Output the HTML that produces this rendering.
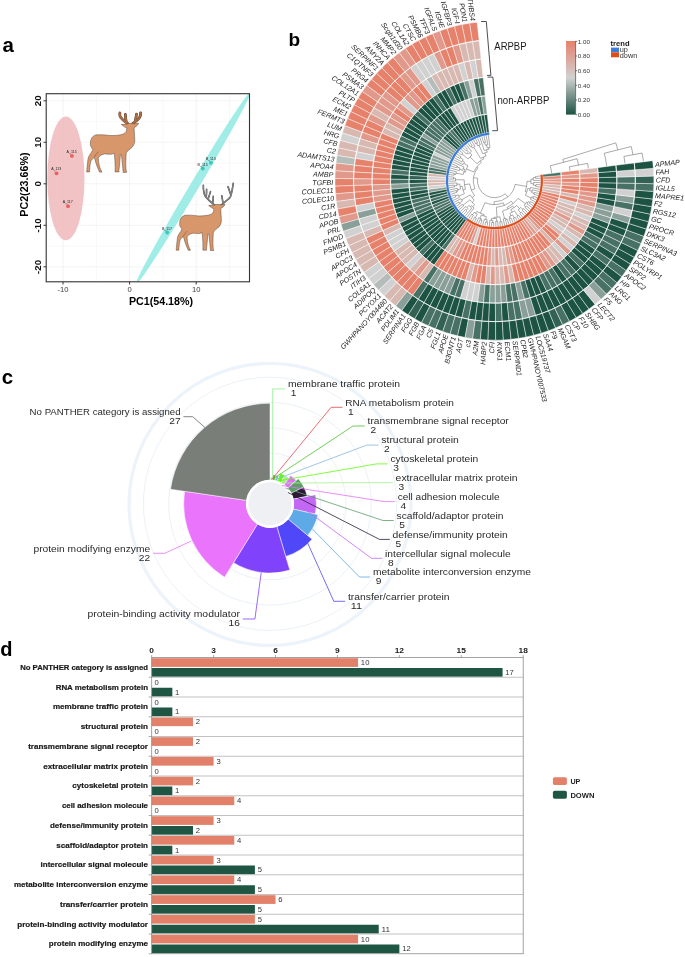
<!DOCTYPE html><html><head><meta charset="utf-8"><style>html,body{margin:0;padding:0;background:#fff;}svg{display:block;font-family:"Liberation Sans", sans-serif;will-change:transform;}</style></head><body><svg width="685" height="957" viewBox="0 0 685 957"><rect width="685" height="957" fill="#fff"/><text x="2.50" y="51.80" font-size="20.5" text-anchor="start" fill="#000" font-weight="bold">a</text><text x="288.60" y="46.00" font-size="19" text-anchor="start" fill="#000" font-weight="bold">b</text><text x="1.80" y="383.60" font-size="20.5" text-anchor="start" fill="#000" font-weight="bold">c</text><text x="0.30" y="655.70" font-size="20" text-anchor="start" fill="#000" font-weight="bold">d</text><defs><clipPath id="pa"><rect x="46.2" y="93.7" width="203.3" height="188.10000000000002"/></clipPath></defs><g clip-path="url(#pa)"><line x1="63.00" y1="93.7" x2="63.00" y2="281.8" stroke="#ebebeb" stroke-width="0.6"/><line x1="96.30" y1="93.7" x2="96.30" y2="281.8" stroke="#ebebeb" stroke-width="0.35"/><line x1="129.60" y1="93.7" x2="129.60" y2="281.8" stroke="#ebebeb" stroke-width="0.6"/><line x1="162.90" y1="93.7" x2="162.90" y2="281.8" stroke="#ebebeb" stroke-width="0.35"/><line x1="196.20" y1="93.7" x2="196.20" y2="281.8" stroke="#ebebeb" stroke-width="0.6"/><line x1="229.50" y1="93.7" x2="229.50" y2="281.8" stroke="#ebebeb" stroke-width="0.35"/><line x1="46.2" y1="266.80" x2="249.5" y2="266.80" stroke="#ebebeb" stroke-width="0.6"/><line x1="46.2" y1="246.05" x2="249.5" y2="246.05" stroke="#ebebeb" stroke-width="0.35"/><line x1="46.2" y1="225.30" x2="249.5" y2="225.30" stroke="#ebebeb" stroke-width="0.6"/><line x1="46.2" y1="204.55" x2="249.5" y2="204.55" stroke="#ebebeb" stroke-width="0.35"/><line x1="46.2" y1="183.80" x2="249.5" y2="183.80" stroke="#ebebeb" stroke-width="0.6"/><line x1="46.2" y1="163.05" x2="249.5" y2="163.05" stroke="#ebebeb" stroke-width="0.35"/><line x1="46.2" y1="142.30" x2="249.5" y2="142.30" stroke="#ebebeb" stroke-width="0.6"/><line x1="46.2" y1="121.55" x2="249.5" y2="121.55" stroke="#ebebeb" stroke-width="0.35"/><line x1="46.2" y1="100.80" x2="249.5" y2="100.80" stroke="#ebebeb" stroke-width="0.6"/><ellipse cx="65.9" cy="178.4" rx="18.6" ry="61.9" fill="#eeb8bb" fill-opacity="0.85"/><ellipse cx="193.2" cy="188.2" rx="112" ry="4.4" fill="#8fe9e2" fill-opacity="0.85" transform="rotate(-59.22 193.2 188.2)"/></g><rect x="46.2" y="93.7" width="203.3" height="188.10000000000002" fill="none" stroke="#333" stroke-width="1.1"/><line x1="63.00" y1="281.8" x2="63.00" y2="284.5" stroke="#333" stroke-width="1"/><text x="63.00" y="292.20" font-size="7.6" text-anchor="middle" fill="#3a3a3a">-10</text><line x1="129.60" y1="281.8" x2="129.60" y2="284.5" stroke="#333" stroke-width="1"/><text x="129.60" y="292.20" font-size="7.6" text-anchor="middle" fill="#3a3a3a">0</text><line x1="196.20" y1="281.8" x2="196.20" y2="284.5" stroke="#333" stroke-width="1"/><text x="196.20" y="292.20" font-size="7.6" text-anchor="middle" fill="#3a3a3a">10</text><line x1="43.5" y1="266.80" x2="46.2" y2="266.80" stroke="#333" stroke-width="1"/><text x="40.90" y="266.80" font-size="9.8" text-anchor="middle" fill="#111" font-weight="bold" transform="rotate(-90.000 40.90 266.80)">-20</text><line x1="43.5" y1="225.30" x2="46.2" y2="225.30" stroke="#333" stroke-width="1"/><text x="40.90" y="225.30" font-size="9.8" text-anchor="middle" fill="#111" font-weight="bold" transform="rotate(-90.000 40.90 225.30)">-10</text><line x1="43.5" y1="183.80" x2="46.2" y2="183.80" stroke="#333" stroke-width="1"/><text x="40.90" y="183.80" font-size="9.8" text-anchor="middle" fill="#111" font-weight="bold" transform="rotate(-90.000 40.90 183.80)">0</text><line x1="43.5" y1="142.30" x2="46.2" y2="142.30" stroke="#333" stroke-width="1"/><text x="40.90" y="142.30" font-size="9.8" text-anchor="middle" fill="#111" font-weight="bold" transform="rotate(-90.000 40.90 142.30)">10</text><line x1="43.5" y1="100.80" x2="46.2" y2="100.80" stroke="#333" stroke-width="1"/><text x="40.90" y="100.80" font-size="9.8" text-anchor="middle" fill="#111" font-weight="bold" transform="rotate(-90.000 40.90 100.80)">20</text><text x="161.00" y="304.70" font-size="11.3" text-anchor="middle" fill="#000" font-weight="bold" textLength="64.20" lengthAdjust="spacingAndGlyphs">PC1(54.18%)</text><text x="27.60" y="184.60" font-size="11.3" text-anchor="middle" fill="#000" font-weight="bold" textLength="64.20" lengthAdjust="spacingAndGlyphs" transform="rotate(-90.000 27.60 184.60)">PC2(23.66%)</text><circle cx="56.5" cy="173.3" r="1.9" fill="#ee5e5a"/><line x1="55.3" y1="172.10000000000002" x2="54.3" y2="170.9" stroke="#333" stroke-width="0.25"/><text x="51.20" y="170.30" font-size="3.6" text-anchor="start" fill="#222">A_113</text><circle cx="71.9" cy="155.9" r="1.9" fill="#ee5e5a"/><line x1="70.7" y1="154.70000000000002" x2="69.7" y2="153.5" stroke="#333" stroke-width="0.25"/><text x="66.60" y="152.90" font-size="3.6" text-anchor="start" fill="#222">A_115</text><circle cx="68" cy="206.2" r="1.9" fill="#ee5e5a"/><line x1="66.8" y1="205.0" x2="65.8" y2="203.79999999999998" stroke="#333" stroke-width="0.25"/><text x="62.70" y="203.20" font-size="3.6" text-anchor="start" fill="#222">A_117</text><circle cx="211" cy="162.8" r="1.9" fill="#3cc6be"/><line x1="209.8" y1="161.60000000000002" x2="208.8" y2="160.4" stroke="#333" stroke-width="0.25"/><text x="205.70" y="159.80" font-size="3.6" text-anchor="start" fill="#222">B_113</text><circle cx="202.8" cy="168.5" r="1.9" fill="#3cc6be"/><line x1="201.60000000000002" y1="167.3" x2="200.60000000000002" y2="166.1" stroke="#333" stroke-width="0.25"/><text x="197.50" y="165.50" font-size="3.6" text-anchor="start" fill="#222">B_115</text><circle cx="167.2" cy="232.5" r="1.9" fill="#3cc6be"/><line x1="166.0" y1="231.3" x2="165.0" y2="230.1" stroke="#333" stroke-width="0.25"/><text x="161.90" y="229.50" font-size="3.6" text-anchor="start" fill="#222">B_117</text><g transform="translate(80,105) scale(0.10219)"><path d="M468,182 C440,162 405,140 392,110 C388,95 389,84 391,78" fill="none" stroke="#5b3b27" stroke-width="27" stroke-linecap="round"/><path d="M452,160 C447,135 444,112 444,92" fill="none" stroke="#5b3b27" stroke-width="27" stroke-linecap="round"/><path d="M516,182 C540,162 578,140 589,110 C593,95 594,84 593,78" fill="none" stroke="#5b3b27" stroke-width="27" stroke-linecap="round"/><path d="M542,152 C547,128 551,106 553,90" fill="none" stroke="#5b3b27" stroke-width="27" stroke-linecap="round"/><path d="M468,182 C440,162 405,140 392,110 C388,95 389,84 391,78" fill="none" stroke="#a96d48" stroke-width="20" stroke-linecap="round"/><path d="M452,160 C447,135 444,112 444,92" fill="none" stroke="#a96d48" stroke-width="20" stroke-linecap="round"/><path d="M516,182 C540,162 578,140 589,110 C593,95 594,84 593,78" fill="none" stroke="#a96d48" stroke-width="20" stroke-linecap="round"/><path d="M542,152 C547,128 551,106 553,90" fill="none" stroke="#a96d48" stroke-width="20" stroke-linecap="round"/><path d="M471,180 L518,180 C522,183 525,184 528,184 C545,181 560,180 574,179 C568,192 558,204 548,210 C540,215 532,220 529,224 C531,260 534,300 536,340 C538,380 520,410 490,430 C470,445 455,460 452,475 C448,530 446,600 452,645 L458,658 L422,660 C420,620 412,540 405,485 L395,485 C392,540 386,600 380,645 L383,655 L343,655 C346,600 342,540 336,473 C320,480 300,485 280,482 C260,480 245,478 239,479 C215,485 200,492 199,496 C185,505 180,515 179,519 C180,540 182,560 184,570 C190,600 200,630 210,645 L214,657 L190,656 C185,640 170,610 155,565 C150,545 145,525 139,512 C125,525 112,540 108,545 C100,570 96,600 94,645 L93,655 L65,656 C68,620 72,580 78,530 C82,505 95,485 113,462 C120,450 125,440 125,433 C118,425 110,418 113,416 C105,405 100,395 102,385 C100,360 105,330 125,310 C140,298 150,294 153,293 C200,288 250,292 294,299 C340,300 390,296 424,284 C440,275 452,262 454,254 C456,240 458,230 459,224 C450,222 440,218 434,214 C425,205 412,196 404,192 C420,188 440,188 459,189 C463,186 467,182 471,180 Z" fill="#d8976a" stroke="#4b3a30" stroke-width="4.5" stroke-linejoin="round"/><path d="M182,456 C165,470 150,490 140,510" fill="none" stroke="#4b3a30" stroke-width="4"/></g><g transform="translate(170,175) scale(0.10219)"><path d="M437,296 C405,270 360,230 344,206 C330,180 326,140 326,100" fill="none" stroke="#505050" stroke-width="16" stroke-linecap="round"/><path d="M355,212 C357,190 358,165 358,141" fill="none" stroke="#505050" stroke-width="16" stroke-linecap="round"/><path d="M377,223 C385,200 392,180 396,163" fill="none" stroke="#505050" stroke-width="16" stroke-linecap="round"/><path d="M420,266 C423,245 423,225 423,209" fill="none" stroke="#505050" stroke-width="16" stroke-linecap="round"/><path d="M497,296 C530,270 575,235 589,217 C603,190 612,130 619,82" fill="none" stroke="#505050" stroke-width="16" stroke-linecap="round"/><path d="M594,190 C585,165 575,135 567,114" fill="none" stroke="#505050" stroke-width="16" stroke-linecap="round"/><path d="M518,266 C514,245 510,225 507,204" fill="none" stroke="#505050" stroke-width="16" stroke-linecap="round"/><path d="M437,296 C405,270 360,230 344,206 C330,180 326,140 326,100" fill="none" stroke="#838383" stroke-width="11" stroke-linecap="round"/><path d="M355,212 C357,190 358,165 358,141" fill="none" stroke="#838383" stroke-width="11" stroke-linecap="round"/><path d="M377,223 C385,200 392,180 396,163" fill="none" stroke="#838383" stroke-width="11" stroke-linecap="round"/><path d="M420,266 C423,245 423,225 423,209" fill="none" stroke="#838383" stroke-width="11" stroke-linecap="round"/><path d="M497,296 C530,270 575,235 589,217 C603,190 612,130 619,82" fill="none" stroke="#838383" stroke-width="11" stroke-linecap="round"/><path d="M594,190 C585,165 575,135 567,114" fill="none" stroke="#838383" stroke-width="11" stroke-linecap="round"/><path d="M518,266 C514,245 510,225 507,204" fill="none" stroke="#838383" stroke-width="11" stroke-linecap="round"/></g><g transform="translate(169.89,187.22) scale(0.09606)"><path d="M471,180 L518,180 C522,183 525,184 528,184 C545,181 560,180 574,179 C568,192 558,204 548,210 C540,215 532,220 529,224 C531,260 534,300 536,340 C538,380 520,410 490,430 C470,445 455,460 452,475 C448,530 446,600 452,645 L458,658 L422,660 C420,620 412,540 405,485 L395,485 C392,540 386,600 380,645 L383,655 L343,655 C346,600 342,540 336,473 C320,480 300,485 280,482 C260,480 245,478 239,479 C215,485 200,492 199,496 C185,505 180,515 179,519 C180,540 182,560 184,570 C190,600 200,630 210,645 L214,657 L190,656 C185,640 170,610 155,565 C150,545 145,525 139,512 C125,525 112,540 108,545 C100,570 96,600 94,645 L93,655 L65,656 C68,620 72,580 78,530 C82,505 95,485 113,462 C120,450 125,440 125,433 C118,425 110,418 113,416 C105,405 100,395 102,385 C100,360 105,330 125,310 C140,298 150,294 153,293 C200,288 250,292 294,299 C340,300 390,296 424,284 C440,275 452,262 454,254 C456,240 458,230 459,224 C450,222 440,218 434,214 C425,205 412,196 404,192 C420,188 440,188 459,189 C463,186 467,182 471,180 Z" fill="#d8976a" stroke="#4b3a30" stroke-width="4.8" stroke-linejoin="round"/><path d="M182,456 C165,470 150,490 140,510" fill="none" stroke="#4b3a30" stroke-width="4.2"/></g><rect x="151.7" y="658.20" width="206.39" height="8.7" fill="#e2806a"/><rect x="151.7" y="668.00" width="350.86" height="8.7" fill="#1e5643"/><text x="360.89" y="665.00" font-size="7.0" text-anchor="start" fill="#333" textLength="8.53" lengthAdjust="spacingAndGlyphs">10</text><text x="505.36" y="674.80" font-size="7.0" text-anchor="start" fill="#333" textLength="8.53" lengthAdjust="spacingAndGlyphs">17</text><line x1="148.7" y1="677.25" x2="151.7" y2="677.25" stroke="#888" stroke-width="0.7"/><text x="148.00" y="669.98" font-size="7.0" text-anchor="end" fill="#1a1a1a" font-weight="bold" textLength="127.84" lengthAdjust="spacingAndGlyphs" stroke="#1a1a1a" stroke-width="0.18">No PANTHER category is assigned</text><rect x="151.7" y="687.75" width="20.64" height="8.7" fill="#1e5643"/><text x="154.50" y="684.75" font-size="7.0" text-anchor="start" fill="#333" textLength="4.26" lengthAdjust="spacingAndGlyphs">0</text><text x="175.14" y="694.55" font-size="7.0" text-anchor="start" fill="#333" textLength="4.26" lengthAdjust="spacingAndGlyphs">1</text><line x1="151.7" y1="677.25" x2="523.2" y2="677.25" stroke="#a8a8a8" stroke-width="0.7"/><line x1="148.7" y1="697.00" x2="151.7" y2="697.00" stroke="#888" stroke-width="0.7"/><text x="148.00" y="689.73" font-size="7.0" text-anchor="end" fill="#1a1a1a" font-weight="bold" textLength="92.34" lengthAdjust="spacingAndGlyphs" stroke="#1a1a1a" stroke-width="0.18">RNA metabolism protein</text><rect x="151.7" y="707.50" width="20.64" height="8.7" fill="#1e5643"/><text x="154.50" y="704.50" font-size="7.0" text-anchor="start" fill="#333" textLength="4.26" lengthAdjust="spacingAndGlyphs">0</text><text x="175.14" y="714.30" font-size="7.0" text-anchor="start" fill="#333" textLength="4.26" lengthAdjust="spacingAndGlyphs">1</text><line x1="151.7" y1="697.00" x2="523.2" y2="697.00" stroke="#a8a8a8" stroke-width="0.7"/><line x1="148.7" y1="716.75" x2="151.7" y2="716.75" stroke="#888" stroke-width="0.7"/><text x="148.00" y="709.48" font-size="7.0" text-anchor="end" fill="#1a1a1a" font-weight="bold" textLength="95.10" lengthAdjust="spacingAndGlyphs" stroke="#1a1a1a" stroke-width="0.18">membrane traffic protein</text><rect x="151.7" y="717.45" width="41.28" height="8.7" fill="#e2806a"/><text x="195.78" y="724.25" font-size="7.0" text-anchor="start" fill="#333" textLength="4.26" lengthAdjust="spacingAndGlyphs">2</text><text x="154.50" y="734.05" font-size="7.0" text-anchor="start" fill="#333" textLength="4.26" lengthAdjust="spacingAndGlyphs">0</text><line x1="151.7" y1="716.75" x2="523.2" y2="716.75" stroke="#a8a8a8" stroke-width="0.7"/><line x1="148.7" y1="736.50" x2="151.7" y2="736.50" stroke="#888" stroke-width="0.7"/><text x="148.00" y="729.23" font-size="7.0" text-anchor="end" fill="#1a1a1a" font-weight="bold" textLength="67.18" lengthAdjust="spacingAndGlyphs" stroke="#1a1a1a" stroke-width="0.18">structural protein</text><rect x="151.7" y="737.20" width="41.28" height="8.7" fill="#e2806a"/><text x="195.78" y="744.00" font-size="7.0" text-anchor="start" fill="#333" textLength="4.26" lengthAdjust="spacingAndGlyphs">2</text><text x="154.50" y="753.80" font-size="7.0" text-anchor="start" fill="#333" textLength="4.26" lengthAdjust="spacingAndGlyphs">0</text><line x1="151.7" y1="736.50" x2="523.2" y2="736.50" stroke="#a8a8a8" stroke-width="0.7"/><line x1="148.7" y1="756.25" x2="151.7" y2="756.25" stroke="#888" stroke-width="0.7"/><text x="148.00" y="748.98" font-size="7.0" text-anchor="end" fill="#1a1a1a" font-weight="bold" textLength="119.83" lengthAdjust="spacingAndGlyphs" stroke="#1a1a1a" stroke-width="0.18">transmembrane signal receptor</text><rect x="151.7" y="756.95" width="61.92" height="8.7" fill="#e2806a"/><text x="216.42" y="763.75" font-size="7.0" text-anchor="start" fill="#333" textLength="4.26" lengthAdjust="spacingAndGlyphs">3</text><text x="154.50" y="773.55" font-size="7.0" text-anchor="start" fill="#333" textLength="4.26" lengthAdjust="spacingAndGlyphs">0</text><line x1="151.7" y1="756.25" x2="523.2" y2="756.25" stroke="#a8a8a8" stroke-width="0.7"/><line x1="148.7" y1="776.00" x2="151.7" y2="776.00" stroke="#888" stroke-width="0.7"/><text x="148.00" y="768.73" font-size="7.0" text-anchor="end" fill="#1a1a1a" font-weight="bold" textLength="104.70" lengthAdjust="spacingAndGlyphs" stroke="#1a1a1a" stroke-width="0.18">extracellular matrix protein</text><rect x="151.7" y="776.70" width="41.28" height="8.7" fill="#e2806a"/><rect x="151.7" y="786.50" width="20.64" height="8.7" fill="#1e5643"/><text x="195.78" y="783.50" font-size="7.0" text-anchor="start" fill="#333" textLength="4.26" lengthAdjust="spacingAndGlyphs">2</text><text x="175.14" y="793.30" font-size="7.0" text-anchor="start" fill="#333" textLength="4.26" lengthAdjust="spacingAndGlyphs">1</text><line x1="151.7" y1="776.00" x2="523.2" y2="776.00" stroke="#a8a8a8" stroke-width="0.7"/><line x1="148.7" y1="795.75" x2="151.7" y2="795.75" stroke="#888" stroke-width="0.7"/><text x="148.00" y="788.48" font-size="7.0" text-anchor="end" fill="#1a1a1a" font-weight="bold" textLength="75.66" lengthAdjust="spacingAndGlyphs" stroke="#1a1a1a" stroke-width="0.18">cytoskeletal protein</text><rect x="151.7" y="796.45" width="82.56" height="8.7" fill="#e2806a"/><text x="237.06" y="803.25" font-size="7.0" text-anchor="start" fill="#333" textLength="4.26" lengthAdjust="spacingAndGlyphs">4</text><text x="154.50" y="813.05" font-size="7.0" text-anchor="start" fill="#333" textLength="4.26" lengthAdjust="spacingAndGlyphs">0</text><line x1="151.7" y1="795.75" x2="523.2" y2="795.75" stroke="#a8a8a8" stroke-width="0.7"/><line x1="148.7" y1="815.50" x2="151.7" y2="815.50" stroke="#888" stroke-width="0.7"/><text x="148.00" y="808.23" font-size="7.0" text-anchor="end" fill="#1a1a1a" font-weight="bold" textLength="86.07" lengthAdjust="spacingAndGlyphs" stroke="#1a1a1a" stroke-width="0.18">cell adhesion molecule</text><rect x="151.7" y="816.20" width="61.92" height="8.7" fill="#e2806a"/><rect x="151.7" y="826.00" width="41.28" height="8.7" fill="#1e5643"/><text x="216.42" y="823.00" font-size="7.0" text-anchor="start" fill="#333" textLength="4.26" lengthAdjust="spacingAndGlyphs">3</text><text x="195.78" y="832.80" font-size="7.0" text-anchor="start" fill="#333" textLength="4.26" lengthAdjust="spacingAndGlyphs">2</text><line x1="151.7" y1="815.50" x2="523.2" y2="815.50" stroke="#a8a8a8" stroke-width="0.7"/><line x1="148.7" y1="835.25" x2="151.7" y2="835.25" stroke="#888" stroke-width="0.7"/><text x="148.00" y="827.98" font-size="7.0" text-anchor="end" fill="#1a1a1a" font-weight="bold" textLength="98.06" lengthAdjust="spacingAndGlyphs" stroke="#1a1a1a" stroke-width="0.18">defense/immunity protein</text><rect x="151.7" y="835.95" width="82.56" height="8.7" fill="#e2806a"/><rect x="151.7" y="845.75" width="20.64" height="8.7" fill="#1e5643"/><text x="237.06" y="842.75" font-size="7.0" text-anchor="start" fill="#333" textLength="4.26" lengthAdjust="spacingAndGlyphs">4</text><text x="175.14" y="852.55" font-size="7.0" text-anchor="start" fill="#333" textLength="4.26" lengthAdjust="spacingAndGlyphs">1</text><line x1="151.7" y1="835.25" x2="523.2" y2="835.25" stroke="#a8a8a8" stroke-width="0.7"/><line x1="148.7" y1="855.00" x2="151.7" y2="855.00" stroke="#888" stroke-width="0.7"/><text x="148.00" y="847.73" font-size="7.0" text-anchor="end" fill="#1a1a1a" font-weight="bold" textLength="91.64" lengthAdjust="spacingAndGlyphs" stroke="#1a1a1a" stroke-width="0.18">scaffold/adaptor protein</text><rect x="151.7" y="855.70" width="61.92" height="8.7" fill="#e2806a"/><rect x="151.7" y="865.50" width="103.19" height="8.7" fill="#1e5643"/><text x="216.42" y="862.50" font-size="7.0" text-anchor="start" fill="#333" textLength="4.26" lengthAdjust="spacingAndGlyphs">3</text><text x="257.69" y="872.30" font-size="7.0" text-anchor="start" fill="#333" textLength="4.26" lengthAdjust="spacingAndGlyphs">5</text><line x1="151.7" y1="855.00" x2="523.2" y2="855.00" stroke="#a8a8a8" stroke-width="0.7"/><line x1="148.7" y1="874.75" x2="151.7" y2="874.75" stroke="#888" stroke-width="0.7"/><text x="148.00" y="867.48" font-size="7.0" text-anchor="end" fill="#1a1a1a" font-weight="bold" textLength="107.46" lengthAdjust="spacingAndGlyphs" stroke="#1a1a1a" stroke-width="0.18">intercellular signal molecule</text><rect x="151.7" y="875.45" width="82.56" height="8.7" fill="#e2806a"/><rect x="151.7" y="885.25" width="103.19" height="8.7" fill="#1e5643"/><text x="237.06" y="882.25" font-size="7.0" text-anchor="start" fill="#333" textLength="4.26" lengthAdjust="spacingAndGlyphs">4</text><text x="257.69" y="892.05" font-size="7.0" text-anchor="start" fill="#333" textLength="4.26" lengthAdjust="spacingAndGlyphs">5</text><line x1="151.7" y1="874.75" x2="523.2" y2="874.75" stroke="#a8a8a8" stroke-width="0.7"/><line x1="148.7" y1="894.50" x2="151.7" y2="894.50" stroke="#888" stroke-width="0.7"/><text x="148.00" y="887.23" font-size="7.0" text-anchor="end" fill="#1a1a1a" font-weight="bold" textLength="134.10" lengthAdjust="spacingAndGlyphs" stroke="#1a1a1a" stroke-width="0.18">metabolite interconversion enzyme</text><rect x="151.7" y="895.20" width="123.83" height="8.7" fill="#e2806a"/><rect x="151.7" y="905.00" width="103.19" height="8.7" fill="#1e5643"/><text x="278.33" y="902.00" font-size="7.0" text-anchor="start" fill="#333" textLength="4.26" lengthAdjust="spacingAndGlyphs">6</text><text x="257.69" y="911.80" font-size="7.0" text-anchor="start" fill="#333" textLength="4.26" lengthAdjust="spacingAndGlyphs">5</text><line x1="151.7" y1="894.50" x2="523.2" y2="894.50" stroke="#a8a8a8" stroke-width="0.7"/><line x1="148.7" y1="914.25" x2="151.7" y2="914.25" stroke="#888" stroke-width="0.7"/><text x="148.00" y="906.98" font-size="7.0" text-anchor="end" fill="#1a1a1a" font-weight="bold" textLength="88.09" lengthAdjust="spacingAndGlyphs" stroke="#1a1a1a" stroke-width="0.18">transfer/carrier protein</text><rect x="151.7" y="914.95" width="103.19" height="8.7" fill="#e2806a"/><rect x="151.7" y="924.75" width="227.03" height="8.7" fill="#1e5643"/><text x="257.69" y="921.75" font-size="7.0" text-anchor="start" fill="#333" textLength="4.26" lengthAdjust="spacingAndGlyphs">5</text><text x="381.53" y="931.55" font-size="7.0" text-anchor="start" fill="#333" textLength="8.53" lengthAdjust="spacingAndGlyphs">11</text><line x1="151.7" y1="914.25" x2="523.2" y2="914.25" stroke="#a8a8a8" stroke-width="0.7"/><line x1="148.7" y1="934.00" x2="151.7" y2="934.00" stroke="#888" stroke-width="0.7"/><text x="148.00" y="926.73" font-size="7.0" text-anchor="end" fill="#1a1a1a" font-weight="bold" textLength="130.79" lengthAdjust="spacingAndGlyphs" stroke="#1a1a1a" stroke-width="0.18">protein-binding activity modulator</text><rect x="151.7" y="934.70" width="206.39" height="8.7" fill="#e2806a"/><rect x="151.7" y="944.50" width="247.67" height="8.7" fill="#1e5643"/><text x="360.89" y="941.50" font-size="7.0" text-anchor="start" fill="#333" textLength="8.53" lengthAdjust="spacingAndGlyphs">10</text><text x="402.17" y="951.30" font-size="7.0" text-anchor="start" fill="#333" textLength="8.53" lengthAdjust="spacingAndGlyphs">12</text><line x1="151.7" y1="934.00" x2="523.2" y2="934.00" stroke="#a8a8a8" stroke-width="0.7"/><line x1="148.7" y1="953.75" x2="151.7" y2="953.75" stroke="#888" stroke-width="0.7"/><text x="148.00" y="946.48" font-size="7.0" text-anchor="end" fill="#1a1a1a" font-weight="bold" textLength="99.11" lengthAdjust="spacingAndGlyphs" stroke="#1a1a1a" stroke-width="0.18">protein modifying enzyme</text><rect x="151.7" y="657.5" width="371.50000000000006" height="296.25" fill="none" stroke="#8c8c8c" stroke-width="0.8"/><line x1="151.70" y1="655.0" x2="151.70" y2="657.5" stroke="#888" stroke-width="0.7"/><text x="151.70" y="652.50" font-size="7.0" text-anchor="middle" fill="#1a1a1a" font-weight="bold" textLength="4.66" lengthAdjust="spacingAndGlyphs">0</text><line x1="213.62" y1="655.0" x2="213.62" y2="657.5" stroke="#888" stroke-width="0.7"/><text x="213.62" y="652.50" font-size="7.0" text-anchor="middle" fill="#1a1a1a" font-weight="bold" textLength="4.66" lengthAdjust="spacingAndGlyphs">3</text><line x1="275.53" y1="655.0" x2="275.53" y2="657.5" stroke="#888" stroke-width="0.7"/><text x="275.53" y="652.50" font-size="7.0" text-anchor="middle" fill="#1a1a1a" font-weight="bold" textLength="4.66" lengthAdjust="spacingAndGlyphs">6</text><line x1="337.45" y1="655.0" x2="337.45" y2="657.5" stroke="#888" stroke-width="0.7"/><text x="337.45" y="652.50" font-size="7.0" text-anchor="middle" fill="#1a1a1a" font-weight="bold" textLength="4.66" lengthAdjust="spacingAndGlyphs">9</text><line x1="399.37" y1="655.0" x2="399.37" y2="657.5" stroke="#888" stroke-width="0.7"/><text x="399.37" y="652.50" font-size="7.0" text-anchor="middle" fill="#1a1a1a" font-weight="bold" textLength="9.32" lengthAdjust="spacingAndGlyphs">12</text><line x1="461.28" y1="655.0" x2="461.28" y2="657.5" stroke="#888" stroke-width="0.7"/><text x="461.28" y="652.50" font-size="7.0" text-anchor="middle" fill="#1a1a1a" font-weight="bold" textLength="9.32" lengthAdjust="spacingAndGlyphs">15</text><line x1="523.20" y1="655.0" x2="523.20" y2="657.5" stroke="#888" stroke-width="0.7"/><text x="523.20" y="652.50" font-size="7.0" text-anchor="middle" fill="#1a1a1a" font-weight="bold" textLength="9.32" lengthAdjust="spacingAndGlyphs">18</text><rect x="552.9" y="777.2" width="14" height="7.9" rx="1.8" fill="#e2806a"/><rect x="552.9" y="790.7" width="14" height="8" rx="1.8" fill="#1e5643"/><text x="570.40" y="784.20" font-size="7.2" text-anchor="start" fill="#222" font-weight="bold">UP</text><text x="570.40" y="797.70" font-size="7.2" text-anchor="start" fill="#222" font-weight="bold" textLength="24.00" lengthAdjust="spacingAndGlyphs">DOWN</text><circle cx="270.0" cy="504.40000000000003" r="141" fill="none" stroke="#edf3fb" stroke-width="3.3"/><circle cx="270.0" cy="503.8" r="50.7" fill="none" stroke="#e9eff6" stroke-width="0.9"/><circle cx="270.0" cy="503.8" r="76.0" fill="none" stroke="#e9eff6" stroke-width="0.9"/><circle cx="270.0" cy="503.8" r="101.3" fill="none" stroke="#e9eff6" stroke-width="0.9"/><circle cx="270.0" cy="503.8" r="126.6" fill="none" stroke="#e9eff6" stroke-width="0.9"/><path d="M270.00,480.20 L270.00,477.35 A26.45,26.45 0 0 1 271.40,477.39 L271.25,480.23 A23.6,23.6 0 0 0 270.00,480.20 Z" fill="#90ee90" stroke="#fff" stroke-width="0.5"/><path d="M271.25,480.23 L271.40,477.39 A26.45,26.45 0 0 1 272.79,477.50 L272.49,480.33 A23.6,23.6 0 0 0 271.25,480.23 Z" fill="#e6474c" stroke="#fff" stroke-width="0.5"/><path d="M272.49,480.33 L273.09,474.66 A29.30,29.30 0 0 1 276.14,475.15 L274.95,480.72 A23.6,23.6 0 0 0 272.49,480.33 Z" fill="#52c02e" stroke="#fff" stroke-width="0.5"/><path d="M274.95,480.72 L276.14,475.15 A29.30,29.30 0 0 1 279.13,475.96 L277.35,481.37 A23.6,23.6 0 0 0 274.95,480.72 Z" fill="#8cb6de" stroke="#fff" stroke-width="0.5"/><path d="M277.35,481.37 L280.02,473.25 A32.15,32.15 0 0 1 284.71,475.21 L280.80,482.81 A23.6,23.6 0 0 0 277.35,481.37 Z" fill="#66fa10" stroke="#fff" stroke-width="0.5"/><path d="M280.80,482.81 L284.71,475.21 A32.15,32.15 0 0 1 289.03,477.89 L283.97,484.78 A23.6,23.6 0 0 0 280.80,482.81 Z" fill="#a6f08e" stroke="#fff" stroke-width="0.5"/><path d="M283.97,484.78 L290.72,475.59 A35.00,35.00 0 0 1 296.17,480.56 L287.65,488.13 A23.6,23.6 0 0 0 283.97,484.78 Z" fill="#e072f7" stroke="#fff" stroke-width="0.5"/><path d="M287.65,488.13 L298.31,478.67 A37.85,37.85 0 0 1 303.88,486.93 L291.13,493.28 A23.6,23.6 0 0 0 287.65,488.13 Z" fill="#5e9e68" stroke="#fff" stroke-width="0.5"/><path d="M291.13,493.28 L303.88,486.93 A37.85,37.85 0 0 1 307.11,496.35 L293.14,499.16 A23.6,23.6 0 0 0 291.13,493.28 Z" fill="#2b1a36" stroke="#fff" stroke-width="0.5"/><path d="M293.14,499.16 L315.49,494.67 A46.40,46.40 0 0 1 315.24,514.12 L293.01,509.05 A23.6,23.6 0 0 0 293.14,499.16 Z" fill="#c467f5" stroke="#fff" stroke-width="0.5"/><path d="M293.01,509.05 L318.02,514.76 A49.25,49.25 0 0 1 307.68,535.51 L288.06,519.00 A23.6,23.6 0 0 0 293.01,509.05 Z" fill="#5daae6" stroke="#fff" stroke-width="0.5"/><path d="M288.06,519.00 L312.04,539.18 A54.95,54.95 0 0 1 285.73,556.45 L276.76,526.41 A23.6,23.6 0 0 0 288.06,519.00 Z" fill="#5048f8" stroke="#fff" stroke-width="0.5"/><path d="M276.76,526.41 L289.81,570.10 A69.20,69.20 0 0 1 233.57,562.64 L257.58,523.87 A23.6,23.6 0 0 0 276.76,526.41 Z" fill="#8142fc" stroke="#fff" stroke-width="0.5"/><path d="M257.58,523.87 L224.57,577.17 A86.30,86.30 0 0 1 184.61,491.31 L246.65,500.39 A23.6,23.6 0 0 0 257.58,523.87 Z" fill="#ea74fb" stroke="#fff" stroke-width="0.5"/><path d="M246.65,500.39 L170.51,489.25 A100.55,100.55 0 0 1 270.00,403.25 L270.00,480.20 A23.6,23.6 0 0 0 246.65,500.39 Z" fill="#7a7e78" stroke="#fff" stroke-width="0.5"/><circle cx="270.0" cy="503.8" r="24.1" fill="#fff"/><circle cx="270.0" cy="503.8" r="21.6" fill="#eff0f4"/><polyline points="272.7,478.0 272.7,388.9 285.1,388.9" fill="none" stroke="#90ee90" stroke-width="0.8"/><text x="287.90" y="387.20" font-size="9.3" text-anchor="start" fill="#2a2a2a" textLength="112.09" lengthAdjust="spacingAndGlyphs">membrane traffic protein</text><text x="290.73" y="396.10" font-size="9.3" text-anchor="start" fill="#2a2a2a" textLength="5.66" lengthAdjust="spacingAndGlyphs">1</text><polyline points="271.8,479.5 331.1,407.3 342.5,407.3" fill="none" stroke="#e6474c" stroke-width="0.8"/><text x="345.30" y="405.60" font-size="9.3" text-anchor="start" fill="#2a2a2a" textLength="108.66" lengthAdjust="spacingAndGlyphs">RNA metabolism protein</text><text x="348.13" y="414.50" font-size="9.3" text-anchor="start" fill="#2a2a2a" textLength="5.66" lengthAdjust="spacingAndGlyphs">1</text><polyline points="273.5,478.5 353.0,426.0 364.8,426.0" fill="none" stroke="#52c02e" stroke-width="0.8"/><text x="367.60" y="424.30" font-size="9.3" text-anchor="start" fill="#2a2a2a" textLength="141.11" lengthAdjust="spacingAndGlyphs">transmembrane signal receptor</text><text x="370.43" y="433.20" font-size="9.3" text-anchor="start" fill="#2a2a2a" textLength="5.66" lengthAdjust="spacingAndGlyphs">2</text><polyline points="275.5,479.5 366.7,445.1 378.5,445.1" fill="none" stroke="#8cb6de" stroke-width="0.8"/><text x="381.30" y="443.40" font-size="9.3" text-anchor="start" fill="#2a2a2a" textLength="77.50" lengthAdjust="spacingAndGlyphs">structural protein</text><text x="384.13" y="452.30" font-size="9.3" text-anchor="start" fill="#2a2a2a" textLength="5.66" lengthAdjust="spacingAndGlyphs">2</text><polyline points="277.5,481.0 376.5,463.9 387.6,463.9" fill="none" stroke="#66fa10" stroke-width="0.8"/><text x="390.40" y="462.20" font-size="9.3" text-anchor="start" fill="#2a2a2a" textLength="87.87" lengthAdjust="spacingAndGlyphs">cytoskeletal protein</text><text x="393.23" y="471.10" font-size="9.3" text-anchor="start" fill="#2a2a2a" textLength="5.66" lengthAdjust="spacingAndGlyphs">3</text><polyline points="280.5,483.0 384.0,482.6 392.8,482.6" fill="none" stroke="#a6f08e" stroke-width="0.8"/><text x="395.60" y="480.90" font-size="9.3" text-anchor="start" fill="#2a2a2a" textLength="122.04" lengthAdjust="spacingAndGlyphs">extracellular matrix protein</text><text x="398.43" y="489.80" font-size="9.3" text-anchor="start" fill="#2a2a2a" textLength="5.66" lengthAdjust="spacingAndGlyphs">3</text><polyline points="282.0,485.5 384.3,501.6 394.90000000000003,501.6" fill="none" stroke="#e072f7" stroke-width="0.8"/><text x="397.70" y="499.90" font-size="9.3" text-anchor="start" fill="#2a2a2a" textLength="101.93" lengthAdjust="spacingAndGlyphs">cell adhesion molecule</text><text x="400.53" y="508.80" font-size="9.3" text-anchor="start" fill="#2a2a2a" textLength="5.66" lengthAdjust="spacingAndGlyphs">4</text><polyline points="285.5,488.0 383.0,520.5 393.7,520.5" fill="none" stroke="#5e9e68" stroke-width="0.8"/><text x="396.50" y="518.80" font-size="9.3" text-anchor="start" fill="#2a2a2a" textLength="106.95" lengthAdjust="spacingAndGlyphs">scaffold/adaptor protein</text><text x="399.33" y="527.70" font-size="9.3" text-anchor="start" fill="#2a2a2a" textLength="5.66" lengthAdjust="spacingAndGlyphs">5</text><polyline points="288.0,492.5 379.5,539.4 389.8,539.4" fill="none" stroke="#2b1a36" stroke-width="0.8"/><text x="392.60" y="537.70" font-size="9.3" text-anchor="start" fill="#2a2a2a" textLength="115.27" lengthAdjust="spacingAndGlyphs">defense/immunity protein</text><text x="395.43" y="546.60" font-size="9.3" text-anchor="start" fill="#2a2a2a" textLength="5.66" lengthAdjust="spacingAndGlyphs">5</text><polyline points="295.0,502.0 371.5,558.3 382.3,558.3" fill="none" stroke="#c467f5" stroke-width="0.8"/><text x="385.10" y="556.60" font-size="9.3" text-anchor="start" fill="#2a2a2a" textLength="125.61" lengthAdjust="spacingAndGlyphs">intercellular signal molecule</text><text x="387.93" y="565.50" font-size="9.3" text-anchor="start" fill="#2a2a2a" textLength="5.66" lengthAdjust="spacingAndGlyphs">8</text><polyline points="303.5,520.0 359.5,577.0 370.1,577.0" fill="none" stroke="#5daae6" stroke-width="0.8"/><text x="372.90" y="575.30" font-size="9.3" text-anchor="start" fill="#2a2a2a" textLength="158.07" lengthAdjust="spacingAndGlyphs">metabolite interconversion enzyme</text><text x="375.73" y="584.20" font-size="9.3" text-anchor="start" fill="#2a2a2a" textLength="5.66" lengthAdjust="spacingAndGlyphs">9</text><polyline points="306.3,540.0 333.8,601.3 345.1,601.3" fill="none" stroke="#5048f8" stroke-width="0.8"/><text x="347.90" y="599.60" font-size="9.3" text-anchor="start" fill="#2a2a2a" textLength="101.73" lengthAdjust="spacingAndGlyphs">transfer/carrier protein</text><text x="350.73" y="608.50" font-size="9.3" text-anchor="start" fill="#2a2a2a" textLength="11.32" lengthAdjust="spacingAndGlyphs">11</text><polyline points="261.2,572.8 254.9,619.0 242.7,619.0" fill="none" stroke="#8142fc" stroke-width="0.8"/><text x="239.90" y="617.30" font-size="9.3" text-anchor="end" fill="#2a2a2a" textLength="152.41" lengthAdjust="spacingAndGlyphs">protein-binding activity modulator</text><text x="239.90" y="626.20" font-size="9.3" text-anchor="end" fill="#2a2a2a" textLength="11.32" lengthAdjust="spacingAndGlyphs">16</text><polyline points="191.4,541.0 164.7,553.3 153.0,553.3" fill="none" stroke="#ea74fb" stroke-width="0.8"/><text x="150.20" y="551.60" font-size="9.3" text-anchor="end" fill="#2a2a2a" textLength="116.74" lengthAdjust="spacingAndGlyphs">protein modifying enzyme</text><text x="150.20" y="560.50" font-size="9.3" text-anchor="end" fill="#2a2a2a" textLength="11.32" lengthAdjust="spacingAndGlyphs">22</text><polyline points="204.8,427.4 192.7,416.7 183.39999999999998,416.7" fill="none" stroke="#666" stroke-width="0.8"/><text x="180.60" y="415.00" font-size="9.3" text-anchor="end" fill="#2a2a2a" textLength="150.96" lengthAdjust="spacingAndGlyphs">No PANTHER category is assigned</text><text x="180.60" y="423.90" font-size="9.3" text-anchor="end" fill="#2a2a2a" textLength="11.32" lengthAdjust="spacingAndGlyphs">27</text><g stroke="#fff" stroke-width="0.45"><path d="M489.17,132.49 L487.16,114.11 A66.99,66.99 0 0 0 483.95,114.54 L486.85,132.80 A48.50,48.50 0 0 1 489.17,132.49 Z" fill="#1d5343"/><path d="M487.16,114.11 L485.14,95.73 A85.48,85.48 0 0 0 481.06,96.28 L483.95,114.54 A66.99,66.99 0 0 1 487.16,114.11 Z" fill="#899f98"/><path d="M485.14,95.73 L483.13,77.35 A103.97,103.97 0 0 0 478.16,78.01 L481.06,96.28 A85.48,85.48 0 0 1 485.14,95.73 Z" fill="#487165"/><path d="M483.13,77.35 L481.12,58.97 A122.46,122.46 0 0 0 475.26,59.75 L478.16,78.01 A103.97,103.97 0 0 1 483.13,77.35 Z" fill="#d7b9b2"/><path d="M481.12,58.97 L479.11,40.59 A140.95,140.95 0 0 0 472.36,41.49 L475.26,59.75 A122.46,122.46 0 0 1 481.12,58.97 Z" fill="#d7b9b2"/><path d="M479.11,40.59 L477.09,22.21 A159.44,159.44 0 0 0 469.47,23.23 L472.36,41.49 A140.95,140.95 0 0 1 479.11,40.59 Z" fill="#e6816b"/><path d="M486.85,132.80 L483.95,114.54 A66.99,66.99 0 0 0 480.77,115.12 L484.55,133.22 A48.50,48.50 0 0 1 486.85,132.80 Z" fill="#1d5343"/><path d="M483.95,114.54 L481.06,96.28 A85.48,85.48 0 0 0 477.00,97.02 L480.77,115.12 A66.99,66.99 0 0 1 483.95,114.54 Z" fill="#487165"/><path d="M481.06,96.28 L478.16,78.01 A103.97,103.97 0 0 0 473.22,78.92 L477.00,97.02 A85.48,85.48 0 0 1 481.06,96.28 Z" fill="#487165"/><path d="M478.16,78.01 L475.26,59.75 A122.46,122.46 0 0 0 469.45,60.82 L473.22,78.92 A103.97,103.97 0 0 1 478.16,78.01 Z" fill="#d1d1d1"/><path d="M475.26,59.75 L472.36,41.49 A140.95,140.95 0 0 0 465.67,42.72 L469.45,60.82 A122.46,122.46 0 0 1 475.26,59.75 Z" fill="#d7b9b2"/><path d="M472.36,41.49 L469.47,23.23 A159.44,159.44 0 0 0 461.90,24.62 L465.67,42.72 A140.95,140.95 0 0 1 472.36,41.49 Z" fill="#e6816b"/><path d="M484.55,133.22 L480.77,115.12 A66.99,66.99 0 0 0 477.63,115.86 L482.27,133.75 A48.50,48.50 0 0 1 484.55,133.22 Z" fill="#1d5343"/><path d="M480.77,115.12 L477.00,97.02 A85.48,85.48 0 0 0 472.98,97.96 L477.63,115.86 A66.99,66.99 0 0 1 480.77,115.12 Z" fill="#899f98"/><path d="M477.00,97.02 L473.22,78.92 A103.97,103.97 0 0 0 468.34,80.06 L472.98,97.96 A85.48,85.48 0 0 1 477.00,97.02 Z" fill="#d1d1d1"/><path d="M473.22,78.92 L469.45,60.82 A122.46,122.46 0 0 0 463.70,62.16 L468.34,80.06 A103.97,103.97 0 0 1 473.22,78.92 Z" fill="#d7b9b2"/><path d="M469.45,60.82 L465.67,42.72 A140.95,140.95 0 0 0 459.05,44.27 L463.70,62.16 A122.46,122.46 0 0 1 469.45,60.82 Z" fill="#d7b9b2"/><path d="M465.67,42.72 L461.90,24.62 A159.44,159.44 0 0 0 454.41,26.37 L459.05,44.27 A140.95,140.95 0 0 1 465.67,42.72 Z" fill="#e6816b"/><path d="M482.27,133.75 L477.63,115.86 A66.99,66.99 0 0 0 474.52,116.74 L480.02,134.40 A48.50,48.50 0 0 1 482.27,133.75 Z" fill="#1d5343"/><path d="M477.63,115.86 L472.98,97.96 A85.48,85.48 0 0 0 469.02,99.09 L474.52,116.74 A66.99,66.99 0 0 1 477.63,115.86 Z" fill="#899f98"/><path d="M472.98,97.96 L468.34,80.06 A103.97,103.97 0 0 0 463.51,81.44 L469.02,99.09 A85.48,85.48 0 0 1 472.98,97.96 Z" fill="#899f98"/><path d="M468.34,80.06 L463.70,62.16 A122.46,122.46 0 0 0 458.01,63.79 L463.51,81.44 A103.97,103.97 0 0 1 468.34,80.06 Z" fill="#d1d1d1"/><path d="M463.70,62.16 L459.05,44.27 A140.95,140.95 0 0 0 452.51,46.13 L458.01,63.79 A122.46,122.46 0 0 1 463.70,62.16 Z" fill="#e0998a"/><path d="M459.05,44.27 L454.41,26.37 A159.44,159.44 0 0 0 447.01,28.48 L452.51,46.13 A140.95,140.95 0 0 1 459.05,44.27 Z" fill="#e6816b"/><path d="M480.02,134.40 L474.52,116.74 A66.99,66.99 0 0 0 471.46,117.78 L477.80,135.15 A48.50,48.50 0 0 1 480.02,134.40 Z" fill="#1d5343"/><path d="M474.52,116.74 L469.02,99.09 A85.48,85.48 0 0 0 465.11,100.41 L471.46,117.78 A66.99,66.99 0 0 1 474.52,116.74 Z" fill="#d1d1d1"/><path d="M469.02,99.09 L463.51,81.44 A103.97,103.97 0 0 0 458.76,83.05 L465.11,100.41 A85.48,85.48 0 0 1 469.02,99.09 Z" fill="#487165"/><path d="M463.51,81.44 L458.01,63.79 A122.46,122.46 0 0 0 452.42,65.68 L458.76,83.05 A103.97,103.97 0 0 1 463.51,81.44 Z" fill="#d7b9b2"/><path d="M458.01,63.79 L452.51,46.13 A140.95,140.95 0 0 0 446.07,48.31 L452.42,65.68 A122.46,122.46 0 0 1 458.01,63.79 Z" fill="#e6816b"/><path d="M452.51,46.13 L447.01,28.48 A159.44,159.44 0 0 0 439.72,30.95 L446.07,48.31 A140.95,140.95 0 0 1 452.51,46.13 Z" fill="#e6816b"/><path d="M477.80,135.15 L471.46,117.78 A66.99,66.99 0 0 0 468.45,118.96 L475.62,136.00 A48.50,48.50 0 0 1 477.80,135.15 Z" fill="#1d5343"/><path d="M471.46,117.78 L465.11,100.41 A85.48,85.48 0 0 0 461.27,101.92 L468.45,118.96 A66.99,66.99 0 0 1 471.46,117.78 Z" fill="#d1d1d1"/><path d="M465.11,100.41 L458.76,83.05 A103.97,103.97 0 0 0 454.09,84.88 L461.27,101.92 A85.48,85.48 0 0 1 465.11,100.41 Z" fill="#1d5343"/><path d="M458.76,83.05 L452.42,65.68 A122.46,122.46 0 0 0 446.92,67.84 L454.09,84.88 A103.97,103.97 0 0 1 458.76,83.05 Z" fill="#d7b9b2"/><path d="M452.42,65.68 L446.07,48.31 A140.95,140.95 0 0 0 439.74,50.80 L446.92,67.84 A122.46,122.46 0 0 1 452.42,65.68 Z" fill="#e6816b"/><path d="M446.07,48.31 L439.72,30.95 A159.44,159.44 0 0 0 432.56,33.76 L439.74,50.80 A140.95,140.95 0 0 1 446.07,48.31 Z" fill="#e0998a"/><path d="M475.62,136.00 L468.45,118.96 A66.99,66.99 0 0 0 465.50,120.29 L473.49,136.96 A48.50,48.50 0 0 1 475.62,136.00 Z" fill="#1d5343"/><path d="M468.45,118.96 L461.27,101.92 A85.48,85.48 0 0 0 457.51,103.61 L465.50,120.29 A66.99,66.99 0 0 1 468.45,118.96 Z" fill="#d1d1d1"/><path d="M461.27,101.92 L454.09,84.88 A103.97,103.97 0 0 0 449.52,86.94 L457.51,103.61 A85.48,85.48 0 0 1 461.27,101.92 Z" fill="#1d5343"/><path d="M454.09,84.88 L446.92,67.84 A122.46,122.46 0 0 0 441.53,70.27 L449.52,86.94 A103.97,103.97 0 0 1 454.09,84.88 Z" fill="#d7b9b2"/><path d="M446.92,67.84 L439.74,50.80 A140.95,140.95 0 0 0 433.54,53.59 L441.53,70.27 A122.46,122.46 0 0 1 446.92,67.84 Z" fill="#e0998a"/><path d="M439.74,50.80 L432.56,33.76 A159.44,159.44 0 0 0 425.55,36.92 L433.54,53.59 A140.95,140.95 0 0 1 439.74,50.80 Z" fill="#e6816b"/><path d="M473.49,136.96 L465.50,120.29 A66.99,66.99 0 0 0 462.62,121.76 L471.40,138.02 A48.50,48.50 0 0 1 473.49,136.96 Z" fill="#1d5343"/><path d="M465.50,120.29 L457.51,103.61 A85.48,85.48 0 0 0 453.83,105.49 L462.62,121.76 A66.99,66.99 0 0 1 465.50,120.29 Z" fill="#d1d1d1"/><path d="M457.51,103.61 L449.52,86.94 A103.97,103.97 0 0 0 445.05,89.22 L453.83,105.49 A85.48,85.48 0 0 1 457.51,103.61 Z" fill="#487165"/><path d="M449.52,86.94 L441.53,70.27 A122.46,122.46 0 0 0 436.26,72.95 L445.05,89.22 A103.97,103.97 0 0 1 449.52,86.94 Z" fill="#d7b9b2"/><path d="M441.53,70.27 L433.54,53.59 A140.95,140.95 0 0 0 427.48,56.68 L436.26,72.95 A122.46,122.46 0 0 1 441.53,70.27 Z" fill="#d1d1d1"/><path d="M433.54,53.59 L425.55,36.92 A159.44,159.44 0 0 0 418.69,40.41 L427.48,56.68 A140.95,140.95 0 0 1 433.54,53.59 Z" fill="#e6816b"/><path d="M471.40,138.02 L462.62,121.76 A66.99,66.99 0 0 0 459.81,123.36 L469.37,139.19 A48.50,48.50 0 0 1 471.40,138.02 Z" fill="#1d5343"/><path d="M462.62,121.76 L453.83,105.49 A85.48,85.48 0 0 0 450.25,107.53 L459.81,123.36 A66.99,66.99 0 0 1 462.62,121.76 Z" fill="#d1d1d1"/><path d="M453.83,105.49 L445.05,89.22 A103.97,103.97 0 0 0 440.69,91.71 L450.25,107.53 A85.48,85.48 0 0 1 453.83,105.49 Z" fill="#1d5343"/><path d="M445.05,89.22 L436.26,72.95 A122.46,122.46 0 0 0 431.13,75.88 L440.69,91.71 A103.97,103.97 0 0 1 445.05,89.22 Z" fill="#d7b9b2"/><path d="M436.26,72.95 L427.48,56.68 A140.95,140.95 0 0 0 421.57,60.05 L431.13,75.88 A122.46,122.46 0 0 1 436.26,72.95 Z" fill="#d1d1d1"/><path d="M427.48,56.68 L418.69,40.41 A159.44,159.44 0 0 0 412.01,44.23 L421.57,60.05 A140.95,140.95 0 0 1 427.48,56.68 Z" fill="#e6816b"/><path d="M469.37,139.19 L459.81,123.36 A66.99,66.99 0 0 0 457.09,125.10 L467.40,140.44 A48.50,48.50 0 0 1 469.37,139.19 Z" fill="#1d5343"/><path d="M459.81,123.36 L450.25,107.53 A85.48,85.48 0 0 0 446.77,109.75 L457.09,125.10 A66.99,66.99 0 0 1 459.81,123.36 Z" fill="#1d5343"/><path d="M450.25,107.53 L440.69,91.71 A103.97,103.97 0 0 0 436.46,94.40 L446.77,109.75 A85.48,85.48 0 0 1 450.25,107.53 Z" fill="#1d5343"/><path d="M440.69,91.71 L431.13,75.88 A122.46,122.46 0 0 0 426.15,79.06 L436.46,94.40 A103.97,103.97 0 0 1 440.69,91.71 Z" fill="#b4bdba"/><path d="M431.13,75.88 L421.57,60.05 A140.95,140.95 0 0 0 415.84,63.71 L426.15,79.06 A122.46,122.46 0 0 1 431.13,75.88 Z" fill="#d1d1d1"/><path d="M421.57,60.05 L412.01,44.23 A159.44,159.44 0 0 0 405.52,48.36 L415.84,63.71 A140.95,140.95 0 0 1 421.57,60.05 Z" fill="#e6816b"/><path d="M467.40,140.44 L457.09,125.10 A66.99,66.99 0 0 0 454.45,126.96 L465.49,141.80 A48.50,48.50 0 0 1 467.40,140.44 Z" fill="#1d5343"/><path d="M457.09,125.10 L446.77,109.75 A85.48,85.48 0 0 0 443.41,112.13 L454.45,126.96 A66.99,66.99 0 0 1 457.09,125.10 Z" fill="#1d5343"/><path d="M446.77,109.75 L436.46,94.40 A103.97,103.97 0 0 0 432.37,97.30 L443.41,112.13 A85.48,85.48 0 0 1 446.77,109.75 Z" fill="#487165"/><path d="M436.46,94.40 L426.15,79.06 A122.46,122.46 0 0 0 421.32,82.47 L432.37,97.30 A103.97,103.97 0 0 1 436.46,94.40 Z" fill="#d1d1d1"/><path d="M426.15,79.06 L415.84,63.71 A140.95,140.95 0 0 0 410.28,67.64 L421.32,82.47 A122.46,122.46 0 0 1 426.15,79.06 Z" fill="#d1d1d1"/><path d="M415.84,63.71 L405.52,48.36 A159.44,159.44 0 0 0 399.24,52.81 L410.28,67.64 A140.95,140.95 0 0 1 415.84,63.71 Z" fill="#e0998a"/><path d="M465.49,141.80 L454.45,126.96 A66.99,66.99 0 0 0 451.90,128.96 L463.65,143.24 A48.50,48.50 0 0 1 465.49,141.80 Z" fill="#1d5343"/><path d="M454.45,126.96 L443.41,112.13 A85.48,85.48 0 0 0 440.16,114.68 L451.90,128.96 A66.99,66.99 0 0 1 454.45,126.96 Z" fill="#1d5343"/><path d="M443.41,112.13 L432.37,97.30 A103.97,103.97 0 0 0 428.42,100.39 L440.16,114.68 A85.48,85.48 0 0 1 443.41,112.13 Z" fill="#1d5343"/><path d="M432.37,97.30 L421.32,82.47 A122.46,122.46 0 0 0 416.67,86.11 L428.42,100.39 A103.97,103.97 0 0 1 432.37,97.30 Z" fill="#e6816b"/><path d="M421.32,82.47 L410.28,67.64 A140.95,140.95 0 0 0 404.93,71.83 L416.67,86.11 A122.46,122.46 0 0 1 421.32,82.47 Z" fill="#e0998a"/><path d="M410.28,67.64 L399.24,52.81 A159.44,159.44 0 0 0 393.18,57.55 L404.93,71.83 A140.95,140.95 0 0 1 410.28,67.64 Z" fill="#e0998a"/><path d="M463.65,143.24 L451.90,128.96 A66.99,66.99 0 0 0 449.46,131.07 L461.87,144.77 A48.50,48.50 0 0 1 463.65,143.24 Z" fill="#487165"/><path d="M451.90,128.96 L440.16,114.68 A85.48,85.48 0 0 0 437.04,117.37 L449.46,131.07 A66.99,66.99 0 0 1 451.90,128.96 Z" fill="#1d5343"/><path d="M440.16,114.68 L428.42,100.39 A103.97,103.97 0 0 0 424.62,103.67 L437.04,117.37 A85.48,85.48 0 0 1 440.16,114.68 Z" fill="#1d5343"/><path d="M428.42,100.39 L416.67,86.11 A122.46,122.46 0 0 0 412.20,89.97 L424.62,103.67 A103.97,103.97 0 0 1 428.42,100.39 Z" fill="#e6816b"/><path d="M416.67,86.11 L404.93,71.83 A140.95,140.95 0 0 0 399.78,76.28 L412.20,89.97 A122.46,122.46 0 0 1 416.67,86.11 Z" fill="#e0998a"/><path d="M404.93,71.83 L393.18,57.55 A159.44,159.44 0 0 0 387.36,62.58 L399.78,76.28 A140.95,140.95 0 0 1 404.93,71.83 Z" fill="#e6816b"/><path d="M461.87,144.77 L449.46,131.07 A66.99,66.99 0 0 0 447.11,133.30 L460.18,146.38 A48.50,48.50 0 0 1 461.87,144.77 Z" fill="#487165"/><path d="M449.46,131.07 L437.04,117.37 A85.48,85.48 0 0 0 434.05,120.21 L447.11,133.30 A66.99,66.99 0 0 1 449.46,131.07 Z" fill="#487165"/><path d="M437.04,117.37 L424.62,103.67 A103.97,103.97 0 0 0 420.98,107.13 L434.05,120.21 A85.48,85.48 0 0 1 437.04,117.37 Z" fill="#1d5343"/><path d="M424.62,103.67 L412.20,89.97 A122.46,122.46 0 0 0 407.92,94.05 L420.98,107.13 A103.97,103.97 0 0 1 424.62,103.67 Z" fill="#e0998a"/><path d="M412.20,89.97 L399.78,76.28 A140.95,140.95 0 0 0 394.85,80.96 L407.92,94.05 A122.46,122.46 0 0 1 412.20,89.97 Z" fill="#e6816b"/><path d="M399.78,76.28 L387.36,62.58 A159.44,159.44 0 0 0 381.79,67.88 L394.85,80.96 A140.95,140.95 0 0 1 399.78,76.28 Z" fill="#e6816b"/><path d="M460.18,146.38 L447.11,133.30 A66.99,66.99 0 0 0 444.88,135.64 L458.56,148.07 A48.50,48.50 0 0 1 460.18,146.38 Z" fill="#1d5343"/><path d="M447.11,133.30 L434.05,120.21 A85.48,85.48 0 0 0 431.20,123.20 L444.88,135.64 A66.99,66.99 0 0 1 447.11,133.30 Z" fill="#487165"/><path d="M434.05,120.21 L420.98,107.13 A103.97,103.97 0 0 0 417.52,110.76 L431.20,123.20 A85.48,85.48 0 0 1 434.05,120.21 Z" fill="#1d5343"/><path d="M420.98,107.13 L407.92,94.05 A122.46,122.46 0 0 0 403.84,98.32 L417.52,110.76 A103.97,103.97 0 0 1 420.98,107.13 Z" fill="#e0998a"/><path d="M407.92,94.05 L394.85,80.96 A140.95,140.95 0 0 0 390.16,85.88 L403.84,98.32 A122.46,122.46 0 0 1 407.92,94.05 Z" fill="#e6816b"/><path d="M394.85,80.96 L381.79,67.88 A159.44,159.44 0 0 0 376.48,73.45 L390.16,85.88 A140.95,140.95 0 0 1 394.85,80.96 Z" fill="#e6816b"/><path d="M458.56,148.07 L444.88,135.64 A66.99,66.99 0 0 0 442.77,138.08 L457.03,149.84 A48.50,48.50 0 0 1 458.56,148.07 Z" fill="#1d5343"/><path d="M444.88,135.64 L431.20,123.20 A85.48,85.48 0 0 0 428.50,126.32 L442.77,138.08 A66.99,66.99 0 0 1 444.88,135.64 Z" fill="#487165"/><path d="M431.20,123.20 L417.52,110.76 A103.97,103.97 0 0 0 414.24,114.55 L428.50,126.32 A85.48,85.48 0 0 1 431.20,123.20 Z" fill="#487165"/><path d="M417.52,110.76 L403.84,98.32 A122.46,122.46 0 0 0 399.97,102.79 L414.24,114.55 A103.97,103.97 0 0 1 417.52,110.76 Z" fill="#d1d1d1"/><path d="M403.84,98.32 L390.16,85.88 A140.95,140.95 0 0 0 385.71,91.03 L399.97,102.79 A122.46,122.46 0 0 1 403.84,98.32 Z" fill="#e6816b"/><path d="M390.16,85.88 L376.48,73.45 A159.44,159.44 0 0 0 371.44,79.26 L385.71,91.03 A140.95,140.95 0 0 1 390.16,85.88 Z" fill="#e6816b"/><path d="M457.03,149.84 L442.77,138.08 A66.99,66.99 0 0 0 440.77,140.62 L455.59,151.68 A48.50,48.50 0 0 1 457.03,149.84 Z" fill="#899f98"/><path d="M442.77,138.08 L428.50,126.32 A85.48,85.48 0 0 0 425.95,129.56 L440.77,140.62 A66.99,66.99 0 0 1 442.77,138.08 Z" fill="#487165"/><path d="M428.50,126.32 L414.24,114.55 A103.97,103.97 0 0 0 411.14,118.50 L425.95,129.56 A85.48,85.48 0 0 1 428.50,126.32 Z" fill="#1d5343"/><path d="M414.24,114.55 L399.97,102.79 A122.46,122.46 0 0 0 396.32,107.44 L411.14,118.50 A103.97,103.97 0 0 1 414.24,114.55 Z" fill="#e0998a"/><path d="M399.97,102.79 L385.71,91.03 A140.95,140.95 0 0 0 381.51,96.38 L396.32,107.44 A122.46,122.46 0 0 1 399.97,102.79 Z" fill="#e0998a"/><path d="M385.71,91.03 L371.44,79.26 A159.44,159.44 0 0 0 366.69,85.31 L381.51,96.38 A140.95,140.95 0 0 1 385.71,91.03 Z" fill="#e6816b"/><path d="M455.59,151.68 L440.77,140.62 A66.99,66.99 0 0 0 438.90,143.26 L454.23,153.59 A48.50,48.50 0 0 1 455.59,151.68 Z" fill="#899f98"/><path d="M440.77,140.62 L425.95,129.56 A85.48,85.48 0 0 0 423.57,132.92 L438.90,143.26 A66.99,66.99 0 0 1 440.77,140.62 Z" fill="#487165"/><path d="M425.95,129.56 L411.14,118.50 A103.97,103.97 0 0 0 408.23,122.59 L423.57,132.92 A85.48,85.48 0 0 1 425.95,129.56 Z" fill="#1d5343"/><path d="M411.14,118.50 L396.32,107.44 A122.46,122.46 0 0 0 392.90,112.26 L408.23,122.59 A103.97,103.97 0 0 1 411.14,118.50 Z" fill="#e6816b"/><path d="M396.32,107.44 L381.51,96.38 A140.95,140.95 0 0 0 377.57,101.92 L392.90,112.26 A122.46,122.46 0 0 1 396.32,107.44 Z" fill="#e0998a"/><path d="M381.51,96.38 L366.69,85.31 A159.44,159.44 0 0 0 362.24,91.59 L377.57,101.92 A140.95,140.95 0 0 1 381.51,96.38 Z" fill="#e0998a"/><path d="M454.23,153.59 L438.90,143.26 A66.99,66.99 0 0 0 437.16,145.98 L452.97,155.56 A48.50,48.50 0 0 1 454.23,153.59 Z" fill="#899f98"/><path d="M438.90,143.26 L423.57,132.92 A85.48,85.48 0 0 0 421.35,136.40 L437.16,145.98 A66.99,66.99 0 0 1 438.90,143.26 Z" fill="#899f98"/><path d="M423.57,132.92 L408.23,122.59 A103.97,103.97 0 0 0 405.53,126.82 L421.35,136.40 A85.48,85.48 0 0 1 423.57,132.92 Z" fill="#1d5343"/><path d="M408.23,122.59 L392.90,112.26 A122.46,122.46 0 0 0 389.72,117.23 L405.53,126.82 A103.97,103.97 0 0 1 408.23,122.59 Z" fill="#e0998a"/><path d="M392.90,112.26 L377.57,101.92 A140.95,140.95 0 0 0 373.91,107.65 L389.72,117.23 A122.46,122.46 0 0 1 392.90,112.26 Z" fill="#e0998a"/><path d="M377.57,101.92 L362.24,91.59 A159.44,159.44 0 0 0 358.09,98.07 L373.91,107.65 A140.95,140.95 0 0 1 377.57,101.92 Z" fill="#e6816b"/><path d="M452.97,155.56 L437.16,145.98 A66.99,66.99 0 0 0 435.55,148.79 L451.81,157.60 A48.50,48.50 0 0 1 452.97,155.56 Z" fill="#899f98"/><path d="M437.16,145.98 L421.35,136.40 A85.48,85.48 0 0 0 419.29,139.98 L435.55,148.79 A66.99,66.99 0 0 1 437.16,145.98 Z" fill="#487165"/><path d="M421.35,136.40 L405.53,126.82 A103.97,103.97 0 0 0 403.04,131.17 L419.29,139.98 A85.48,85.48 0 0 1 421.35,136.40 Z" fill="#1d5343"/><path d="M405.53,126.82 L389.72,117.23 A122.46,122.46 0 0 0 386.78,122.36 L403.04,131.17 A103.97,103.97 0 0 1 405.53,126.82 Z" fill="#e0998a"/><path d="M389.72,117.23 L373.91,107.65 A140.95,140.95 0 0 0 370.52,113.55 L386.78,122.36 A122.46,122.46 0 0 1 389.72,117.23 Z" fill="#d7b9b2"/><path d="M373.91,107.65 L358.09,98.07 A159.44,159.44 0 0 0 354.27,104.74 L370.52,113.55 A140.95,140.95 0 0 1 373.91,107.65 Z" fill="#e6816b"/><path d="M451.81,157.60 L435.55,148.79 A66.99,66.99 0 0 0 434.08,151.66 L450.74,159.68 A48.50,48.50 0 0 1 451.81,157.60 Z" fill="#899f98"/><path d="M435.55,148.79 L419.29,139.98 A85.48,85.48 0 0 0 417.42,143.65 L434.08,151.66 A66.99,66.99 0 0 1 435.55,148.79 Z" fill="#487165"/><path d="M419.29,139.98 L403.04,131.17 A103.97,103.97 0 0 0 400.75,135.64 L417.42,143.65 A85.48,85.48 0 0 1 419.29,139.98 Z" fill="#1d5343"/><path d="M403.04,131.17 L386.78,122.36 A122.46,122.46 0 0 0 384.09,127.62 L400.75,135.64 A103.97,103.97 0 0 1 403.04,131.17 Z" fill="#d7b9b2"/><path d="M386.78,122.36 L370.52,113.55 A140.95,140.95 0 0 0 367.43,119.61 L384.09,127.62 A122.46,122.46 0 0 1 386.78,122.36 Z" fill="#e0998a"/><path d="M370.52,113.55 L354.27,104.74 A159.44,159.44 0 0 0 350.76,111.60 L367.43,119.61 A140.95,140.95 0 0 1 370.52,113.55 Z" fill="#e6816b"/><path d="M450.74,159.68 L434.08,151.66 A66.99,66.99 0 0 0 432.75,154.61 L449.78,161.81 A48.50,48.50 0 0 1 450.74,159.68 Z" fill="#d1d1d1"/><path d="M434.08,151.66 L417.42,143.65 A85.48,85.48 0 0 0 415.72,147.41 L432.75,154.61 A66.99,66.99 0 0 1 434.08,151.66 Z" fill="#1d5343"/><path d="M417.42,143.65 L400.75,135.64 A103.97,103.97 0 0 0 398.69,140.21 L415.72,147.41 A85.48,85.48 0 0 1 417.42,143.65 Z" fill="#487165"/><path d="M400.75,135.64 L384.09,127.62 A122.46,122.46 0 0 0 381.66,133.01 L398.69,140.21 A103.97,103.97 0 0 1 400.75,135.64 Z" fill="#d7b9b2"/><path d="M384.09,127.62 L367.43,119.61 A140.95,140.95 0 0 0 364.63,125.81 L381.66,133.01 A122.46,122.46 0 0 1 384.09,127.62 Z" fill="#e6816b"/><path d="M367.43,119.61 L350.76,111.60 A159.44,159.44 0 0 0 347.60,118.61 L364.63,125.81 A140.95,140.95 0 0 1 367.43,119.61 Z" fill="#e6816b"/><path d="M449.78,161.81 L432.75,154.61 A66.99,66.99 0 0 0 431.56,157.62 L448.92,163.99 A48.50,48.50 0 0 1 449.78,161.81 Z" fill="#899f98"/><path d="M432.75,154.61 L415.72,147.41 A85.48,85.48 0 0 0 414.20,151.25 L431.56,157.62 A66.99,66.99 0 0 1 432.75,154.61 Z" fill="#1d5343"/><path d="M415.72,147.41 L398.69,140.21 A103.97,103.97 0 0 0 396.85,144.88 L414.20,151.25 A85.48,85.48 0 0 1 415.72,147.41 Z" fill="#487165"/><path d="M398.69,140.21 L381.66,133.01 A122.46,122.46 0 0 0 379.49,138.51 L396.85,144.88 A103.97,103.97 0 0 1 398.69,140.21 Z" fill="#e6816b"/><path d="M381.66,133.01 L364.63,125.81 A140.95,140.95 0 0 0 362.13,132.13 L379.49,138.51 A122.46,122.46 0 0 1 381.66,133.01 Z" fill="#e6816b"/><path d="M364.63,125.81 L347.60,118.61 A159.44,159.44 0 0 0 344.77,125.76 L362.13,132.13 A140.95,140.95 0 0 1 364.63,125.81 Z" fill="#e6816b"/><path d="M448.92,163.99 L431.56,157.62 A66.99,66.99 0 0 0 430.52,160.68 L448.17,166.20 A48.50,48.50 0 0 1 448.92,163.99 Z" fill="#899f98"/><path d="M431.56,157.62 L414.20,151.25 A85.48,85.48 0 0 0 412.88,155.15 L430.52,160.68 A66.99,66.99 0 0 1 431.56,157.62 Z" fill="#1d5343"/><path d="M414.20,151.25 L396.85,144.88 A103.97,103.97 0 0 0 395.23,149.63 L412.88,155.15 A85.48,85.48 0 0 1 414.20,151.25 Z" fill="#1d5343"/><path d="M396.85,144.88 L379.49,138.51 A122.46,122.46 0 0 0 377.59,144.10 L395.23,149.63 A103.97,103.97 0 0 1 396.85,144.88 Z" fill="#e6816b"/><path d="M379.49,138.51 L362.13,132.13 A140.95,140.95 0 0 0 359.94,138.57 L377.59,144.10 A122.46,122.46 0 0 1 379.49,138.51 Z" fill="#e0998a"/><path d="M362.13,132.13 L344.77,125.76 A159.44,159.44 0 0 0 342.30,133.05 L359.94,138.57 A140.95,140.95 0 0 1 362.13,132.13 Z" fill="#d7b9b2"/><path d="M448.17,166.20 L430.52,160.68 A66.99,66.99 0 0 0 429.63,163.79 L447.52,168.45 A48.50,48.50 0 0 1 448.17,166.20 Z" fill="#899f98"/><path d="M430.52,160.68 L412.88,155.15 A85.48,85.48 0 0 0 411.74,159.12 L429.63,163.79 A66.99,66.99 0 0 1 430.52,160.68 Z" fill="#1d5343"/><path d="M412.88,155.15 L395.23,149.63 A103.97,103.97 0 0 0 393.85,154.45 L411.74,159.12 A85.48,85.48 0 0 1 412.88,155.15 Z" fill="#1d5343"/><path d="M395.23,149.63 L377.59,144.10 A122.46,122.46 0 0 0 375.96,149.78 L393.85,154.45 A103.97,103.97 0 0 1 395.23,149.63 Z" fill="#e6816b"/><path d="M377.59,144.10 L359.94,138.57 A140.95,140.95 0 0 0 358.07,145.11 L375.96,149.78 A122.46,122.46 0 0 1 377.59,144.10 Z" fill="#d7b9b2"/><path d="M359.94,138.57 L342.30,133.05 A159.44,159.44 0 0 0 340.18,140.44 L358.07,145.11 A140.95,140.95 0 0 1 359.94,138.57 Z" fill="#d1d1d1"/><path d="M447.52,168.45 L429.63,163.79 A66.99,66.99 0 0 0 428.89,166.93 L446.99,170.73 A48.50,48.50 0 0 1 447.52,168.45 Z" fill="#899f98"/><path d="M429.63,163.79 L411.74,159.12 A85.48,85.48 0 0 0 410.79,163.13 L428.89,166.93 A66.99,66.99 0 0 1 429.63,163.79 Z" fill="#1d5343"/><path d="M411.74,159.12 L393.85,154.45 A103.97,103.97 0 0 0 392.70,159.33 L410.79,163.13 A85.48,85.48 0 0 1 411.74,159.12 Z" fill="#1d5343"/><path d="M393.85,154.45 L375.96,149.78 A122.46,122.46 0 0 0 374.60,155.53 L392.70,159.33 A103.97,103.97 0 0 1 393.85,154.45 Z" fill="#e6816b"/><path d="M375.96,149.78 L358.07,145.11 A140.95,140.95 0 0 0 356.51,151.73 L374.60,155.53 A122.46,122.46 0 0 1 375.96,149.78 Z" fill="#d7b9b2"/><path d="M358.07,145.11 L340.18,140.44 A159.44,159.44 0 0 0 338.41,147.93 L356.51,151.73 A140.95,140.95 0 0 1 358.07,145.11 Z" fill="#d7b9b2"/><path d="M446.99,170.73 L428.89,166.93 A66.99,66.99 0 0 0 428.30,170.11 L446.56,173.03 A48.50,48.50 0 0 1 446.99,170.73 Z" fill="#487165"/><path d="M428.89,166.93 L410.79,163.13 A85.48,85.48 0 0 0 410.04,167.19 L428.30,170.11 A66.99,66.99 0 0 1 428.89,166.93 Z" fill="#1d5343"/><path d="M410.79,163.13 L392.70,159.33 A103.97,103.97 0 0 0 391.79,164.27 L410.04,167.19 A85.48,85.48 0 0 1 410.79,163.13 Z" fill="#1d5343"/><path d="M392.70,159.33 L374.60,155.53 A122.46,122.46 0 0 0 373.53,161.34 L391.79,164.27 A103.97,103.97 0 0 1 392.70,159.33 Z" fill="#e6816b"/><path d="M374.60,155.53 L356.51,151.73 A140.95,140.95 0 0 0 355.27,158.42 L373.53,161.34 A122.46,122.46 0 0 1 374.60,155.53 Z" fill="#d1d1d1"/><path d="M356.51,151.73 L338.41,147.93 A159.44,159.44 0 0 0 337.01,155.50 L355.27,158.42 A140.95,140.95 0 0 1 356.51,151.73 Z" fill="#d7b9b2"/><path d="M446.56,173.03 L428.30,170.11 A66.99,66.99 0 0 0 427.87,173.31 L446.25,175.35 A48.50,48.50 0 0 1 446.56,173.03 Z" fill="#487165"/><path d="M428.30,170.11 L410.04,167.19 A85.48,85.48 0 0 0 409.49,171.28 L427.87,173.31 A66.99,66.99 0 0 1 428.30,170.11 Z" fill="#1d5343"/><path d="M410.04,167.19 L391.79,164.27 A103.97,103.97 0 0 0 391.11,169.24 L409.49,171.28 A85.48,85.48 0 0 1 410.04,167.19 Z" fill="#1d5343"/><path d="M391.79,164.27 L373.53,161.34 A122.46,122.46 0 0 0 372.74,167.20 L391.11,169.24 A103.97,103.97 0 0 1 391.79,164.27 Z" fill="#e6816b"/><path d="M373.53,161.34 L355.27,158.42 A140.95,140.95 0 0 0 354.36,165.16 L372.74,167.20 A122.46,122.46 0 0 1 373.53,161.34 Z" fill="#e6816b"/><path d="M355.27,158.42 L337.01,155.50 A159.44,159.44 0 0 0 335.98,163.12 L354.36,165.16 A140.95,140.95 0 0 1 355.27,158.42 Z" fill="#b4bdba"/><path d="M446.25,175.35 L427.87,173.31 A66.99,66.99 0 0 0 427.59,176.53 L446.04,177.68 A48.50,48.50 0 0 1 446.25,175.35 Z" fill="#d7b9b2"/><path d="M427.87,173.31 L409.49,171.28 A85.48,85.48 0 0 0 409.14,175.38 L427.59,176.53 A66.99,66.99 0 0 1 427.87,173.31 Z" fill="#1d5343"/><path d="M409.49,171.28 L391.11,169.24 A103.97,103.97 0 0 0 390.68,174.24 L409.14,175.38 A85.48,85.48 0 0 1 409.49,171.28 Z" fill="#487165"/><path d="M391.11,169.24 L372.74,167.20 A122.46,122.46 0 0 0 372.23,173.09 L390.68,174.24 A103.97,103.97 0 0 1 391.11,169.24 Z" fill="#e6816b"/><path d="M372.74,167.20 L354.36,165.16 A140.95,140.95 0 0 0 353.77,171.94 L372.23,173.09 A122.46,122.46 0 0 1 372.74,167.20 Z" fill="#e6816b"/><path d="M354.36,165.16 L335.98,163.12 A159.44,159.44 0 0 0 335.32,170.79 L353.77,171.94 A140.95,140.95 0 0 1 354.36,165.16 Z" fill="#e0998a"/><path d="M446.04,177.68 L427.59,176.53 A66.99,66.99 0 0 0 427.47,179.76 L445.95,180.02 A48.50,48.50 0 0 1 446.04,177.68 Z" fill="#d1d1d1"/><path d="M427.59,176.53 L409.14,175.38 A85.48,85.48 0 0 0 408.98,179.51 L427.47,179.76 A66.99,66.99 0 0 1 427.59,176.53 Z" fill="#336254"/><path d="M409.14,175.38 L390.68,174.24 A103.97,103.97 0 0 0 390.49,179.25 L408.98,179.51 A85.48,85.48 0 0 1 409.14,175.38 Z" fill="#1d5343"/><path d="M390.68,174.24 L372.23,173.09 A122.46,122.46 0 0 0 372.00,178.99 L390.49,179.25 A103.97,103.97 0 0 1 390.68,174.24 Z" fill="#e6816b"/><path d="M372.23,173.09 L353.77,171.94 A140.95,140.95 0 0 0 353.51,178.73 L372.00,178.99 A122.46,122.46 0 0 1 372.23,173.09 Z" fill="#e6816b"/><path d="M353.77,171.94 L335.32,170.79 A159.44,159.44 0 0 0 335.03,178.47 L353.51,178.73 A140.95,140.95 0 0 1 353.77,171.94 Z" fill="#e0998a"/><path d="M445.95,180.02 L427.47,179.76 A66.99,66.99 0 0 0 427.50,183.00 L445.98,182.36 A48.50,48.50 0 0 1 445.95,180.02 Z" fill="#d7b9b2"/><path d="M427.47,179.76 L408.98,179.51 A85.48,85.48 0 0 0 409.02,183.63 L427.50,183.00 A66.99,66.99 0 0 1 427.47,179.76 Z" fill="#1d5343"/><path d="M408.98,179.51 L390.49,179.25 A103.97,103.97 0 0 0 390.54,184.27 L409.02,183.63 A85.48,85.48 0 0 1 408.98,179.51 Z" fill="#487165"/><path d="M390.49,179.25 L372.00,178.99 A122.46,122.46 0 0 0 372.06,184.90 L390.54,184.27 A103.97,103.97 0 0 1 390.49,179.25 Z" fill="#e6816b"/><path d="M372.00,178.99 L353.51,178.73 A140.95,140.95 0 0 0 353.58,185.53 L372.06,184.90 A122.46,122.46 0 0 1 372.00,178.99 Z" fill="#e0998a"/><path d="M353.51,178.73 L335.03,178.47 A159.44,159.44 0 0 0 335.10,186.17 L353.58,185.53 A140.95,140.95 0 0 1 353.51,178.73 Z" fill="#e6816b"/><path d="M445.98,182.36 L427.50,183.00 A66.99,66.99 0 0 0 427.69,186.22 L446.12,184.70 A48.50,48.50 0 0 1 445.98,182.36 Z" fill="#d7b9b2"/><path d="M427.50,183.00 L409.02,183.63 A85.48,85.48 0 0 0 409.26,187.75 L427.69,186.22 A66.99,66.99 0 0 1 427.50,183.00 Z" fill="#487165"/><path d="M409.02,183.63 L390.54,184.27 A103.97,103.97 0 0 0 390.83,189.27 L409.26,187.75 A85.48,85.48 0 0 1 409.02,183.63 Z" fill="#899f98"/><path d="M390.54,184.27 L372.06,184.90 A122.46,122.46 0 0 0 372.41,190.80 L390.83,189.27 A103.97,103.97 0 0 1 390.54,184.27 Z" fill="#e0998a"/><path d="M372.06,184.90 L353.58,185.53 A140.95,140.95 0 0 0 353.98,192.32 L372.41,190.80 A122.46,122.46 0 0 1 372.06,184.90 Z" fill="#e6816b"/><path d="M353.58,185.53 L335.10,186.17 A159.44,159.44 0 0 0 335.55,193.85 L353.98,192.32 A140.95,140.95 0 0 1 353.58,185.53 Z" fill="#e6816b"/><path d="M446.12,184.70 L427.69,186.22 A66.99,66.99 0 0 0 428.03,189.44 L446.36,187.03 A48.50,48.50 0 0 1 446.12,184.70 Z" fill="#d1d1d1"/><path d="M427.69,186.22 L409.26,187.75 A85.48,85.48 0 0 0 409.70,191.85 L428.03,189.44 A66.99,66.99 0 0 1 427.69,186.22 Z" fill="#487165"/><path d="M409.26,187.75 L390.83,189.27 A103.97,103.97 0 0 0 391.37,194.26 L409.70,191.85 A85.48,85.48 0 0 1 409.26,187.75 Z" fill="#1d5343"/><path d="M390.83,189.27 L372.41,190.80 A122.46,122.46 0 0 0 373.04,196.67 L391.37,194.26 A103.97,103.97 0 0 1 390.83,189.27 Z" fill="#e0998a"/><path d="M372.41,190.80 L353.98,192.32 A140.95,140.95 0 0 0 354.70,199.09 L373.04,196.67 A122.46,122.46 0 0 1 372.41,190.80 Z" fill="#e6816b"/><path d="M353.98,192.32 L335.55,193.85 A159.44,159.44 0 0 0 336.37,201.50 L354.70,199.09 A140.95,140.95 0 0 1 353.98,192.32 Z" fill="#e0998a"/><path d="M446.36,187.03 L428.03,189.44 A66.99,66.99 0 0 0 428.53,192.63 L446.73,189.34 A48.50,48.50 0 0 1 446.36,187.03 Z" fill="#899f98"/><path d="M428.03,189.44 L409.70,191.85 A85.48,85.48 0 0 0 410.34,195.93 L428.53,192.63 A66.99,66.99 0 0 1 428.03,189.44 Z" fill="#1d5343"/><path d="M409.70,191.85 L391.37,194.26 A103.97,103.97 0 0 0 392.14,199.22 L410.34,195.93 A85.48,85.48 0 0 1 409.70,191.85 Z" fill="#1d5343"/><path d="M391.37,194.26 L373.04,196.67 A122.46,122.46 0 0 0 373.95,202.51 L392.14,199.22 A103.97,103.97 0 0 1 391.37,194.26 Z" fill="#e0998a"/><path d="M373.04,196.67 L354.70,199.09 A140.95,140.95 0 0 0 355.75,205.81 L373.95,202.51 A122.46,122.46 0 0 1 373.04,196.67 Z" fill="#e6816b"/><path d="M354.70,199.09 L336.37,201.50 A159.44,159.44 0 0 0 337.56,209.10 L355.75,205.81 A140.95,140.95 0 0 1 354.70,199.09 Z" fill="#d7b9b2"/><path d="M446.73,189.34 L428.53,192.63 A66.99,66.99 0 0 0 429.18,195.80 L447.20,191.63 A48.50,48.50 0 0 1 446.73,189.34 Z" fill="#1d5343"/><path d="M428.53,192.63 L410.34,195.93 A85.48,85.48 0 0 0 411.17,199.97 L429.18,195.80 A66.99,66.99 0 0 1 428.53,192.63 Z" fill="#1d5343"/><path d="M410.34,195.93 L392.14,199.22 A103.97,103.97 0 0 0 393.15,204.13 L411.17,199.97 A85.48,85.48 0 0 1 410.34,195.93 Z" fill="#1d5343"/><path d="M392.14,199.22 L373.95,202.51 A122.46,122.46 0 0 0 375.14,208.30 L393.15,204.13 A103.97,103.97 0 0 1 392.14,199.22 Z" fill="#e6816b"/><path d="M373.95,202.51 L355.75,205.81 A140.95,140.95 0 0 0 357.13,212.47 L375.14,208.30 A122.46,122.46 0 0 1 373.95,202.51 Z" fill="#d1d1d1"/><path d="M355.75,205.81 L337.56,209.10 A159.44,159.44 0 0 0 339.11,216.63 L357.13,212.47 A140.95,140.95 0 0 1 355.75,205.81 Z" fill="#e6816b"/><path d="M447.20,191.63 L429.18,195.80 A66.99,66.99 0 0 0 429.99,198.93 L447.78,193.90 A48.50,48.50 0 0 1 447.20,191.63 Z" fill="#1d5343"/><path d="M429.18,195.80 L411.17,199.97 A85.48,85.48 0 0 0 412.20,203.96 L429.99,198.93 A66.99,66.99 0 0 1 429.18,195.80 Z" fill="#487165"/><path d="M411.17,199.97 L393.15,204.13 A103.97,103.97 0 0 0 394.40,208.99 L412.20,203.96 A85.48,85.48 0 0 1 411.17,199.97 Z" fill="#1d5343"/><path d="M393.15,204.13 L375.14,208.30 A122.46,122.46 0 0 0 376.61,214.02 L394.40,208.99 A103.97,103.97 0 0 1 393.15,204.13 Z" fill="#e6816b"/><path d="M375.14,208.30 L357.13,212.47 A140.95,140.95 0 0 0 358.82,219.05 L376.61,214.02 A122.46,122.46 0 0 1 375.14,208.30 Z" fill="#899f98"/><path d="M357.13,212.47 L339.11,216.63 A159.44,159.44 0 0 0 341.03,224.09 L358.82,219.05 A140.95,140.95 0 0 1 357.13,212.47 Z" fill="#e0998a"/><path d="M447.78,193.90 L429.99,198.93 A66.99,66.99 0 0 0 430.94,202.02 L448.47,196.13 A48.50,48.50 0 0 1 447.78,193.90 Z" fill="#487165"/><path d="M429.99,198.93 L412.20,203.96 A85.48,85.48 0 0 0 413.41,207.90 L430.94,202.02 A66.99,66.99 0 0 1 429.99,198.93 Z" fill="#487165"/><path d="M412.20,203.96 L394.40,208.99 A103.97,103.97 0 0 0 395.88,213.78 L413.41,207.90 A85.48,85.48 0 0 1 412.20,203.96 Z" fill="#1d5343"/><path d="M394.40,208.99 L376.61,214.02 A122.46,122.46 0 0 0 378.36,219.67 L395.88,213.78 A103.97,103.97 0 0 1 394.40,208.99 Z" fill="#e6816b"/><path d="M376.61,214.02 L358.82,219.05 A140.95,140.95 0 0 0 360.83,225.55 L378.36,219.67 A122.46,122.46 0 0 1 376.61,214.02 Z" fill="#d1d1d1"/><path d="M358.82,219.05 L341.03,224.09 A159.44,159.44 0 0 0 343.30,231.44 L360.83,225.55 A140.95,140.95 0 0 1 358.82,219.05 Z" fill="#899f98"/><path d="M448.47,196.13 L430.94,202.02 A66.99,66.99 0 0 0 432.04,205.06 L449.27,198.33 A48.50,48.50 0 0 1 448.47,196.13 Z" fill="#1d5343"/><path d="M430.94,202.02 L413.41,207.90 A85.48,85.48 0 0 0 414.82,211.78 L432.04,205.06 A66.99,66.99 0 0 1 430.94,202.02 Z" fill="#487165"/><path d="M413.41,207.90 L395.88,213.78 A103.97,103.97 0 0 0 397.60,218.50 L414.82,211.78 A85.48,85.48 0 0 1 413.41,207.90 Z" fill="#1d5343"/><path d="M395.88,213.78 L378.36,219.67 A122.46,122.46 0 0 0 380.37,225.22 L397.60,218.50 A103.97,103.97 0 0 1 395.88,213.78 Z" fill="#e6816b"/><path d="M378.36,219.67 L360.83,225.55 A140.95,140.95 0 0 0 363.15,231.95 L380.37,225.22 A122.46,122.46 0 0 1 378.36,219.67 Z" fill="#d1d1d1"/><path d="M360.83,225.55 L343.30,231.44 A159.44,159.44 0 0 0 345.92,238.67 L363.15,231.95 A140.95,140.95 0 0 1 360.83,225.55 Z" fill="#d1d1d1"/><path d="M449.27,198.33 L432.04,205.06 A66.99,66.99 0 0 0 433.29,208.04 L450.17,200.49 A48.50,48.50 0 0 1 449.27,198.33 Z" fill="#487165"/><path d="M432.04,205.06 L414.82,211.78 A85.48,85.48 0 0 0 416.41,215.58 L433.29,208.04 A66.99,66.99 0 0 1 432.04,205.06 Z" fill="#487165"/><path d="M414.82,211.78 L397.60,218.50 A103.97,103.97 0 0 0 399.53,223.13 L416.41,215.58 A85.48,85.48 0 0 1 414.82,211.78 Z" fill="#899f98"/><path d="M397.60,218.50 L380.37,225.22 A122.46,122.46 0 0 0 382.65,230.67 L399.53,223.13 A103.97,103.97 0 0 1 397.60,218.50 Z" fill="#e6816b"/><path d="M380.37,225.22 L363.15,231.95 A140.95,140.95 0 0 0 365.77,238.22 L382.65,230.67 A122.46,122.46 0 0 1 380.37,225.22 Z" fill="#d7b9b2"/><path d="M363.15,231.95 L345.92,238.67 A159.44,159.44 0 0 0 348.89,245.77 L365.77,238.22 A140.95,140.95 0 0 1 363.15,231.95 Z" fill="#d7b9b2"/><path d="M450.17,200.49 L433.29,208.04 A66.99,66.99 0 0 0 434.68,210.96 L451.18,202.61 A48.50,48.50 0 0 1 450.17,200.49 Z" fill="#487165"/><path d="M433.29,208.04 L416.41,215.58 A85.48,85.48 0 0 0 418.19,219.31 L434.68,210.96 A66.99,66.99 0 0 1 433.29,208.04 Z" fill="#1d5343"/><path d="M416.41,215.58 L399.53,223.13 A103.97,103.97 0 0 0 401.69,227.66 L418.19,219.31 A85.48,85.48 0 0 1 416.41,215.58 Z" fill="#1d5343"/><path d="M399.53,223.13 L382.65,230.67 A122.46,122.46 0 0 0 385.19,236.01 L401.69,227.66 A103.97,103.97 0 0 1 399.53,223.13 Z" fill="#d7b9b2"/><path d="M382.65,230.67 L365.77,238.22 A140.95,140.95 0 0 0 368.70,244.36 L385.19,236.01 A122.46,122.46 0 0 1 382.65,230.67 Z" fill="#e6816b"/><path d="M365.77,238.22 L348.89,245.77 A159.44,159.44 0 0 0 352.20,252.71 L368.70,244.36 A140.95,140.95 0 0 1 365.77,238.22 Z" fill="#d7b9b2"/><path d="M451.18,202.61 L434.68,210.96 A66.99,66.99 0 0 0 436.21,213.80 L452.29,204.67 A48.50,48.50 0 0 1 451.18,202.61 Z" fill="#487165"/><path d="M434.68,210.96 L418.19,219.31 A85.48,85.48 0 0 0 420.14,222.94 L436.21,213.80 A66.99,66.99 0 0 1 434.68,210.96 Z" fill="#1d5343"/><path d="M418.19,219.31 L401.69,227.66 A103.97,103.97 0 0 0 404.06,232.08 L420.14,222.94 A85.48,85.48 0 0 1 418.19,219.31 Z" fill="#1d5343"/><path d="M401.69,227.66 L385.19,236.01 A122.46,122.46 0 0 0 387.99,241.22 L404.06,232.08 A103.97,103.97 0 0 1 401.69,227.66 Z" fill="#d1d1d1"/><path d="M385.19,236.01 L368.70,244.36 A140.95,140.95 0 0 0 371.91,250.35 L387.99,241.22 A122.46,122.46 0 0 1 385.19,236.01 Z" fill="#e6816b"/><path d="M368.70,244.36 L352.20,252.71 A159.44,159.44 0 0 0 355.84,259.49 L371.91,250.35 A140.95,140.95 0 0 1 368.70,244.36 Z" fill="#d7b9b2"/><path d="M452.29,204.67 L436.21,213.80 A66.99,66.99 0 0 0 437.88,216.58 L453.49,206.67 A48.50,48.50 0 0 1 452.29,204.67 Z" fill="#1d5343"/><path d="M436.21,213.80 L420.14,222.94 A85.48,85.48 0 0 0 422.26,226.48 L437.88,216.58 A66.99,66.99 0 0 1 436.21,213.80 Z" fill="#1d5343"/><path d="M420.14,222.94 L404.06,232.08 A103.97,103.97 0 0 0 406.65,236.38 L422.26,226.48 A85.48,85.48 0 0 1 420.14,222.94 Z" fill="#1d5343"/><path d="M404.06,232.08 L387.99,241.22 A122.46,122.46 0 0 0 391.03,246.28 L406.65,236.38 A103.97,103.97 0 0 1 404.06,232.08 Z" fill="#d1d1d1"/><path d="M387.99,241.22 L371.91,250.35 A140.95,140.95 0 0 0 375.42,256.18 L391.03,246.28 A122.46,122.46 0 0 1 387.99,241.22 Z" fill="#e6816b"/><path d="M371.91,250.35 L355.84,259.49 A159.44,159.44 0 0 0 359.80,266.09 L375.42,256.18 A140.95,140.95 0 0 1 371.91,250.35 Z" fill="#d7b9b2"/><path d="M453.49,206.67 L437.88,216.58 A66.99,66.99 0 0 0 439.67,219.26 L454.79,208.62 A48.50,48.50 0 0 1 453.49,206.67 Z" fill="#1d5343"/><path d="M437.88,216.58 L422.26,226.48 A85.48,85.48 0 0 0 424.55,229.91 L439.67,219.26 A66.99,66.99 0 0 1 437.88,216.58 Z" fill="#1d5343"/><path d="M422.26,226.48 L406.65,236.38 A103.97,103.97 0 0 0 409.43,240.55 L424.55,229.91 A85.48,85.48 0 0 1 422.26,226.48 Z" fill="#1d5343"/><path d="M406.65,236.38 L391.03,246.28 A122.46,122.46 0 0 0 394.31,251.19 L409.43,240.55 A103.97,103.97 0 0 1 406.65,236.38 Z" fill="#d1d1d1"/><path d="M391.03,246.28 L375.42,256.18 A140.95,140.95 0 0 0 379.20,261.84 L394.31,251.19 A122.46,122.46 0 0 1 391.03,246.28 Z" fill="#e6816b"/><path d="M375.42,256.18 L359.80,266.09 A159.44,159.44 0 0 0 364.08,272.48 L379.20,261.84 A140.95,140.95 0 0 1 375.42,256.18 Z" fill="#d7b9b2"/><path d="M454.79,208.62 L439.67,219.26 A66.99,66.99 0 0 0 441.60,221.86 L456.18,210.50 A48.50,48.50 0 0 1 454.79,208.62 Z" fill="#1d5343"/><path d="M439.67,219.26 L424.55,229.91 A85.48,85.48 0 0 0 427.01,233.22 L441.60,221.86 A66.99,66.99 0 0 1 439.67,219.26 Z" fill="#1d5343"/><path d="M424.55,229.91 L409.43,240.55 A103.97,103.97 0 0 0 412.42,244.58 L427.01,233.22 A85.48,85.48 0 0 1 424.55,229.91 Z" fill="#1d5343"/><path d="M409.43,240.55 L394.31,251.19 A122.46,122.46 0 0 0 397.83,255.94 L412.42,244.58 A103.97,103.97 0 0 1 409.43,240.55 Z" fill="#d7b9b2"/><path d="M394.31,251.19 L379.20,261.84 A140.95,140.95 0 0 0 383.24,267.30 L397.83,255.94 A122.46,122.46 0 0 1 394.31,251.19 Z" fill="#e6816b"/><path d="M379.20,261.84 L364.08,272.48 A159.44,159.44 0 0 0 368.66,278.66 L383.24,267.30 A140.95,140.95 0 0 1 379.20,261.84 Z" fill="#d1d1d1"/><path d="M456.18,210.50 L441.60,221.86 A66.99,66.99 0 0 0 443.64,224.36 L457.67,212.31 A48.50,48.50 0 0 1 456.18,210.50 Z" fill="#1d5343"/><path d="M441.60,221.86 L427.01,233.22 A85.48,85.48 0 0 0 429.62,236.41 L443.64,224.36 A66.99,66.99 0 0 1 441.60,221.86 Z" fill="#1d5343"/><path d="M427.01,233.22 L412.42,244.58 A103.97,103.97 0 0 0 415.60,248.46 L429.62,236.41 A85.48,85.48 0 0 1 427.01,233.22 Z" fill="#1d5343"/><path d="M412.42,244.58 L397.83,255.94 A122.46,122.46 0 0 0 401.57,260.52 L415.60,248.46 A103.97,103.97 0 0 1 412.42,244.58 Z" fill="#d7b9b2"/><path d="M397.83,255.94 L383.24,267.30 A140.95,140.95 0 0 0 387.55,272.57 L401.57,260.52 A122.46,122.46 0 0 1 397.83,255.94 Z" fill="#e6816b"/><path d="M383.24,267.30 L368.66,278.66 A159.44,159.44 0 0 0 373.53,284.62 L387.55,272.57 A140.95,140.95 0 0 1 383.24,267.30 Z" fill="#d1d1d1"/><path d="M457.67,212.31 L443.64,224.36 A66.99,66.99 0 0 0 445.81,226.76 L459.23,214.05 A48.50,48.50 0 0 1 457.67,212.31 Z" fill="#1d5343"/><path d="M443.64,224.36 L429.62,236.41 A85.48,85.48 0 0 0 432.38,239.48 L445.81,226.76 A66.99,66.99 0 0 1 443.64,224.36 Z" fill="#1d5343"/><path d="M429.62,236.41 L415.60,248.46 A103.97,103.97 0 0 0 418.96,252.19 L432.38,239.48 A85.48,85.48 0 0 1 429.62,236.41 Z" fill="#1d5343"/><path d="M415.60,248.46 L401.57,260.52 A122.46,122.46 0 0 0 405.53,264.90 L418.96,252.19 A103.97,103.97 0 0 1 415.60,248.46 Z" fill="#d7b9b2"/><path d="M401.57,260.52 L387.55,272.57 A140.95,140.95 0 0 0 392.11,277.62 L405.53,264.90 A122.46,122.46 0 0 1 401.57,260.52 Z" fill="#e6816b"/><path d="M387.55,272.57 L373.53,284.62 A159.44,159.44 0 0 0 378.68,290.33 L392.11,277.62 A140.95,140.95 0 0 1 387.55,272.57 Z" fill="#b4bdba"/><path d="M459.23,214.05 L445.81,226.76 A66.99,66.99 0 0 0 448.09,229.05 L460.88,215.71 A48.50,48.50 0 0 1 459.23,214.05 Z" fill="#1d5343"/><path d="M445.81,226.76 L432.38,239.48 A85.48,85.48 0 0 0 435.29,242.40 L448.09,229.05 A66.99,66.99 0 0 1 445.81,226.76 Z" fill="#1d5343"/><path d="M432.38,239.48 L418.96,252.19 A103.97,103.97 0 0 0 422.49,255.75 L435.29,242.40 A85.48,85.48 0 0 1 432.38,239.48 Z" fill="#487165"/><path d="M418.96,252.19 L405.53,264.90 A122.46,122.46 0 0 0 409.70,269.09 L422.49,255.75 A103.97,103.97 0 0 1 418.96,252.19 Z" fill="#d1d1d1"/><path d="M405.53,264.90 L392.11,277.62 A140.95,140.95 0 0 0 396.90,282.44 L409.70,269.09 A122.46,122.46 0 0 1 405.53,264.90 Z" fill="#e6816b"/><path d="M392.11,277.62 L378.68,290.33 A159.44,159.44 0 0 0 384.10,295.79 L396.90,282.44 A140.95,140.95 0 0 1 392.11,277.62 Z" fill="#d1d1d1"/><path d="M460.88,215.71 L448.09,229.05 A66.99,66.99 0 0 0 450.47,231.23 L462.61,217.29 A48.50,48.50 0 0 1 460.88,215.71 Z" fill="#1d5343"/><path d="M448.09,229.05 L435.29,242.40 A85.48,85.48 0 0 0 438.34,245.18 L450.47,231.23 A66.99,66.99 0 0 1 448.09,229.05 Z" fill="#1d5343"/><path d="M435.29,242.40 L422.49,255.75 A103.97,103.97 0 0 0 426.20,259.13 L438.34,245.18 A85.48,85.48 0 0 1 435.29,242.40 Z" fill="#1d5343"/><path d="M422.49,255.75 L409.70,269.09 A122.46,122.46 0 0 0 414.06,273.08 L426.20,259.13 A103.97,103.97 0 0 1 422.49,255.75 Z" fill="#d7b9b2"/><path d="M409.70,269.09 L396.90,282.44 A140.95,140.95 0 0 0 401.92,287.03 L414.06,273.08 A122.46,122.46 0 0 1 409.70,269.09 Z" fill="#e6816b"/><path d="M396.90,282.44 L384.10,295.79 A159.44,159.44 0 0 0 389.78,300.98 L401.92,287.03 A140.95,140.95 0 0 1 396.90,282.44 Z" fill="#d7b9b2"/><path d="M462.61,217.29 L450.47,231.23 A66.99,66.99 0 0 0 452.96,233.30 L464.41,218.78 A48.50,48.50 0 0 1 462.61,217.29 Z" fill="#1d5343"/><path d="M450.47,231.23 L438.34,245.18 A85.48,85.48 0 0 0 441.51,247.82 L452.96,233.30 A66.99,66.99 0 0 1 450.47,231.23 Z" fill="#1d5343"/><path d="M438.34,245.18 L426.20,259.13 A103.97,103.97 0 0 0 430.06,262.33 L441.51,247.82 A85.48,85.48 0 0 1 438.34,245.18 Z" fill="#1d5343"/><path d="M426.20,259.13 L414.06,273.08 A122.46,122.46 0 0 0 418.61,276.85 L430.06,262.33 A103.97,103.97 0 0 1 426.20,259.13 Z" fill="#e0998a"/><path d="M414.06,273.08 L401.92,287.03 A140.95,140.95 0 0 0 407.16,291.37 L418.61,276.85 A122.46,122.46 0 0 1 414.06,273.08 Z" fill="#e6816b"/><path d="M401.92,287.03 L389.78,300.98 A159.44,159.44 0 0 0 395.71,305.89 L407.16,291.37 A140.95,140.95 0 0 1 401.92,287.03 Z" fill="#d7b9b2"/><path d="M464.41,218.78 L452.96,233.30 A66.99,66.99 0 0 0 455.55,235.24 L466.29,220.18 A48.50,48.50 0 0 1 464.41,218.78 Z" fill="#1d5343"/><path d="M452.96,233.30 L441.51,247.82 A85.48,85.48 0 0 0 444.81,250.29 L455.55,235.24 A66.99,66.99 0 0 1 452.96,233.30 Z" fill="#487165"/><path d="M441.51,247.82 L430.06,262.33 A103.97,103.97 0 0 0 434.07,265.34 L444.81,250.29 A85.48,85.48 0 0 1 441.51,247.82 Z" fill="#1d5343"/><path d="M430.06,262.33 L418.61,276.85 A122.46,122.46 0 0 0 423.34,280.40 L434.07,265.34 A103.97,103.97 0 0 1 430.06,262.33 Z" fill="#d7b9b2"/><path d="M418.61,276.85 L407.16,291.37 A140.95,140.95 0 0 0 412.60,295.45 L423.34,280.40 A122.46,122.46 0 0 1 418.61,276.85 Z" fill="#e6816b"/><path d="M407.16,291.37 L395.71,305.89 A159.44,159.44 0 0 0 401.86,310.50 L412.60,295.45 A140.95,140.95 0 0 1 407.16,291.37 Z" fill="#899f98"/><path d="M466.29,220.18 L455.55,235.24 A66.99,66.99 0 0 0 458.22,237.05 L468.22,221.50 A48.50,48.50 0 0 1 466.29,220.18 Z" fill="#e6816b"/><path d="M455.55,235.24 L444.81,250.29 A85.48,85.48 0 0 0 448.23,252.60 L458.22,237.05 A66.99,66.99 0 0 1 455.55,235.24 Z" fill="#d7b9b2"/><path d="M444.81,250.29 L434.07,265.34 A103.97,103.97 0 0 0 438.23,268.16 L448.23,252.60 A85.48,85.48 0 0 1 444.81,250.29 Z" fill="#e6816b"/><path d="M434.07,265.34 L423.34,280.40 A122.46,122.46 0 0 0 428.23,283.71 L438.23,268.16 A103.97,103.97 0 0 1 434.07,265.34 Z" fill="#487165"/><path d="M423.34,280.40 L412.60,295.45 A140.95,140.95 0 0 0 418.23,299.26 L428.23,283.71 A122.46,122.46 0 0 1 423.34,280.40 Z" fill="#487165"/><path d="M412.60,295.45 L401.86,310.50 A159.44,159.44 0 0 0 408.23,314.82 L418.23,299.26 A140.95,140.95 0 0 1 412.60,295.45 Z" fill="#1d5343"/><path d="M468.22,221.50 L458.22,237.05 A66.99,66.99 0 0 0 460.99,238.73 L470.22,222.71 A48.50,48.50 0 0 1 468.22,221.50 Z" fill="#e6816b"/><path d="M458.22,237.05 L448.23,252.60 A85.48,85.48 0 0 0 451.75,254.75 L460.99,238.73 A66.99,66.99 0 0 1 458.22,237.05 Z" fill="#d7b9b2"/><path d="M448.23,252.60 L438.23,268.16 A103.97,103.97 0 0 0 442.51,270.77 L451.75,254.75 A85.48,85.48 0 0 1 448.23,252.60 Z" fill="#e6816b"/><path d="M438.23,268.16 L428.23,283.71 A122.46,122.46 0 0 0 433.28,286.79 L442.51,270.77 A103.97,103.97 0 0 1 438.23,268.16 Z" fill="#899f98"/><path d="M428.23,283.71 L418.23,299.26 A140.95,140.95 0 0 0 424.04,302.80 L433.28,286.79 A122.46,122.46 0 0 1 428.23,283.71 Z" fill="#1d5343"/><path d="M418.23,299.26 L408.23,314.82 A159.44,159.44 0 0 0 414.80,318.82 L424.04,302.80 A140.95,140.95 0 0 1 418.23,299.26 Z" fill="#336254"/><path d="M470.22,222.71 L460.99,238.73 A66.99,66.99 0 0 0 463.82,240.28 L472.28,223.83 A48.50,48.50 0 0 1 470.22,222.71 Z" fill="#e6816b"/><path d="M460.99,238.73 L451.75,254.75 A85.48,85.48 0 0 0 455.37,256.72 L463.82,240.28 A66.99,66.99 0 0 1 460.99,238.73 Z" fill="#e0998a"/><path d="M451.75,254.75 L442.51,270.77 A103.97,103.97 0 0 0 446.92,273.17 L455.37,256.72 A85.48,85.48 0 0 1 451.75,254.75 Z" fill="#e6816b"/><path d="M442.51,270.77 L433.28,286.79 A122.46,122.46 0 0 0 438.46,289.61 L446.92,273.17 A103.97,103.97 0 0 1 442.51,270.77 Z" fill="#899f98"/><path d="M433.28,286.79 L424.04,302.80 A140.95,140.95 0 0 0 430.01,306.06 L438.46,289.61 A122.46,122.46 0 0 1 433.28,286.79 Z" fill="#1d5343"/><path d="M424.04,302.80 L414.80,318.82 A159.44,159.44 0 0 0 421.56,322.50 L430.01,306.06 A140.95,140.95 0 0 1 424.04,302.80 Z" fill="#1d5343"/><path d="M472.28,223.83 L463.82,240.28 A66.99,66.99 0 0 0 466.73,241.69 L474.38,224.85 A48.50,48.50 0 0 1 472.28,223.83 Z" fill="#e6816b"/><path d="M463.82,240.28 L455.37,256.72 A85.48,85.48 0 0 0 459.08,258.52 L466.73,241.69 A66.99,66.99 0 0 1 463.82,240.28 Z" fill="#e0998a"/><path d="M455.37,256.72 L446.92,273.17 A103.97,103.97 0 0 0 451.43,275.35 L459.08,258.52 A85.48,85.48 0 0 1 455.37,256.72 Z" fill="#e6816b"/><path d="M446.92,273.17 L438.46,289.61 A122.46,122.46 0 0 0 443.78,292.19 L451.43,275.35 A103.97,103.97 0 0 1 446.92,273.17 Z" fill="#899f98"/><path d="M438.46,289.61 L430.01,306.06 A140.95,140.95 0 0 0 436.13,309.02 L443.78,292.19 A122.46,122.46 0 0 1 438.46,289.61 Z" fill="#1d5343"/><path d="M430.01,306.06 L421.56,322.50 A159.44,159.44 0 0 0 428.48,325.85 L436.13,309.02 A140.95,140.95 0 0 1 430.01,306.06 Z" fill="#487165"/><path d="M474.38,224.85 L466.73,241.69 A66.99,66.99 0 0 0 469.71,242.95 L476.54,225.77 A48.50,48.50 0 0 1 474.38,224.85 Z" fill="#e6816b"/><path d="M466.73,241.69 L459.08,258.52 A85.48,85.48 0 0 0 462.88,260.14 L469.71,242.95 A66.99,66.99 0 0 1 466.73,241.69 Z" fill="#e6816b"/><path d="M459.08,258.52 L451.43,275.35 A103.97,103.97 0 0 0 456.05,277.32 L462.88,260.14 A85.48,85.48 0 0 1 459.08,258.52 Z" fill="#e6816b"/><path d="M451.43,275.35 L443.78,292.19 A122.46,122.46 0 0 0 449.22,294.50 L456.05,277.32 A103.97,103.97 0 0 1 451.43,275.35 Z" fill="#899f98"/><path d="M443.78,292.19 L436.13,309.02 A140.95,140.95 0 0 0 442.39,311.68 L449.22,294.50 A122.46,122.46 0 0 1 443.78,292.19 Z" fill="#1d5343"/><path d="M436.13,309.02 L428.48,325.85 A159.44,159.44 0 0 0 435.56,328.87 L442.39,311.68 A140.95,140.95 0 0 1 436.13,309.02 Z" fill="#487165"/><path d="M476.54,225.77 L469.71,242.95 A66.99,66.99 0 0 0 472.74,244.07 L478.73,226.58 A48.50,48.50 0 0 1 476.54,225.77 Z" fill="#e0998a"/><path d="M469.71,242.95 L462.88,260.14 A85.48,85.48 0 0 0 466.75,261.57 L472.74,244.07 A66.99,66.99 0 0 1 469.71,242.95 Z" fill="#e6816b"/><path d="M462.88,260.14 L456.05,277.32 A103.97,103.97 0 0 0 460.76,279.06 L466.75,261.57 A85.48,85.48 0 0 1 462.88,260.14 Z" fill="#e6816b"/><path d="M456.05,277.32 L449.22,294.50 A122.46,122.46 0 0 0 454.76,296.55 L460.76,279.06 A103.97,103.97 0 0 1 456.05,277.32 Z" fill="#487165"/><path d="M449.22,294.50 L442.39,311.68 A140.95,140.95 0 0 0 448.77,314.04 L454.76,296.55 A122.46,122.46 0 0 1 449.22,294.50 Z" fill="#1d5343"/><path d="M442.39,311.68 L435.56,328.87 A159.44,159.44 0 0 0 442.78,331.53 L448.77,314.04 A140.95,140.95 0 0 1 442.39,311.68 Z" fill="#336254"/><path d="M478.73,226.58 L472.74,244.07 A66.99,66.99 0 0 0 475.82,245.05 L480.96,227.29 A48.50,48.50 0 0 1 478.73,226.58 Z" fill="#d1d1d1"/><path d="M472.74,244.07 L466.75,261.57 A85.48,85.48 0 0 0 470.68,262.81 L475.82,245.05 A66.99,66.99 0 0 1 472.74,244.07 Z" fill="#e6816b"/><path d="M466.75,261.57 L460.76,279.06 A103.97,103.97 0 0 0 465.54,280.57 L470.68,262.81 A85.48,85.48 0 0 1 466.75,261.57 Z" fill="#e6816b"/><path d="M460.76,279.06 L454.76,296.55 A122.46,122.46 0 0 0 460.40,298.33 L465.54,280.57 A103.97,103.97 0 0 1 460.76,279.06 Z" fill="#487165"/><path d="M454.76,296.55 L448.77,314.04 A140.95,140.95 0 0 0 455.26,316.09 L460.40,298.33 A122.46,122.46 0 0 1 454.76,296.55 Z" fill="#1d5343"/><path d="M448.77,314.04 L442.78,331.53 A159.44,159.44 0 0 0 450.11,333.85 L455.26,316.09 A140.95,140.95 0 0 1 448.77,314.04 Z" fill="#487165"/><path d="M480.96,227.29 L475.82,245.05 A66.99,66.99 0 0 0 478.95,245.87 L483.23,227.88 A48.50,48.50 0 0 1 480.96,227.29 Z" fill="#e6816b"/><path d="M475.82,245.05 L470.68,262.81 A85.48,85.48 0 0 0 474.67,263.86 L478.95,245.87 A66.99,66.99 0 0 1 475.82,245.05 Z" fill="#e6816b"/><path d="M470.68,262.81 L465.54,280.57 A103.97,103.97 0 0 0 470.39,281.85 L474.67,263.86 A85.48,85.48 0 0 1 470.68,262.81 Z" fill="#d7b9b2"/><path d="M465.54,280.57 L460.40,298.33 A122.46,122.46 0 0 0 466.11,299.84 L470.39,281.85 A103.97,103.97 0 0 1 465.54,280.57 Z" fill="#d1d1d1"/><path d="M460.40,298.33 L455.26,316.09 A140.95,140.95 0 0 0 461.83,317.82 L466.11,299.84 A122.46,122.46 0 0 1 460.40,298.33 Z" fill="#1d5343"/><path d="M455.26,316.09 L450.11,333.85 A159.44,159.44 0 0 0 457.55,335.81 L461.83,317.82 A140.95,140.95 0 0 1 455.26,316.09 Z" fill="#487165"/><path d="M483.23,227.88 L478.95,245.87 A66.99,66.99 0 0 0 482.11,246.54 L485.52,228.37 A48.50,48.50 0 0 1 483.23,227.88 Z" fill="#e6816b"/><path d="M478.95,245.87 L474.67,263.86 A85.48,85.48 0 0 0 478.70,264.72 L482.11,246.54 A66.99,66.99 0 0 1 478.95,245.87 Z" fill="#e6816b"/><path d="M474.67,263.86 L470.39,281.85 A103.97,103.97 0 0 0 475.30,282.89 L478.70,264.72 A85.48,85.48 0 0 1 474.67,263.86 Z" fill="#e0998a"/><path d="M470.39,281.85 L466.11,299.84 A122.46,122.46 0 0 0 471.89,301.06 L475.30,282.89 A103.97,103.97 0 0 1 470.39,281.85 Z" fill="#d1d1d1"/><path d="M466.11,299.84 L461.83,317.82 A140.95,140.95 0 0 0 468.49,319.24 L471.89,301.06 A122.46,122.46 0 0 1 466.11,299.84 Z" fill="#487165"/><path d="M461.83,317.82 L457.55,335.81 A159.44,159.44 0 0 0 465.08,337.41 L468.49,319.24 A140.95,140.95 0 0 1 461.83,317.82 Z" fill="#1d5343"/><path d="M485.52,228.37 L482.11,246.54 A66.99,66.99 0 0 0 485.30,247.06 L487.83,228.75 A48.50,48.50 0 0 1 485.52,228.37 Z" fill="#e6816b"/><path d="M482.11,246.54 L478.70,264.72 A85.48,85.48 0 0 0 482.78,265.38 L485.30,247.06 A66.99,66.99 0 0 1 482.11,246.54 Z" fill="#e6816b"/><path d="M478.70,264.72 L475.30,282.89 A103.97,103.97 0 0 0 480.25,283.70 L482.78,265.38 A85.48,85.48 0 0 1 478.70,264.72 Z" fill="#e6816b"/><path d="M475.30,282.89 L471.89,301.06 A122.46,122.46 0 0 0 477.72,302.01 L480.25,283.70 A103.97,103.97 0 0 1 475.30,282.89 Z" fill="#d1d1d1"/><path d="M471.89,301.06 L468.49,319.24 A140.95,140.95 0 0 0 475.20,320.33 L477.72,302.01 A122.46,122.46 0 0 1 471.89,301.06 Z" fill="#1d5343"/><path d="M468.49,319.24 L465.08,337.41 A159.44,159.44 0 0 0 472.67,338.65 L475.20,320.33 A140.95,140.95 0 0 1 468.49,319.24 Z" fill="#899f98"/><path d="M487.83,228.75 L485.30,247.06 A66.99,66.99 0 0 0 488.51,247.43 L490.15,229.01 A48.50,48.50 0 0 1 487.83,228.75 Z" fill="#e6816b"/><path d="M485.30,247.06 L482.78,265.38 A85.48,85.48 0 0 0 486.87,265.84 L488.51,247.43 A66.99,66.99 0 0 1 485.30,247.06 Z" fill="#e6816b"/><path d="M482.78,265.38 L480.25,283.70 A103.97,103.97 0 0 0 485.23,284.26 L486.87,265.84 A85.48,85.48 0 0 1 482.78,265.38 Z" fill="#e6816b"/><path d="M480.25,283.70 L477.72,302.01 A122.46,122.46 0 0 0 483.60,302.68 L485.23,284.26 A103.97,103.97 0 0 1 480.25,283.70 Z" fill="#899f98"/><path d="M477.72,302.01 L475.20,320.33 A140.95,140.95 0 0 0 481.96,321.10 L483.60,302.68 A122.46,122.46 0 0 1 477.72,302.01 Z" fill="#1d5343"/><path d="M475.20,320.33 L472.67,338.65 A159.44,159.44 0 0 0 480.32,339.51 L481.96,321.10 A140.95,140.95 0 0 1 475.20,320.33 Z" fill="#487165"/><path d="M490.15,229.01 L488.51,247.43 A66.99,66.99 0 0 0 491.74,247.64 L492.49,229.16 A48.50,48.50 0 0 1 490.15,229.01 Z" fill="#e6816b"/><path d="M488.51,247.43 L486.87,265.84 A85.48,85.48 0 0 0 490.99,266.11 L491.74,247.64 A66.99,66.99 0 0 1 488.51,247.43 Z" fill="#e0998a"/><path d="M486.87,265.84 L485.23,284.26 A103.97,103.97 0 0 0 490.24,284.58 L490.99,266.11 A85.48,85.48 0 0 1 486.87,265.84 Z" fill="#d7b9b2"/><path d="M485.23,284.26 L483.60,302.68 A122.46,122.46 0 0 0 489.49,303.06 L490.24,284.58 A103.97,103.97 0 0 1 485.23,284.26 Z" fill="#487165"/><path d="M483.60,302.68 L481.96,321.10 A140.95,140.95 0 0 0 488.74,321.53 L489.49,303.06 A122.46,122.46 0 0 1 483.60,302.68 Z" fill="#1d5343"/><path d="M481.96,321.10 L480.32,339.51 A159.44,159.44 0 0 0 488.00,340.01 L488.74,321.53 A140.95,140.95 0 0 1 481.96,321.10 Z" fill="#1d5343"/><path d="M492.49,229.16 L491.74,247.64 A66.99,66.99 0 0 0 494.97,247.69 L494.83,229.20 A48.50,48.50 0 0 1 492.49,229.16 Z" fill="#e6816b"/><path d="M491.74,247.64 L490.99,266.11 A85.48,85.48 0 0 0 495.11,266.18 L494.97,247.69 A66.99,66.99 0 0 1 491.74,247.64 Z" fill="#d7b9b2"/><path d="M490.99,266.11 L490.24,284.58 A103.97,103.97 0 0 0 495.26,284.67 L495.11,266.18 A85.48,85.48 0 0 1 490.99,266.11 Z" fill="#e0998a"/><path d="M490.24,284.58 L489.49,303.06 A122.46,122.46 0 0 0 495.40,303.16 L495.26,284.67 A103.97,103.97 0 0 1 490.24,284.58 Z" fill="#899f98"/><path d="M489.49,303.06 L488.74,321.53 A140.95,140.95 0 0 0 495.54,321.65 L495.40,303.16 A122.46,122.46 0 0 1 489.49,303.06 Z" fill="#1d5343"/><path d="M488.74,321.53 L488.00,340.01 A159.44,159.44 0 0 0 495.69,340.14 L495.54,321.65 A140.95,140.95 0 0 1 488.74,321.53 Z" fill="#1d5343"/><path d="M494.83,229.20 L494.97,247.69 A66.99,66.99 0 0 0 498.20,247.58 L497.17,229.12 A48.50,48.50 0 0 1 494.83,229.20 Z" fill="#e6816b"/><path d="M494.97,247.69 L495.11,266.18 A85.48,85.48 0 0 0 499.24,266.05 L498.20,247.58 A66.99,66.99 0 0 1 494.97,247.69 Z" fill="#e0998a"/><path d="M495.11,266.18 L495.26,284.67 A103.97,103.97 0 0 0 500.27,284.51 L499.24,266.05 A85.48,85.48 0 0 1 495.11,266.18 Z" fill="#d7b9b2"/><path d="M495.26,284.67 L495.40,303.16 A122.46,122.46 0 0 0 501.31,302.97 L500.27,284.51 A103.97,103.97 0 0 1 495.26,284.67 Z" fill="#899f98"/><path d="M495.40,303.16 L495.54,321.65 A140.95,140.95 0 0 0 502.34,321.43 L501.31,302.97 A122.46,122.46 0 0 1 495.40,303.16 Z" fill="#487165"/><path d="M495.54,321.65 L495.69,340.14 A159.44,159.44 0 0 0 503.38,339.89 L502.34,321.43 A140.95,140.95 0 0 1 495.54,321.65 Z" fill="#1d5343"/><path d="M497.17,229.12 L498.20,247.58 A66.99,66.99 0 0 0 501.42,247.33 L499.50,228.94 A48.50,48.50 0 0 1 497.17,229.12 Z" fill="#e6816b"/><path d="M498.20,247.58 L499.24,266.05 A85.48,85.48 0 0 0 503.35,265.72 L501.42,247.33 A66.99,66.99 0 0 1 498.20,247.58 Z" fill="#d7b9b2"/><path d="M499.24,266.05 L500.27,284.51 A103.97,103.97 0 0 0 505.27,284.11 L503.35,265.72 A85.48,85.48 0 0 1 499.24,266.05 Z" fill="#d7b9b2"/><path d="M500.27,284.51 L501.31,302.97 A122.46,122.46 0 0 0 507.20,302.49 L505.27,284.11 A103.97,103.97 0 0 1 500.27,284.51 Z" fill="#899f98"/><path d="M501.31,302.97 L502.34,321.43 A140.95,140.95 0 0 0 509.12,320.88 L507.20,302.49 A122.46,122.46 0 0 1 501.31,302.97 Z" fill="#1d5343"/><path d="M502.34,321.43 L503.38,339.89 A159.44,159.44 0 0 0 511.05,339.27 L509.12,320.88 A140.95,140.95 0 0 1 502.34,321.43 Z" fill="#1d5343"/><path d="M499.50,228.94 L501.42,247.33 A66.99,66.99 0 0 0 504.63,246.91 L501.82,228.64 A48.50,48.50 0 0 1 499.50,228.94 Z" fill="#e6816b"/><path d="M501.42,247.33 L503.35,265.72 A85.48,85.48 0 0 0 507.44,265.19 L504.63,246.91 A66.99,66.99 0 0 1 501.42,247.33 Z" fill="#d7b9b2"/><path d="M503.35,265.72 L505.27,284.11 A103.97,103.97 0 0 0 510.25,283.46 L507.44,265.19 A85.48,85.48 0 0 1 503.35,265.72 Z" fill="#e0998a"/><path d="M505.27,284.11 L507.20,302.49 A122.46,122.46 0 0 0 513.06,301.74 L510.25,283.46 A103.97,103.97 0 0 1 505.27,284.11 Z" fill="#487165"/><path d="M507.20,302.49 L509.12,320.88 A140.95,140.95 0 0 0 515.87,320.01 L513.06,301.74 A122.46,122.46 0 0 1 507.20,302.49 Z" fill="#487165"/><path d="M509.12,320.88 L511.05,339.27 A159.44,159.44 0 0 0 518.68,338.29 L515.87,320.01 A140.95,140.95 0 0 1 509.12,320.88 Z" fill="#1d5343"/><path d="M501.82,228.64 L504.63,246.91 A66.99,66.99 0 0 0 507.81,246.34 L504.12,228.23 A48.50,48.50 0 0 1 501.82,228.64 Z" fill="#e6816b"/><path d="M504.63,246.91 L507.44,265.19 A85.48,85.48 0 0 0 511.50,264.46 L507.81,246.34 A66.99,66.99 0 0 1 504.63,246.91 Z" fill="#e0998a"/><path d="M507.44,265.19 L510.25,283.46 A103.97,103.97 0 0 0 515.19,282.58 L511.50,264.46 A85.48,85.48 0 0 1 507.44,265.19 Z" fill="#d7b9b2"/><path d="M510.25,283.46 L513.06,301.74 A122.46,122.46 0 0 0 518.88,300.70 L515.19,282.58 A103.97,103.97 0 0 1 510.25,283.46 Z" fill="#487165"/><path d="M513.06,301.74 L515.87,320.01 A140.95,140.95 0 0 0 522.56,318.82 L518.88,300.70 A122.46,122.46 0 0 1 513.06,301.74 Z" fill="#487165"/><path d="M515.87,320.01 L518.68,338.29 A159.44,159.44 0 0 0 526.25,336.94 L522.56,318.82 A140.95,140.95 0 0 1 515.87,320.01 Z" fill="#1d5343"/><path d="M504.12,228.23 L507.81,246.34 A66.99,66.99 0 0 0 510.96,245.62 L506.40,227.70 A48.50,48.50 0 0 1 504.12,228.23 Z" fill="#e6816b"/><path d="M507.81,246.34 L511.50,264.46 A85.48,85.48 0 0 0 515.52,263.54 L510.96,245.62 A66.99,66.99 0 0 1 507.81,246.34 Z" fill="#e0998a"/><path d="M511.50,264.46 L515.19,282.58 A103.97,103.97 0 0 0 520.08,281.46 L515.52,263.54 A85.48,85.48 0 0 1 511.50,264.46 Z" fill="#e6816b"/><path d="M515.19,282.58 L518.88,300.70 A122.46,122.46 0 0 0 524.64,299.38 L520.08,281.46 A103.97,103.97 0 0 1 515.19,282.58 Z" fill="#899f98"/><path d="M518.88,300.70 L522.56,318.82 A140.95,140.95 0 0 0 529.19,317.30 L524.64,299.38 A122.46,122.46 0 0 1 518.88,300.70 Z" fill="#899f98"/><path d="M522.56,318.82 L526.25,336.94 A159.44,159.44 0 0 0 533.75,335.22 L529.19,317.30 A140.95,140.95 0 0 1 522.56,318.82 Z" fill="#1d5343"/><path d="M506.40,227.70 L510.96,245.62 A66.99,66.99 0 0 0 514.08,244.75 L508.66,227.07 A48.50,48.50 0 0 1 506.40,227.70 Z" fill="#e6816b"/><path d="M510.96,245.62 L515.52,263.54 A85.48,85.48 0 0 0 519.49,262.43 L514.08,244.75 A66.99,66.99 0 0 1 510.96,245.62 Z" fill="#e6816b"/><path d="M515.52,263.54 L520.08,281.46 A103.97,103.97 0 0 0 524.91,280.11 L519.49,262.43 A85.48,85.48 0 0 1 515.52,263.54 Z" fill="#e6816b"/><path d="M520.08,281.46 L524.64,299.38 A122.46,122.46 0 0 0 530.33,297.79 L524.91,280.11 A103.97,103.97 0 0 1 520.08,281.46 Z" fill="#487165"/><path d="M524.64,299.38 L529.19,317.30 A140.95,140.95 0 0 0 535.74,315.47 L530.33,297.79 A122.46,122.46 0 0 1 524.64,299.38 Z" fill="#899f98"/><path d="M529.19,317.30 L533.75,335.22 A159.44,159.44 0 0 0 541.16,333.14 L535.74,315.47 A140.95,140.95 0 0 1 529.19,317.30 Z" fill="#1d5343"/><path d="M508.66,227.07 L514.08,244.75 A66.99,66.99 0 0 0 517.14,243.73 L510.88,226.33 A48.50,48.50 0 0 1 508.66,227.07 Z" fill="#e6816b"/><path d="M514.08,244.75 L519.49,262.43 A85.48,85.48 0 0 0 523.41,261.13 L517.14,243.73 A66.99,66.99 0 0 1 514.08,244.75 Z" fill="#e6816b"/><path d="M519.49,262.43 L524.91,280.11 A103.97,103.97 0 0 0 529.67,278.52 L523.41,261.13 A85.48,85.48 0 0 1 519.49,262.43 Z" fill="#e6816b"/><path d="M524.91,280.11 L530.33,297.79 A122.46,122.46 0 0 0 535.93,295.92 L529.67,278.52 A103.97,103.97 0 0 1 524.91,280.11 Z" fill="#1d5343"/><path d="M530.33,297.79 L535.74,315.47 A140.95,140.95 0 0 0 542.20,313.32 L535.93,295.92 A122.46,122.46 0 0 1 530.33,297.79 Z" fill="#1d5343"/><path d="M535.74,315.47 L541.16,333.14 A159.44,159.44 0 0 0 548.46,330.71 L542.20,313.32 A140.95,140.95 0 0 1 535.74,315.47 Z" fill="#1d5343"/><path d="M510.88,226.33 L517.14,243.73 A66.99,66.99 0 0 0 520.16,242.56 L513.06,225.49 A48.50,48.50 0 0 1 510.88,226.33 Z" fill="#e6816b"/><path d="M517.14,243.73 L523.41,261.13 A85.48,85.48 0 0 0 527.25,259.64 L520.16,242.56 A66.99,66.99 0 0 1 517.14,243.73 Z" fill="#e6816b"/><path d="M523.41,261.13 L529.67,278.52 A103.97,103.97 0 0 0 534.35,276.71 L527.25,259.64 A85.48,85.48 0 0 1 523.41,261.13 Z" fill="#e6816b"/><path d="M529.67,278.52 L535.93,295.92 A122.46,122.46 0 0 0 541.44,293.79 L534.35,276.71 A103.97,103.97 0 0 1 529.67,278.52 Z" fill="#1d5343"/><path d="M535.93,295.92 L542.20,313.32 A140.95,140.95 0 0 0 548.54,310.86 L541.44,293.79 A122.46,122.46 0 0 1 535.93,295.92 Z" fill="#1d5343"/><path d="M542.20,313.32 L548.46,330.71 A159.44,159.44 0 0 0 555.63,327.93 L548.54,310.86 A140.95,140.95 0 0 1 542.20,313.32 Z" fill="#1d5343"/><path d="M513.06,225.49 L520.16,242.56 A66.99,66.99 0 0 0 523.11,241.25 L515.20,224.54 A48.50,48.50 0 0 1 513.06,225.49 Z" fill="#e6816b"/><path d="M520.16,242.56 L527.25,259.64 A85.48,85.48 0 0 0 531.02,257.96 L523.11,241.25 A66.99,66.99 0 0 1 520.16,242.56 Z" fill="#e6816b"/><path d="M527.25,259.64 L534.35,276.71 A103.97,103.97 0 0 0 538.93,274.67 L531.02,257.96 A85.48,85.48 0 0 1 527.25,259.64 Z" fill="#e6816b"/><path d="M534.35,276.71 L541.44,293.79 A122.46,122.46 0 0 0 546.84,291.39 L538.93,274.67 A103.97,103.97 0 0 1 534.35,276.71 Z" fill="#1d5343"/><path d="M541.44,293.79 L548.54,310.86 A140.95,140.95 0 0 0 554.75,308.10 L546.84,291.39 A122.46,122.46 0 0 1 541.44,293.79 Z" fill="#1d5343"/><path d="M548.54,310.86 L555.63,327.93 A159.44,159.44 0 0 0 562.66,324.81 L554.75,308.10 A140.95,140.95 0 0 1 548.54,310.86 Z" fill="#336254"/><path d="M515.20,224.54 L523.11,241.25 A66.99,66.99 0 0 0 526.00,239.80 L517.29,223.49 A48.50,48.50 0 0 1 515.20,224.54 Z" fill="#e6816b"/><path d="M523.11,241.25 L531.02,257.96 A85.48,85.48 0 0 0 534.71,256.11 L526.00,239.80 A66.99,66.99 0 0 1 523.11,241.25 Z" fill="#e6816b"/><path d="M531.02,257.96 L538.93,274.67 A103.97,103.97 0 0 0 543.41,272.42 L534.71,256.11 A85.48,85.48 0 0 1 531.02,257.96 Z" fill="#e6816b"/><path d="M538.93,274.67 L546.84,291.39 A122.46,122.46 0 0 0 552.12,288.73 L543.41,272.42 A103.97,103.97 0 0 1 538.93,274.67 Z" fill="#487165"/><path d="M546.84,291.39 L554.75,308.10 A140.95,140.95 0 0 0 560.83,305.04 L552.12,288.73 A122.46,122.46 0 0 1 546.84,291.39 Z" fill="#1d5343"/><path d="M554.75,308.10 L562.66,324.81 A159.44,159.44 0 0 0 569.54,321.35 L560.83,305.04 A140.95,140.95 0 0 1 554.75,308.10 Z" fill="#487165"/><path d="M517.29,223.49 L526.00,239.80 A66.99,66.99 0 0 0 528.81,238.21 L519.33,222.33 A48.50,48.50 0 0 1 517.29,223.49 Z" fill="#e6816b"/><path d="M526.00,239.80 L534.71,256.11 A85.48,85.48 0 0 0 538.30,254.08 L528.81,238.21 A66.99,66.99 0 0 1 526.00,239.80 Z" fill="#e6816b"/><path d="M534.71,256.11 L543.41,272.42 A103.97,103.97 0 0 0 547.78,269.95 L538.30,254.08 A85.48,85.48 0 0 1 534.71,256.11 Z" fill="#e6816b"/><path d="M543.41,272.42 L552.12,288.73 A122.46,122.46 0 0 0 557.26,285.82 L547.78,269.95 A103.97,103.97 0 0 1 543.41,272.42 Z" fill="#487165"/><path d="M552.12,288.73 L560.83,305.04 A140.95,140.95 0 0 0 566.75,301.69 L557.26,285.82 A122.46,122.46 0 0 1 552.12,288.73 Z" fill="#1d5343"/><path d="M560.83,305.04 L569.54,321.35 A159.44,159.44 0 0 0 576.23,317.57 L566.75,301.69 A140.95,140.95 0 0 1 560.83,305.04 Z" fill="#1d5343"/><path d="M519.33,222.33 L528.81,238.21 A66.99,66.99 0 0 0 531.55,236.48 L521.31,221.08 A48.50,48.50 0 0 1 519.33,222.33 Z" fill="#e6816b"/><path d="M528.81,238.21 L538.30,254.08 A85.48,85.48 0 0 0 541.78,251.88 L531.55,236.48 A66.99,66.99 0 0 1 528.81,238.21 Z" fill="#e6816b"/><path d="M538.30,254.08 L547.78,269.95 A103.97,103.97 0 0 0 552.02,267.27 L541.78,251.88 A85.48,85.48 0 0 1 538.30,254.08 Z" fill="#e0998a"/><path d="M547.78,269.95 L557.26,285.82 A122.46,122.46 0 0 0 562.26,282.67 L552.02,267.27 A103.97,103.97 0 0 1 547.78,269.95 Z" fill="#487165"/><path d="M557.26,285.82 L566.75,301.69 A140.95,140.95 0 0 0 572.50,298.07 L562.26,282.67 A122.46,122.46 0 0 1 557.26,285.82 Z" fill="#1d5343"/><path d="M566.75,301.69 L576.23,317.57 A159.44,159.44 0 0 0 582.74,313.46 L572.50,298.07 A140.95,140.95 0 0 1 566.75,301.69 Z" fill="#1d5343"/><path d="M521.31,221.08 L531.55,236.48 A66.99,66.99 0 0 0 534.19,234.63 L523.22,219.74 A48.50,48.50 0 0 1 521.31,221.08 Z" fill="#e0998a"/><path d="M531.55,236.48 L541.78,251.88 A85.48,85.48 0 0 0 545.16,249.51 L534.19,234.63 A66.99,66.99 0 0 1 531.55,236.48 Z" fill="#e6816b"/><path d="M541.78,251.88 L552.02,267.27 A103.97,103.97 0 0 0 556.13,264.40 L545.16,249.51 A85.48,85.48 0 0 1 541.78,251.88 Z" fill="#e0998a"/><path d="M552.02,267.27 L562.26,282.67 A122.46,122.46 0 0 0 567.10,279.28 L556.13,264.40 A103.97,103.97 0 0 1 552.02,267.27 Z" fill="#1d5343"/><path d="M562.26,282.67 L572.50,298.07 A140.95,140.95 0 0 0 578.07,294.16 L567.10,279.28 A122.46,122.46 0 0 1 562.26,282.67 Z" fill="#1d5343"/><path d="M572.50,298.07 L582.74,313.46 A159.44,159.44 0 0 0 589.04,309.05 L578.07,294.16 A140.95,140.95 0 0 1 572.50,298.07 Z" fill="#1d5343"/><path d="M523.22,219.74 L534.19,234.63 A66.99,66.99 0 0 0 536.75,232.65 L525.07,218.31 A48.50,48.50 0 0 1 523.22,219.74 Z" fill="#e0998a"/><path d="M534.19,234.63 L545.16,249.51 A85.48,85.48 0 0 0 548.42,246.98 L536.75,232.65 A66.99,66.99 0 0 1 534.19,234.63 Z" fill="#e6816b"/><path d="M545.16,249.51 L556.13,264.40 A103.97,103.97 0 0 0 560.10,261.32 L548.42,246.98 A85.48,85.48 0 0 1 545.16,249.51 Z" fill="#d7b9b2"/><path d="M556.13,264.40 L567.10,279.28 A122.46,122.46 0 0 0 571.77,275.66 L560.10,261.32 A103.97,103.97 0 0 1 556.13,264.40 Z" fill="#487165"/><path d="M567.10,279.28 L578.07,294.16 A140.95,140.95 0 0 0 583.45,290.00 L571.77,275.66 A122.46,122.46 0 0 1 567.10,279.28 Z" fill="#1d5343"/><path d="M578.07,294.16 L589.04,309.05 A159.44,159.44 0 0 0 595.12,304.34 L583.45,290.00 A140.95,140.95 0 0 1 578.07,294.16 Z" fill="#1d5343"/><path d="M525.07,218.31 L536.75,232.65 A66.99,66.99 0 0 0 539.21,230.55 L526.85,216.79 A48.50,48.50 0 0 1 525.07,218.31 Z" fill="#d7b9b2"/><path d="M536.75,232.65 L548.42,246.98 A85.48,85.48 0 0 0 551.56,244.30 L539.21,230.55 A66.99,66.99 0 0 1 536.75,232.65 Z" fill="#e6816b"/><path d="M548.42,246.98 L560.10,261.32 A103.97,103.97 0 0 0 563.91,258.06 L551.56,244.30 A85.48,85.48 0 0 1 548.42,246.98 Z" fill="#d7b9b2"/><path d="M560.10,261.32 L571.77,275.66 A122.46,122.46 0 0 0 576.26,271.82 L563.91,258.06 A103.97,103.97 0 0 1 560.10,261.32 Z" fill="#487165"/><path d="M571.77,275.66 L583.45,290.00 A140.95,140.95 0 0 0 588.62,285.58 L576.26,271.82 A122.46,122.46 0 0 1 571.77,275.66 Z" fill="#1d5343"/><path d="M583.45,290.00 L595.12,304.34 A159.44,159.44 0 0 0 600.97,299.34 L588.62,285.58 A140.95,140.95 0 0 1 583.45,290.00 Z" fill="#d1d1d1"/><path d="M526.85,216.79 L539.21,230.55 A66.99,66.99 0 0 0 541.56,228.33 L528.56,215.18 A48.50,48.50 0 0 1 526.85,216.79 Z" fill="#e0998a"/><path d="M539.21,230.55 L551.56,244.30 A85.48,85.48 0 0 0 554.56,241.47 L541.56,228.33 A66.99,66.99 0 0 1 539.21,230.55 Z" fill="#d7b9b2"/><path d="M551.56,244.30 L563.91,258.06 A103.97,103.97 0 0 0 567.56,254.62 L554.56,241.47 A85.48,85.48 0 0 1 551.56,244.30 Z" fill="#d1d1d1"/><path d="M563.91,258.06 L576.26,271.82 A122.46,122.46 0 0 0 580.56,267.77 L567.56,254.62 A103.97,103.97 0 0 1 563.91,258.06 Z" fill="#1d5343"/><path d="M576.26,271.82 L588.62,285.58 A140.95,140.95 0 0 0 593.57,280.91 L580.56,267.77 A122.46,122.46 0 0 1 576.26,271.82 Z" fill="#1d5343"/><path d="M588.62,285.58 L600.97,299.34 A159.44,159.44 0 0 0 606.57,294.06 L593.57,280.91 A140.95,140.95 0 0 1 588.62,285.58 Z" fill="#899f98"/><path d="M528.56,215.18 L541.56,228.33 A66.99,66.99 0 0 0 543.80,226.00 L530.18,213.50 A48.50,48.50 0 0 1 528.56,215.18 Z" fill="#e6816b"/><path d="M541.56,228.33 L554.56,241.47 A85.48,85.48 0 0 0 557.42,238.50 L543.80,226.00 A66.99,66.99 0 0 1 541.56,228.33 Z" fill="#e6816b"/><path d="M554.56,241.47 L567.56,254.62 A103.97,103.97 0 0 0 571.04,251.01 L557.42,238.50 A85.48,85.48 0 0 1 554.56,241.47 Z" fill="#e0998a"/><path d="M567.56,254.62 L580.56,267.77 A122.46,122.46 0 0 0 584.66,263.51 L571.04,251.01 A103.97,103.97 0 0 1 567.56,254.62 Z" fill="#487165"/><path d="M580.56,267.77 L593.57,280.91 A140.95,140.95 0 0 0 598.29,276.02 L584.66,263.51 A122.46,122.46 0 0 1 580.56,267.77 Z" fill="#1d5343"/><path d="M593.57,280.91 L606.57,294.06 A159.44,159.44 0 0 0 611.91,288.52 L598.29,276.02 A140.95,140.95 0 0 1 593.57,280.91 Z" fill="#487165"/><path d="M530.18,213.50 L543.80,226.00 A66.99,66.99 0 0 0 545.93,223.57 L531.72,211.74 A48.50,48.50 0 0 1 530.18,213.50 Z" fill="#e6816b"/><path d="M543.80,226.00 L557.42,238.50 A85.48,85.48 0 0 0 560.14,235.40 L545.93,223.57 A66.99,66.99 0 0 1 543.80,226.00 Z" fill="#e6816b"/><path d="M557.42,238.50 L571.04,251.01 A103.97,103.97 0 0 0 574.35,247.23 L560.14,235.40 A85.48,85.48 0 0 1 557.42,238.50 Z" fill="#d1d1d1"/><path d="M571.04,251.01 L584.66,263.51 A122.46,122.46 0 0 0 588.55,259.06 L574.35,247.23 A103.97,103.97 0 0 1 571.04,251.01 Z" fill="#1d5343"/><path d="M584.66,263.51 L598.29,276.02 A140.95,140.95 0 0 0 602.76,270.90 L588.55,259.06 A122.46,122.46 0 0 1 584.66,263.51 Z" fill="#1d5343"/><path d="M598.29,276.02 L611.91,288.52 A159.44,159.44 0 0 0 616.97,282.73 L602.76,270.90 A140.95,140.95 0 0 1 598.29,276.02 Z" fill="#487165"/><path d="M531.72,211.74 L545.93,223.57 A66.99,66.99 0 0 0 547.94,221.03 L533.17,209.90 A48.50,48.50 0 0 1 531.72,211.74 Z" fill="#e6816b"/><path d="M545.93,223.57 L560.14,235.40 A85.48,85.48 0 0 0 562.70,232.17 L547.94,221.03 A66.99,66.99 0 0 1 545.93,223.57 Z" fill="#d7b9b2"/><path d="M560.14,235.40 L574.35,247.23 A103.97,103.97 0 0 0 577.46,243.30 L562.70,232.17 A85.48,85.48 0 0 1 560.14,235.40 Z" fill="#d7b9b2"/><path d="M574.35,247.23 L588.55,259.06 A122.46,122.46 0 0 0 592.23,254.43 L577.46,243.30 A103.97,103.97 0 0 1 574.35,247.23 Z" fill="#1d5343"/><path d="M588.55,259.06 L602.76,270.90 A140.95,140.95 0 0 0 606.99,265.57 L592.23,254.43 A122.46,122.46 0 0 1 588.55,259.06 Z" fill="#1d5343"/><path d="M602.76,270.90 L616.97,282.73 A159.44,159.44 0 0 0 621.75,276.70 L606.99,265.57 A140.95,140.95 0 0 1 602.76,270.90 Z" fill="#1d5343"/><path d="M533.17,209.90 L547.94,221.03 A66.99,66.99 0 0 0 549.82,218.41 L534.54,208.00 A48.50,48.50 0 0 1 533.17,209.90 Z" fill="#e6816b"/><path d="M547.94,221.03 L562.70,232.17 A85.48,85.48 0 0 0 565.10,228.81 L549.82,218.41 A66.99,66.99 0 0 1 547.94,221.03 Z" fill="#d1d1d1"/><path d="M562.70,232.17 L577.46,243.30 A103.97,103.97 0 0 0 580.39,239.22 L565.10,228.81 A85.48,85.48 0 0 1 562.70,232.17 Z" fill="#d1d1d1"/><path d="M577.46,243.30 L592.23,254.43 A122.46,122.46 0 0 0 595.67,249.63 L580.39,239.22 A103.97,103.97 0 0 1 577.46,243.30 Z" fill="#1d5343"/><path d="M592.23,254.43 L606.99,265.57 A140.95,140.95 0 0 0 610.95,260.04 L595.67,249.63 A122.46,122.46 0 0 1 592.23,254.43 Z" fill="#487165"/><path d="M606.99,265.57 L621.75,276.70 A159.44,159.44 0 0 0 626.23,270.45 L610.95,260.04 A140.95,140.95 0 0 1 606.99,265.57 Z" fill="#487165"/><path d="M534.54,208.00 L549.82,218.41 A66.99,66.99 0 0 0 551.57,215.69 L535.81,206.03 A48.50,48.50 0 0 1 534.54,208.00 Z" fill="#e6816b"/><path d="M549.82,218.41 L565.10,228.81 A85.48,85.48 0 0 0 567.34,225.35 L551.57,215.69 A66.99,66.99 0 0 1 549.82,218.41 Z" fill="#d7b9b2"/><path d="M565.10,228.81 L580.39,239.22 A103.97,103.97 0 0 0 583.11,235.01 L567.34,225.35 A85.48,85.48 0 0 1 565.10,228.81 Z" fill="#d7b9b2"/><path d="M580.39,239.22 L595.67,249.63 A122.46,122.46 0 0 0 598.88,244.67 L583.11,235.01 A103.97,103.97 0 0 1 580.39,239.22 Z" fill="#487165"/><path d="M595.67,249.63 L610.95,260.04 A140.95,140.95 0 0 0 614.64,254.33 L598.88,244.67 A122.46,122.46 0 0 1 595.67,249.63 Z" fill="#1d5343"/><path d="M610.95,260.04 L626.23,270.45 A159.44,159.44 0 0 0 630.41,263.98 L614.64,254.33 A140.95,140.95 0 0 1 610.95,260.04 Z" fill="#1d5343"/><path d="M535.81,206.03 L551.57,215.69 A66.99,66.99 0 0 0 553.20,212.90 L536.98,204.01 A48.50,48.50 0 0 1 535.81,206.03 Z" fill="#e6816b"/><path d="M551.57,215.69 L567.34,225.35 A85.48,85.48 0 0 0 569.41,221.78 L553.20,212.90 A66.99,66.99 0 0 1 551.57,215.69 Z" fill="#d7b9b2"/><path d="M567.34,225.35 L583.11,235.01 A103.97,103.97 0 0 0 585.63,230.67 L569.41,221.78 A85.48,85.48 0 0 1 567.34,225.35 Z" fill="#e0998a"/><path d="M583.11,235.01 L598.88,244.67 A122.46,122.46 0 0 0 601.84,239.56 L585.63,230.67 A103.97,103.97 0 0 1 583.11,235.01 Z" fill="#487165"/><path d="M598.88,244.67 L614.64,254.33 A140.95,140.95 0 0 0 618.05,248.44 L601.84,239.56 A122.46,122.46 0 0 1 598.88,244.67 Z" fill="#487165"/><path d="M614.64,254.33 L630.41,263.98 A159.44,159.44 0 0 0 634.27,257.33 L618.05,248.44 A140.95,140.95 0 0 1 614.64,254.33 Z" fill="#1d5343"/><path d="M536.98,204.01 L553.20,212.90 A66.99,66.99 0 0 0 554.68,210.02 L538.06,201.93 A48.50,48.50 0 0 1 536.98,204.01 Z" fill="#e6816b"/><path d="M553.20,212.90 L569.41,221.78 A85.48,85.48 0 0 0 571.31,218.12 L554.68,210.02 A66.99,66.99 0 0 1 553.20,212.90 Z" fill="#e0998a"/><path d="M569.41,221.78 L585.63,230.67 A103.97,103.97 0 0 0 587.93,226.21 L571.31,218.12 A85.48,85.48 0 0 1 569.41,221.78 Z" fill="#d7b9b2"/><path d="M585.63,230.67 L601.84,239.56 A122.46,122.46 0 0 0 604.55,234.31 L587.93,226.21 A103.97,103.97 0 0 1 585.63,230.67 Z" fill="#1d5343"/><path d="M601.84,239.56 L618.05,248.44 A140.95,140.95 0 0 0 621.18,242.40 L604.55,234.31 A122.46,122.46 0 0 1 601.84,239.56 Z" fill="#487165"/><path d="M618.05,248.44 L634.27,257.33 A159.44,159.44 0 0 0 637.80,250.49 L621.18,242.40 A140.95,140.95 0 0 1 618.05,248.44 Z" fill="#1d5343"/><path d="M538.06,201.93 L554.68,210.02 A66.99,66.99 0 0 0 556.03,207.08 L539.03,199.80 A48.50,48.50 0 0 1 538.06,201.93 Z" fill="#e6816b"/><path d="M554.68,210.02 L571.31,218.12 A85.48,85.48 0 0 0 573.02,214.37 L556.03,207.08 A66.99,66.99 0 0 1 554.68,210.02 Z" fill="#d7b9b2"/><path d="M571.31,218.12 L587.93,226.21 A103.97,103.97 0 0 0 590.02,221.65 L573.02,214.37 A85.48,85.48 0 0 1 571.31,218.12 Z" fill="#d7b9b2"/><path d="M587.93,226.21 L604.55,234.31 A122.46,122.46 0 0 0 607.01,228.93 L590.02,221.65 A103.97,103.97 0 0 1 587.93,226.21 Z" fill="#1d5343"/><path d="M604.55,234.31 L621.18,242.40 A140.95,140.95 0 0 0 624.01,236.21 L607.01,228.93 A122.46,122.46 0 0 1 604.55,234.31 Z" fill="#487165"/><path d="M621.18,242.40 L637.80,250.49 A159.44,159.44 0 0 0 641.00,243.50 L624.01,236.21 A140.95,140.95 0 0 1 621.18,242.40 Z" fill="#487165"/><path d="M539.03,199.80 L556.03,207.08 A66.99,66.99 0 0 0 557.23,204.08 L539.90,197.63 A48.50,48.50 0 0 1 539.03,199.80 Z" fill="#e6816b"/><path d="M556.03,207.08 L573.02,214.37 A85.48,85.48 0 0 0 574.55,210.54 L557.23,204.08 A66.99,66.99 0 0 1 556.03,207.08 Z" fill="#d7b9b2"/><path d="M573.02,214.37 L590.02,221.65 A103.97,103.97 0 0 0 591.88,216.99 L574.55,210.54 A85.48,85.48 0 0 1 573.02,214.37 Z" fill="#d1d1d1"/><path d="M590.02,221.65 L607.01,228.93 A122.46,122.46 0 0 0 609.21,223.45 L591.88,216.99 A103.97,103.97 0 0 1 590.02,221.65 Z" fill="#1d5343"/><path d="M607.01,228.93 L624.01,236.21 A140.95,140.95 0 0 0 626.53,229.90 L609.21,223.45 A122.46,122.46 0 0 1 607.01,228.93 Z" fill="#1d5343"/><path d="M624.01,236.21 L641.00,243.50 A159.44,159.44 0 0 0 643.86,236.35 L626.53,229.90 A140.95,140.95 0 0 1 624.01,236.21 Z" fill="#487165"/><path d="M539.90,197.63 L557.23,204.08 A66.99,66.99 0 0 0 558.28,201.03 L540.66,195.42 A48.50,48.50 0 0 1 539.90,197.63 Z" fill="#e6816b"/><path d="M557.23,204.08 L574.55,210.54 A85.48,85.48 0 0 0 575.90,206.64 L558.28,201.03 A66.99,66.99 0 0 1 557.23,204.08 Z" fill="#d7b9b2"/><path d="M574.55,210.54 L591.88,216.99 A103.97,103.97 0 0 0 593.52,212.25 L575.90,206.64 A85.48,85.48 0 0 1 574.55,210.54 Z" fill="#d7b9b2"/><path d="M591.88,216.99 L609.21,223.45 A122.46,122.46 0 0 0 611.14,217.86 L593.52,212.25 A103.97,103.97 0 0 1 591.88,216.99 Z" fill="#899f98"/><path d="M609.21,223.45 L626.53,229.90 A140.95,140.95 0 0 0 628.75,223.47 L611.14,217.86 A122.46,122.46 0 0 1 609.21,223.45 Z" fill="#1d5343"/><path d="M626.53,229.90 L643.86,236.35 A159.44,159.44 0 0 0 646.37,229.08 L628.75,223.47 A140.95,140.95 0 0 1 626.53,229.90 Z" fill="#1d5343"/><path d="M540.66,195.42 L558.28,201.03 A66.99,66.99 0 0 0 559.19,197.93 L541.32,193.17 A48.50,48.50 0 0 1 540.66,195.42 Z" fill="#e6816b"/><path d="M558.28,201.03 L575.90,206.64 A85.48,85.48 0 0 0 577.06,202.68 L559.19,197.93 A66.99,66.99 0 0 1 558.28,201.03 Z" fill="#d1d1d1"/><path d="M575.90,206.64 L593.52,212.25 A103.97,103.97 0 0 0 594.92,207.43 L577.06,202.68 A85.48,85.48 0 0 1 575.90,206.64 Z" fill="#d7b9b2"/><path d="M593.52,212.25 L611.14,217.86 A122.46,122.46 0 0 0 612.79,212.19 L594.92,207.43 A103.97,103.97 0 0 1 593.52,212.25 Z" fill="#899f98"/><path d="M611.14,217.86 L628.75,223.47 A140.95,140.95 0 0 0 630.66,216.94 L612.79,212.19 A122.46,122.46 0 0 1 611.14,217.86 Z" fill="#899f98"/><path d="M628.75,223.47 L646.37,229.08 A159.44,159.44 0 0 0 648.53,221.70 L630.66,216.94 A140.95,140.95 0 0 1 628.75,223.47 Z" fill="#1d5343"/><path d="M541.32,193.17 L559.19,197.93 A66.99,66.99 0 0 0 559.94,194.78 L541.87,190.90 A48.50,48.50 0 0 1 541.32,193.17 Z" fill="#e6816b"/><path d="M559.19,197.93 L577.06,202.68 A85.48,85.48 0 0 0 578.02,198.67 L559.94,194.78 A66.99,66.99 0 0 1 559.19,197.93 Z" fill="#e6816b"/><path d="M577.06,202.68 L594.92,207.43 A103.97,103.97 0 0 0 596.10,202.56 L578.02,198.67 A85.48,85.48 0 0 1 577.06,202.68 Z" fill="#e0998a"/><path d="M594.92,207.43 L612.79,212.19 A122.46,122.46 0 0 0 614.17,206.44 L596.10,202.56 A103.97,103.97 0 0 1 594.92,207.43 Z" fill="#899f98"/><path d="M612.79,212.19 L630.66,216.94 A140.95,140.95 0 0 0 632.25,210.33 L614.17,206.44 A122.46,122.46 0 0 1 612.79,212.19 Z" fill="#d1d1d1"/><path d="M630.66,216.94 L648.53,221.70 A159.44,159.44 0 0 0 650.33,214.22 L632.25,210.33 A140.95,140.95 0 0 1 630.66,216.94 Z" fill="#1d5343"/><path d="M541.87,190.90 L559.94,194.78 A66.99,66.99 0 0 0 560.55,191.61 L542.30,188.60 A48.50,48.50 0 0 1 541.87,190.90 Z" fill="#d7b9b2"/><path d="M559.94,194.78 L578.02,198.67 A85.48,85.48 0 0 0 578.79,194.62 L560.55,191.61 A66.99,66.99 0 0 1 559.94,194.78 Z" fill="#d7b9b2"/><path d="M578.02,198.67 L596.10,202.56 A103.97,103.97 0 0 0 597.03,197.63 L578.79,194.62 A85.48,85.48 0 0 1 578.02,198.67 Z" fill="#e0998a"/><path d="M596.10,202.56 L614.17,206.44 A122.46,122.46 0 0 0 615.28,200.64 L597.03,197.63 A103.97,103.97 0 0 1 596.10,202.56 Z" fill="#1d5343"/><path d="M614.17,206.44 L632.25,210.33 A140.95,140.95 0 0 0 633.52,203.65 L615.28,200.64 A122.46,122.46 0 0 1 614.17,206.44 Z" fill="#487165"/><path d="M632.25,210.33 L650.33,214.22 A159.44,159.44 0 0 0 651.76,206.66 L633.52,203.65 A140.95,140.95 0 0 1 632.25,210.33 Z" fill="#1d5343"/><path d="M542.30,188.60 L560.55,191.61 A66.99,66.99 0 0 0 561.00,188.41 L542.63,186.28 A48.50,48.50 0 0 1 542.30,188.60 Z" fill="#d7b9b2"/><path d="M560.55,191.61 L578.79,194.62 A85.48,85.48 0 0 0 579.36,190.53 L561.00,188.41 A66.99,66.99 0 0 1 560.55,191.61 Z" fill="#e6816b"/><path d="M578.79,194.62 L597.03,197.63 A103.97,103.97 0 0 0 597.73,192.66 L579.36,190.53 A85.48,85.48 0 0 1 578.79,194.62 Z" fill="#e0998a"/><path d="M597.03,197.63 L615.28,200.64 A122.46,122.46 0 0 0 616.10,194.79 L597.73,192.66 A103.97,103.97 0 0 1 597.03,197.63 Z" fill="#1d5343"/><path d="M615.28,200.64 L633.52,203.65 A140.95,140.95 0 0 0 634.46,196.91 L616.10,194.79 A122.46,122.46 0 0 1 615.28,200.64 Z" fill="#899f98"/><path d="M633.52,203.65 L651.76,206.66 A159.44,159.44 0 0 0 652.83,199.04 L634.46,196.91 A140.95,140.95 0 0 1 633.52,203.65 Z" fill="#1d5343"/><path d="M542.63,186.28 L561.00,188.41 A66.99,66.99 0 0 0 561.29,185.19 L542.84,183.95 A48.50,48.50 0 0 1 542.63,186.28 Z" fill="#d7b9b2"/><path d="M561.00,188.41 L579.36,190.53 A85.48,85.48 0 0 0 579.74,186.42 L561.29,185.19 A66.99,66.99 0 0 1 561.00,188.41 Z" fill="#e6816b"/><path d="M579.36,190.53 L597.73,192.66 A103.97,103.97 0 0 0 598.19,187.66 L579.74,186.42 A85.48,85.48 0 0 1 579.36,190.53 Z" fill="#e6816b"/><path d="M597.73,192.66 L616.10,194.79 A122.46,122.46 0 0 0 616.64,188.90 L598.19,187.66 A103.97,103.97 0 0 1 597.73,192.66 Z" fill="#487165"/><path d="M616.10,194.79 L634.46,196.91 A140.95,140.95 0 0 0 635.08,190.14 L616.64,188.90 A122.46,122.46 0 0 1 616.10,194.79 Z" fill="#d1d1d1"/><path d="M634.46,196.91 L652.83,199.04 A159.44,159.44 0 0 0 653.53,191.38 L635.08,190.14 A140.95,140.95 0 0 1 634.46,196.91 Z" fill="#1d5343"/><path d="M542.84,183.95 L561.29,185.19 A66.99,66.99 0 0 0 561.43,181.96 L542.94,181.61 A48.50,48.50 0 0 1 542.84,183.95 Z" fill="#e0998a"/><path d="M561.29,185.19 L579.74,186.42 A85.48,85.48 0 0 0 579.91,182.30 L561.43,181.96 A66.99,66.99 0 0 1 561.29,185.19 Z" fill="#e0998a"/><path d="M579.74,186.42 L598.19,187.66 A103.97,103.97 0 0 0 598.40,182.65 L579.91,182.30 A85.48,85.48 0 0 1 579.74,186.42 Z" fill="#e6816b"/><path d="M598.19,187.66 L616.64,188.90 A122.46,122.46 0 0 0 616.89,183.00 L598.40,182.65 A103.97,103.97 0 0 1 598.19,187.66 Z" fill="#1d5343"/><path d="M616.64,188.90 L635.08,190.14 A140.95,140.95 0 0 0 635.38,183.34 L616.89,183.00 A122.46,122.46 0 0 1 616.64,188.90 Z" fill="#487165"/><path d="M635.08,190.14 L653.53,191.38 A159.44,159.44 0 0 0 653.86,183.69 L635.38,183.34 A140.95,140.95 0 0 1 635.08,190.14 Z" fill="#487165"/><path d="M542.94,181.61 L561.43,181.96 A66.99,66.99 0 0 0 561.41,178.72 L542.93,179.27 A48.50,48.50 0 0 1 542.94,181.61 Z" fill="#e0998a"/><path d="M561.43,181.96 L579.91,182.30 A85.48,85.48 0 0 0 579.89,178.18 L561.41,178.72 A66.99,66.99 0 0 1 561.43,181.96 Z" fill="#e6816b"/><path d="M579.91,182.30 L598.40,182.65 A103.97,103.97 0 0 0 598.37,177.63 L579.89,178.18 A85.48,85.48 0 0 1 579.91,182.30 Z" fill="#e6816b"/><path d="M598.40,182.65 L616.89,183.00 A122.46,122.46 0 0 0 616.86,177.09 L598.37,177.63 A103.97,103.97 0 0 1 598.40,182.65 Z" fill="#1d5343"/><path d="M616.89,183.00 L635.38,183.34 A140.95,140.95 0 0 0 635.34,176.54 L616.86,177.09 A122.46,122.46 0 0 1 616.89,183.00 Z" fill="#487165"/><path d="M635.38,183.34 L653.86,183.69 A159.44,159.44 0 0 0 653.82,176.00 L635.34,176.54 A140.95,140.95 0 0 1 635.38,183.34 Z" fill="#336254"/><path d="M542.93,179.27 L561.41,178.72 A66.99,66.99 0 0 0 561.24,175.50 L542.80,176.93 A48.50,48.50 0 0 1 542.93,179.27 Z" fill="#e6816b"/><path d="M561.41,178.72 L579.89,178.18 A85.48,85.48 0 0 0 579.67,174.06 L561.24,175.50 A66.99,66.99 0 0 1 561.41,178.72 Z" fill="#e0998a"/><path d="M579.89,178.18 L598.37,177.63 A103.97,103.97 0 0 0 598.11,172.62 L579.67,174.06 A85.48,85.48 0 0 1 579.89,178.18 Z" fill="#e0998a"/><path d="M598.37,177.63 L616.86,177.09 A122.46,122.46 0 0 0 616.54,171.19 L598.11,172.62 A103.97,103.97 0 0 1 598.37,177.63 Z" fill="#1d5343"/><path d="M616.86,177.09 L635.34,176.54 A140.95,140.95 0 0 0 634.97,169.75 L616.54,171.19 A122.46,122.46 0 0 1 616.86,177.09 Z" fill="#d1d1d1"/><path d="M635.34,176.54 L653.82,176.00 A159.44,159.44 0 0 0 653.41,168.32 L634.97,169.75 A140.95,140.95 0 0 1 635.34,176.54 Z" fill="#d1d1d1"/><path d="M542.80,176.93 L561.24,175.50 A66.99,66.99 0 0 0 560.91,172.28 L542.57,174.60 A48.50,48.50 0 0 1 542.80,176.93 Z" fill="#487165"/><path d="M561.24,175.50 L579.67,174.06 A85.48,85.48 0 0 0 579.25,169.96 L560.91,172.28 A66.99,66.99 0 0 1 561.24,175.50 Z" fill="#e6816b"/><path d="M579.67,174.06 L598.11,172.62 A103.97,103.97 0 0 0 597.60,167.63 L579.25,169.96 A85.48,85.48 0 0 1 579.67,174.06 Z" fill="#d7b9b2"/><path d="M598.11,172.62 L616.54,171.19 A122.46,122.46 0 0 0 615.94,165.31 L597.60,167.63 A103.97,103.97 0 0 1 598.11,172.62 Z" fill="#1d5343"/><path d="M616.54,171.19 L634.97,169.75 A140.95,140.95 0 0 0 634.28,162.99 L615.94,165.31 A122.46,122.46 0 0 1 616.54,171.19 Z" fill="#1d5343"/><path d="M634.97,169.75 L653.41,168.32 A159.44,159.44 0 0 0 652.63,160.66 L634.28,162.99 A140.95,140.95 0 0 1 634.97,169.75 Z" fill="#1d5343"/></g><path d="M487.16,114.11 A66.99,66.99 0 1 0 560.91,172.28" fill="none" stroke="#fff" stroke-width="0.7"/><path d="M485.14,95.73 A85.48,85.48 0 1 0 579.25,169.96" fill="none" stroke="#fff" stroke-width="0.7"/><path d="M483.13,77.35 A103.97,103.97 0 1 0 597.60,167.63" fill="none" stroke="#fff" stroke-width="0.7"/><path d="M481.12,58.97 A122.46,122.46 0 1 0 615.94,165.31" fill="none" stroke="#fff" stroke-width="0.7"/><path d="M479.11,40.59 A140.95,140.95 0 1 0 634.28,162.99" fill="none" stroke="#fff" stroke-width="0.7"/><path d="M489.29,133.58 A47.4,47.4 0 0 0 466.92,219.29" fill="none" stroke="#3b7dd8" stroke-width="2.2"/><path d="M466.92,219.29 A47.4,47.4 0 0 0 541.47,174.74" fill="none" stroke="#dc4f1c" stroke-width="2.2"/><path d="M483.98,135.91L485.49,142.41M481.83,136.47L483.66,142.88M485.49,142.41A39.33,39.33 0 0 0 483.66,142.88M486.15,135.46L487.84,144.65M484.57,142.63L485.25,145.22M487.84,144.65A36.65,36.65 0 0 0 485.25,145.22M488.34,135.11L490.01,147.55M486.54,144.91L487.23,148.04M490.01,147.55A33.45,33.45 0 0 0 487.23,148.04M488.61,147.77L488.88,149.29M479.71,137.13L484.23,150.48M488.88,149.29A31.90,31.90 0 0 0 484.23,150.48M475.58,138.75L477.57,143.17M473.58,139.71L475.77,144.03M477.57,143.17A41.15,41.15 0 0 0 475.77,144.03M477.62,137.89L480.29,144.68M476.66,143.59L477.72,145.80M480.29,144.68A38.70,38.70 0 0 0 477.72,145.80M486.53,149.80L487.16,152.24M479.00,145.22L482.72,153.76M487.16,152.24A29.38,29.38 0 0 0 482.72,153.76M469.72,141.91L472.29,145.93M467.88,143.15L470.63,147.04M472.29,145.93A41.23,41.23 0 0 0 470.63,147.04M471.62,140.76L474.93,146.55M471.45,146.48L472.51,148.05M474.93,146.55A39.33,39.33 0 0 0 472.51,148.05M484.91,152.91L485.96,155.97M473.71,147.28L480.66,158.49M485.96,155.97A26.15,26.15 0 0 0 480.66,158.49M464.39,145.88L467.37,149.34M462.74,147.38L465.89,150.68M467.37,149.34A41.44,41.44 0 0 0 465.89,150.68M466.62,150.00L468.37,151.93M461.17,148.94L466.36,153.89M468.37,151.93A38.83,38.83 0 0 0 466.36,153.89M466.10,144.47L471.49,151.36M467.35,152.90L468.45,154.03M471.49,151.36A37.25,37.25 0 0 0 468.45,154.03M459.68,150.59L462.85,153.34M458.26,152.30L461.57,154.89M462.85,153.34A41.80,41.80 0 0 0 461.57,154.89M469.93,152.65L472.00,155.02M462.20,154.11L468.13,159.00M472.00,155.02A34.11,34.11 0 0 0 468.13,159.00M483.24,157.08L483.99,158.66M469.99,156.93L476.95,163.70M483.99,158.66A24.39,24.39 0 0 0 476.95,163.70M456.94,154.08L460.98,156.95M455.70,155.92L459.87,158.59M460.98,156.95A41.04,41.04 0 0 0 459.87,158.59M460.42,157.76L463.18,159.62M454.55,157.82L461.74,161.94M463.18,159.62A37.71,37.71 0 0 0 461.74,161.94M462.44,160.77L464.51,162.06M453.49,159.77L463.05,164.65M464.51,162.06A35.27,35.27 0 0 0 463.05,164.65M451.66,163.81L457.25,166.02M450.90,165.90L456.59,167.83M457.25,166.02A39.99,39.99 0 0 0 456.59,167.83M456.91,166.92L460.05,168.07M450.23,168.01L459.22,170.59M460.05,168.07A36.65,36.65 0 0 0 459.22,170.59M452.53,161.77L463.96,166.93M459.61,169.33L462.64,170.32M463.96,166.93A33.46,33.46 0 0 0 462.64,170.32M449.22,172.33L454.28,173.27M448.87,174.53L453.97,175.22M454.28,173.27A40.85,40.85 0 0 0 453.97,175.22M449.67,170.16L456.30,171.72M454.11,174.24L455.75,174.50M456.30,171.72A39.19,39.19 0 0 0 455.75,174.50M463.25,168.60L464.76,169.19M456.00,173.11L463.21,174.53M464.76,169.19A31.84,31.84 0 0 0 463.21,174.53M463.75,163.34L467.99,165.74M463.87,171.83L465.26,172.23M467.99,165.74A30.39,30.39 0 0 0 465.26,172.23M480.25,160.87L481.38,162.45M466.44,168.91L473.76,171.99M481.38,162.45A22.45,22.45 0 0 0 473.76,171.99M448.62,176.73L453.69,177.17M448.48,178.95L453.57,179.14M453.69,177.17A40.91,40.91 0 0 0 453.57,179.14M453.61,178.16L455.57,178.28M448.45,181.17L455.50,181.10M455.57,178.28A38.95,38.95 0 0 0 455.50,181.10M448.71,185.60L454.14,185.02M449.00,187.80L454.40,186.96M454.14,185.02A40.54,40.54 0 0 0 454.40,186.96M448.53,183.39L456.77,182.90M454.26,185.99L457.03,185.62M456.77,182.90A37.75,37.75 0 0 0 457.03,185.62M449.90,192.15L456.44,190.46M450.50,194.28L456.96,192.29M456.44,190.46A39.24,39.24 0 0 0 456.96,192.29M449.40,189.98L457.35,188.34M456.69,191.38L458.00,191.01M457.35,188.34A37.88,37.88 0 0 0 458.00,191.01M456.87,184.27L459.74,183.99M457.65,189.68L460.58,188.97M459.74,183.99A34.86,34.86 0 0 0 460.58,188.97M451.21,196.39L455.20,194.94M452.01,198.45L455.93,196.81M455.20,194.94A41.75,41.75 0 0 0 455.93,196.81M455.55,195.88L458.32,194.80M452.92,200.48L459.43,197.38M458.32,194.80A38.79,38.79 0 0 0 459.43,197.38M460.07,186.49L462.13,186.15M458.85,196.10L464.36,193.72M462.13,186.15A32.78,32.78 0 0 0 464.36,193.72M455.51,179.69L464.21,179.91M463.02,190.00L465.44,189.28M464.21,179.91A30.25,30.25 0 0 0 465.44,189.28M455.02,204.39L459.03,201.98M456.21,206.26L460.09,203.67M459.03,201.98A41.33,41.33 0 0 0 460.09,203.67M453.92,202.46L460.96,198.68M459.55,202.83L462.35,201.06M460.96,198.68A38.01,38.01 0 0 0 462.35,201.06M457.49,208.08L462.45,204.40M458.85,209.83L463.63,205.92M462.45,204.40A39.82,39.82 0 0 0 463.63,205.92M461.82,213.13L465.46,209.51M463.42,214.66L466.88,210.87M465.46,209.51A40.87,40.87 0 0 0 466.88,210.87M460.30,211.51L465.90,206.46M466.16,210.20L467.83,208.46M465.90,206.46A38.46,38.46 0 0 0 467.83,208.46M466.85,207.48L468.96,205.43M465.10,216.12L471.79,208.05M468.96,205.43A35.52,35.52 0 0 0 471.79,208.05M470.34,206.78L471.38,205.65M466.84,217.49L474.06,207.88M471.38,205.65A33.98,33.98 0 0 0 474.06,207.88M463.03,205.17L469.92,199.81M472.69,206.80L474.54,204.58M469.92,199.81A31.09,31.09 0 0 0 474.54,204.58M461.64,199.88L470.18,194.88M472.10,202.32L474.25,200.24M470.18,194.88A28.11,28.11 0 0 0 474.25,200.24M464.45,184.65L469.67,183.96M472.05,197.68L474.54,195.80M469.67,183.96A24.99,24.99 0 0 0 474.54,195.80M476.91,166.69L477.99,167.56M471.33,190.20L474.97,188.70M477.99,167.56A21.06,21.06 0 0 0 474.97,188.70M468.65,218.78L471.80,214.13M470.52,219.98L473.44,215.18M471.80,214.13A40.38,40.38 0 0 0 473.44,215.18M472.44,221.09L474.51,217.29M474.41,222.11L476.30,218.21M474.51,217.29A41.67,41.67 0 0 0 476.30,218.21M472.62,214.67L474.11,212.34M475.40,217.76L477.25,214.15M474.11,212.34A37.61,37.61 0 0 0 477.25,214.15M478.50,223.84L479.98,219.83M480.60,224.56L481.89,220.48M479.98,219.83A41.72,41.72 0 0 0 481.89,220.48M476.43,223.03L478.67,217.77M480.93,220.17L481.39,218.81M478.67,217.77A40.29,40.29 0 0 0 481.39,218.81M484.89,225.70L485.70,221.88M487.07,226.10L487.70,222.25M485.70,221.88A42.10,42.10 0 0 0 487.70,222.25M482.73,225.18L484.32,219.14M486.70,222.08L487.13,219.77M484.32,219.14A39.75,39.75 0 0 0 487.13,219.77M480.02,218.32L481.25,215.11M485.72,219.48L486.36,216.65M481.25,215.11A36.85,36.85 0 0 0 486.36,216.65M475.66,213.28L476.74,211.41M483.78,215.97L484.18,214.63M476.74,211.41A35.45,35.45 0 0 0 484.18,214.63M491.48,226.60L491.74,222.51M493.70,226.69L493.76,222.59M491.74,222.51A41.90,41.90 0 0 0 493.76,222.59M489.27,226.41L489.98,220.17M492.75,222.56L492.84,220.39M489.98,220.17A39.72,39.72 0 0 0 492.84,220.39M495.92,226.68L495.74,221.26M498.13,226.55L497.70,221.15M495.74,221.26A40.58,40.58 0 0 0 497.70,221.15M491.41,220.30L491.55,218.38M496.72,221.22L496.57,218.43M491.55,218.38A37.79,37.79 0 0 0 496.57,218.43M500.34,226.32L499.76,221.84M502.53,225.98L501.74,221.54M499.76,221.84A41.49,41.49 0 0 0 501.74,221.54M494.06,218.49L494.07,217.27M500.75,221.70L500.01,216.85M494.07,217.27A36.58,36.58 0 0 0 500.01,216.85M506.86,224.99L505.39,219.75M508.98,224.34L507.26,219.18M505.39,219.75A40.56,40.56 0 0 0 507.26,219.18M504.71,225.54L503.19,218.92M506.33,219.48L505.94,218.19M503.19,218.92A39.21,39.21 0 0 0 505.94,218.19M511.07,223.59L509.15,218.62M513.12,222.74L510.96,217.87M509.15,218.62A40.67,40.67 0 0 0 510.96,217.87M515.13,221.79L513.42,218.39M517.09,220.75L515.21,217.43M513.42,218.39A42.19,42.19 0 0 0 515.21,217.43M510.06,218.26L509.33,216.51M514.32,217.92L512.71,214.91M509.33,216.51A38.78,38.78 0 0 0 512.71,214.91M518.99,219.61L516.91,216.30M520.84,218.38L518.60,215.18M516.91,216.30A42.09,42.09 0 0 0 518.60,215.18M511.04,215.75L509.92,213.38M517.76,215.75L514.47,210.80M509.92,213.38A36.15,36.15 0 0 0 514.47,210.80M522.63,217.06L519.82,213.44M524.35,215.66L521.37,212.18M519.82,213.44A41.42,41.42 0 0 0 521.37,212.18M526.00,214.18L522.02,209.95M527.58,212.62L523.40,208.59M522.02,209.95A40.20,40.20 0 0 0 523.40,208.59M520.60,212.82L518.17,209.82M522.72,209.28L520.86,207.40M518.17,209.82A37.56,37.56 0 0 0 520.86,207.40M512.24,212.17L510.83,209.68M519.54,208.65L516.69,205.47M510.83,209.68A33.29,33.29 0 0 0 516.69,205.47M504.57,218.58L502.55,211.00M513.88,207.74L512.75,206.17M502.55,211.00A31.37,31.37 0 0 0 512.75,206.17M529.08,210.98L525.16,207.56M530.50,209.27L526.42,206.04M525.16,207.56A40.80,40.80 0 0 0 526.42,206.04M533.08,205.67L529.54,203.38M534.24,203.77L530.59,201.66M529.54,203.38A41.78,41.78 0 0 0 530.59,201.66M531.84,207.50L526.91,203.97M530.08,202.52L528.51,201.56M526.91,203.97A39.94,39.94 0 0 0 528.51,201.56M525.80,206.81L524.08,205.38M527.73,202.78L526.58,202.02M524.08,205.38A38.56,38.56 0 0 0 526.58,202.02M507.87,209.05L507.10,207.43M525.38,203.73L518.17,198.37M507.10,207.43A29.58,29.58 0 0 0 518.17,198.37M497.05,217.18L496.35,207.33M513.19,203.58L511.37,201.35M496.35,207.33A26.70,26.70 0 0 0 511.37,201.35M480.37,213.23L484.97,202.60M504.32,205.50L503.27,202.87M484.97,202.60A23.86,23.86 0 0 0 503.27,202.87M536.28,199.83L532.85,198.26M537.16,197.79L533.66,196.39M532.85,198.26A42.23,42.23 0 0 0 533.66,196.39M535.31,201.83L530.54,199.36M533.27,197.33L531.79,196.70M530.54,199.36A40.63,40.63 0 0 0 531.79,196.70M537.93,195.71L533.79,194.28M538.60,193.60L534.40,192.37M533.79,194.28A41.62,41.62 0 0 0 534.40,192.37M534.11,193.33L531.71,192.57M539.18,191.45L532.47,189.84M531.71,192.57A39.10,39.10 0 0 0 532.47,189.84M532.11,191.21L529.70,190.54M539.64,189.28L530.41,187.53M529.70,190.54A36.60,36.60 0 0 0 530.41,187.53M531.19,198.04L525.42,195.32M530.09,189.04L527.79,188.50M525.42,195.32A34.24,34.24 0 0 0 527.79,188.50M540.00,187.09L535.66,186.48M540.26,184.89L535.89,184.49M535.66,186.48A41.62,41.62 0 0 0 535.89,184.49M535.79,185.49L533.43,185.21M540.41,182.67L533.66,182.38M533.43,185.21A39.24,39.24 0 0 0 533.66,182.38M540.38,178.23L535.73,178.48M540.21,176.02L535.58,176.50M535.73,178.48A41.34,41.34 0 0 0 535.58,176.50M540.45,180.45L533.30,180.49M535.67,177.49L533.19,177.68M533.30,180.49A38.85,38.85 0 0 0 533.19,177.68M533.57,183.80L530.84,183.58M533.27,179.09L530.92,179.18M530.84,183.58A36.50,36.50 0 0 0 530.92,179.18M526.79,191.97L525.24,191.43M530.95,181.38L527.05,181.31M525.24,191.43A32.60,32.60 0 0 0 527.05,181.31M494.10,204.56L494.14,201.76M526.54,186.44L515.18,184.41M494.14,201.76A21.06,21.06 0 0 0 515.18,184.41M473.60,177.72L477.62,178.29M507.85,196.95L505.26,193.82M477.62,178.29A17.00,17.00 0 0 0 505.26,193.82" fill="none" stroke="#3a3a3a" stroke-width="0.42"/><text x="473.03" y="20.83" font-size="7.1" font-style="italic" text-anchor="end" fill="#222" dy="2.65" transform="rotate(82.37 473.03 20.83)">THBS4</text><text x="465.34" y="22.05" font-size="7.1" font-style="italic" text-anchor="end" fill="#222" dy="2.65" transform="rotate(79.60 465.34 22.05)">PON1</text><text x="457.72" y="23.64" font-size="7.1" font-style="italic" text-anchor="end" fill="#222" dy="2.65" transform="rotate(76.84 457.72 23.64)">IGF-I</text><text x="450.19" y="25.59" font-size="7.1" font-style="italic" text-anchor="end" fill="#222" dy="2.65" transform="rotate(74.07 450.19 25.59)">IGFBP3</text><text x="442.76" y="27.91" font-size="7.1" font-style="italic" text-anchor="end" fill="#222" dy="2.65" transform="rotate(71.31 442.76 27.91)">IGHE</text><text x="435.44" y="30.58" font-size="7.1" font-style="italic" text-anchor="end" fill="#222" dy="2.65" transform="rotate(68.54 435.44 30.58)">IGFALS</text><text x="428.27" y="33.60" font-size="7.1" font-style="italic" text-anchor="end" fill="#222" dy="2.65" transform="rotate(65.78 428.27 33.60)">TFF3</text><text x="421.25" y="36.96" font-size="7.1" font-style="italic" text-anchor="end" fill="#222" dy="2.65" transform="rotate(63.01 421.25 36.96)">PSMB6</text><text x="414.40" y="40.66" font-size="7.1" font-style="italic" text-anchor="end" fill="#222" dy="2.65" transform="rotate(60.25 414.40 40.66)">CTSC</text><text x="407.74" y="44.69" font-size="7.1" font-style="italic" text-anchor="end" fill="#222" dy="2.65" transform="rotate(57.48 407.74 44.69)">COL1A2</text><text x="401.28" y="49.03" font-size="7.1" font-style="italic" text-anchor="end" fill="#222" dy="2.65" transform="rotate(54.72 401.28 49.03)">Scgb1d30</text><text x="395.04" y="53.68" font-size="7.1" font-style="italic" text-anchor="end" fill="#222" dy="2.65" transform="rotate(51.95 395.04 53.68)">MMP2</text><text x="389.03" y="58.62" font-size="7.1" font-style="italic" text-anchor="end" fill="#222" dy="2.65" transform="rotate(49.19 389.03 58.62)">INHCA</text><text x="383.26" y="63.85" font-size="7.1" font-style="italic" text-anchor="end" fill="#222" dy="2.65" transform="rotate(46.42 383.26 63.85)">AMY2A</text><text x="377.75" y="69.35" font-size="7.1" font-style="italic" text-anchor="end" fill="#222" dy="2.65" transform="rotate(43.66 377.75 69.35)">SERPINF1</text><text x="372.52" y="75.11" font-size="7.1" font-style="italic" text-anchor="end" fill="#222" dy="2.65" transform="rotate(40.89 372.52 75.11)">C1QTNF3</text><text x="367.57" y="81.11" font-size="7.1" font-style="italic" text-anchor="end" fill="#222" dy="2.65" transform="rotate(38.13 367.57 81.11)">PRG4</text><text x="362.91" y="87.35" font-size="7.1" font-style="italic" text-anchor="end" fill="#222" dy="2.65" transform="rotate(35.36 362.91 87.35)">PSMA3</text><text x="358.56" y="93.80" font-size="7.1" font-style="italic" text-anchor="end" fill="#222" dy="2.65" transform="rotate(32.60 358.56 93.80)">COL12A1</text><text x="354.52" y="100.46" font-size="7.1" font-style="italic" text-anchor="end" fill="#222" dy="2.65" transform="rotate(29.83 354.52 100.46)">PLTP</text><text x="350.82" y="107.30" font-size="7.1" font-style="italic" text-anchor="end" fill="#222" dy="2.65" transform="rotate(27.07 350.82 107.30)">ECM2</text><text x="347.44" y="114.32" font-size="7.1" font-style="italic" text-anchor="end" fill="#222" dy="2.65" transform="rotate(24.30 347.44 114.32)">ME1</text><text x="344.41" y="121.49" font-size="7.1" font-style="italic" text-anchor="end" fill="#222" dy="2.65" transform="rotate(21.54 344.41 121.49)">FERMT3</text><text x="341.73" y="128.79" font-size="7.1" font-style="italic" text-anchor="end" fill="#222" dy="2.65" transform="rotate(18.77 341.73 128.79)">LUM</text><text x="339.40" y="136.22" font-size="7.1" font-style="italic" text-anchor="end" fill="#222" dy="2.65" transform="rotate(16.01 339.40 136.22)">HRG</text><text x="337.44" y="143.75" font-size="7.1" font-style="italic" text-anchor="end" fill="#222" dy="2.65" transform="rotate(13.24 337.44 143.75)">CFB</text><text x="335.84" y="151.37" font-size="7.1" font-style="italic" text-anchor="end" fill="#222" dy="2.65" transform="rotate(10.48 335.84 151.37)">C2</text><text x="334.61" y="159.05" font-size="7.1" font-style="italic" text-anchor="end" fill="#222" dy="2.65" transform="rotate(7.71 334.61 159.05)">ADAMTS13</text><text x="333.75" y="166.79" font-size="7.1" font-style="italic" text-anchor="end" fill="#222" dy="2.65" transform="rotate(4.95 333.75 166.79)">APOA4</text><text x="333.27" y="174.56" font-size="7.1" font-style="italic" text-anchor="end" fill="#222" dy="2.65" transform="rotate(2.18 333.27 174.56)">AMBP</text><text x="333.16" y="182.34" font-size="7.1" font-style="italic" text-anchor="end" fill="#222" dy="2.65" transform="rotate(-0.58 333.16 182.34)">TGFBI</text><text x="333.43" y="190.12" font-size="7.1" font-style="italic" text-anchor="end" fill="#222" dy="2.65" transform="rotate(-3.35 333.43 190.12)">COLEC11</text><text x="334.07" y="197.88" font-size="7.1" font-style="italic" text-anchor="end" fill="#222" dy="2.65" transform="rotate(-6.11 334.07 197.88)">COLEC10</text><text x="335.08" y="205.59" font-size="7.1" font-style="italic" text-anchor="end" fill="#222" dy="2.65" transform="rotate(-8.88 335.08 205.59)">C1R</text><text x="336.47" y="213.25" font-size="7.1" font-style="italic" text-anchor="end" fill="#222" dy="2.65" transform="rotate(-11.64 336.47 213.25)">CD14</text><text x="338.22" y="220.83" font-size="7.1" font-style="italic" text-anchor="end" fill="#222" dy="2.65" transform="rotate(-14.41 338.22 220.83)">APOB</text><text x="340.34" y="228.32" font-size="7.1" font-style="italic" text-anchor="end" fill="#222" dy="2.65" transform="rotate(-17.17 340.34 228.32)">PRL</text><text x="342.82" y="235.70" font-size="7.1" font-style="italic" text-anchor="end" fill="#222" dy="2.65" transform="rotate(-19.94 342.82 235.70)">FMOD</text><text x="345.65" y="242.95" font-size="7.1" font-style="italic" text-anchor="end" fill="#222" dy="2.65" transform="rotate(-22.70 345.65 242.95)">PSMB1</text><text x="348.82" y="250.06" font-size="7.1" font-style="italic" text-anchor="end" fill="#222" dy="2.65" transform="rotate(-25.47 348.82 250.06)">CFH</text><text x="352.34" y="257.00" font-size="7.1" font-style="italic" text-anchor="end" fill="#222" dy="2.65" transform="rotate(-28.23 352.34 257.00)">APOC3</text><text x="356.19" y="263.77" font-size="7.1" font-style="italic" text-anchor="end" fill="#222" dy="2.65" transform="rotate(-31.00 356.19 263.77)">APOC4</text><text x="360.35" y="270.34" font-size="7.1" font-style="italic" text-anchor="end" fill="#222" dy="2.65" transform="rotate(-33.76 360.35 270.34)">POSTN</text><text x="364.83" y="276.71" font-size="7.1" font-style="italic" text-anchor="end" fill="#222" dy="2.65" transform="rotate(-36.53 364.83 276.71)">ITIH3</text><text x="369.62" y="282.85" font-size="7.1" font-style="italic" text-anchor="end" fill="#222" dy="2.65" transform="rotate(-39.29 369.62 282.85)">COL6A1</text><text x="374.69" y="288.75" font-size="7.1" font-style="italic" text-anchor="end" fill="#222" dy="2.65" transform="rotate(-42.06 374.69 288.75)">ADIPOQ</text><text x="380.04" y="294.40" font-size="7.1" font-style="italic" text-anchor="end" fill="#222" dy="2.65" transform="rotate(-44.82 380.04 294.40)">PCYOX1</text><text x="385.66" y="299.79" font-size="7.1" font-style="italic" text-anchor="end" fill="#222" dy="2.65" transform="rotate(-47.59 385.66 299.79)">GWHPANOY004480</text><text x="391.53" y="304.90" font-size="7.1" font-style="italic" text-anchor="end" fill="#222" dy="2.65" transform="rotate(-50.35 391.53 304.90)">ACAT2</text><text x="397.64" y="309.72" font-size="7.1" font-style="italic" text-anchor="end" fill="#222" dy="2.65" transform="rotate(-53.12 397.64 309.72)">PDLIM1</text><text x="403.98" y="314.24" font-size="7.1" font-style="italic" text-anchor="end" fill="#222" dy="2.65" transform="rotate(-55.88 403.98 314.24)">SERPINA1</text><text x="410.53" y="318.45" font-size="7.1" font-style="italic" text-anchor="end" fill="#222" dy="2.65" transform="rotate(-58.65 410.53 318.45)">FGG</text><text x="417.27" y="322.34" font-size="7.1" font-style="italic" text-anchor="end" fill="#222" dy="2.65" transform="rotate(-61.41 417.27 322.34)">FGB</text><text x="424.19" y="325.89" font-size="7.1" font-style="italic" text-anchor="end" fill="#222" dy="2.65" transform="rotate(-64.18 424.19 325.89)">FGA</text><text x="431.28" y="329.11" font-size="7.1" font-style="italic" text-anchor="end" fill="#222" dy="2.65" transform="rotate(-66.94 431.28 329.11)">C5</text><text x="438.51" y="331.99" font-size="7.1" font-style="italic" text-anchor="end" fill="#222" dy="2.65" transform="rotate(-69.71 438.51 331.99)">FGL1</text><text x="445.87" y="334.51" font-size="7.1" font-style="italic" text-anchor="end" fill="#222" dy="2.65" transform="rotate(-72.47 445.87 334.51)">APOE</text><text x="453.35" y="336.68" font-size="7.1" font-style="italic" text-anchor="end" fill="#222" dy="2.65" transform="rotate(-75.24 453.35 336.68)">B3GNT1</text><text x="460.92" y="338.48" font-size="7.1" font-style="italic" text-anchor="end" fill="#222" dy="2.65" transform="rotate(-78.00 460.92 338.48)">AGT</text><text x="468.57" y="339.91" font-size="7.1" font-style="italic" text-anchor="end" fill="#222" dy="2.65" transform="rotate(-80.77 468.57 339.91)">c3</text><text x="476.28" y="340.97" font-size="7.1" font-style="italic" text-anchor="end" fill="#222" dy="2.65" transform="rotate(-83.53 476.28 340.97)">A2M</text><text x="484.03" y="341.66" font-size="7.1" font-style="italic" text-anchor="end" fill="#222" dy="2.65" transform="rotate(-86.30 484.03 341.66)">HABP2</text><text x="491.81" y="341.98" font-size="7.1" font-style="italic" text-anchor="end" fill="#222" dy="2.65" transform="rotate(-89.06 491.81 341.98)">CFI</text><text x="499.59" y="341.92" font-size="7.1" font-style="italic" text-anchor="start" fill="#222" dy="2.65" transform="rotate(-271.83 499.59 341.92)">KNG1</text><text x="507.37" y="341.48" font-size="7.1" font-style="italic" text-anchor="start" fill="#222" dy="2.65" transform="rotate(-274.59 507.37 341.48)">ECM1</text><text x="515.11" y="340.67" font-size="7.1" font-style="italic" text-anchor="start" fill="#222" dy="2.65" transform="rotate(-277.36 515.11 340.67)">SERPIND1</text><text x="522.80" y="339.49" font-size="7.1" font-style="italic" text-anchor="start" fill="#222" dy="2.65" transform="rotate(-280.12 522.80 339.49)">CPB2</text><text x="530.43" y="337.94" font-size="7.1" font-style="italic" text-anchor="start" fill="#222" dy="2.65" transform="rotate(-282.89 530.43 337.94)">GWHPANOY007533</text><text x="537.97" y="336.02" font-size="7.1" font-style="italic" text-anchor="start" fill="#222" dy="2.65" transform="rotate(-285.65 537.97 336.02)">LOC519737</text><text x="545.41" y="333.74" font-size="7.1" font-style="italic" text-anchor="start" fill="#222" dy="2.65" transform="rotate(-288.42 545.41 333.74)">SAA4</text><text x="552.73" y="331.10" font-size="7.1" font-style="italic" text-anchor="start" fill="#222" dy="2.65" transform="rotate(-291.18 552.73 331.10)">F9</text><text x="559.92" y="328.11" font-size="7.1" font-style="italic" text-anchor="start" fill="#222" dy="2.65" transform="rotate(-293.95 559.92 328.11)">MGAM</text><text x="566.96" y="324.78" font-size="7.1" font-style="italic" text-anchor="start" fill="#222" dy="2.65" transform="rotate(-296.71 566.96 324.78)">CST3</text><text x="573.82" y="321.12" font-size="7.1" font-style="italic" text-anchor="start" fill="#222" dy="2.65" transform="rotate(-299.48 573.82 321.12)">CP</text><text x="580.50" y="317.13" font-size="7.1" font-style="italic" text-anchor="start" fill="#222" dy="2.65" transform="rotate(-302.24 580.50 317.13)">F10</text><text x="586.99" y="312.82" font-size="7.1" font-style="italic" text-anchor="start" fill="#222" dy="2.65" transform="rotate(-305.01 586.99 312.82)">SHBG</text><text x="593.25" y="308.20" font-size="7.1" font-style="italic" text-anchor="start" fill="#222" dy="2.65" transform="rotate(-307.77 593.25 308.20)">CFP</text><text x="599.29" y="303.28" font-size="7.1" font-style="italic" text-anchor="start" fill="#222" dy="2.65" transform="rotate(-310.54 599.29 303.28)">LECT2</text><text x="605.08" y="298.08" font-size="7.1" font-style="italic" text-anchor="start" fill="#222" dy="2.65" transform="rotate(-313.30 605.08 298.08)">F5</text><text x="610.61" y="292.61" font-size="7.1" font-style="italic" text-anchor="start" fill="#222" dy="2.65" transform="rotate(-316.07 610.61 292.61)">ANG</text><text x="615.87" y="286.88" font-size="7.1" font-style="italic" text-anchor="start" fill="#222" dy="2.65" transform="rotate(-318.83 615.87 286.88)">LRG1</text><text x="620.86" y="280.90" font-size="7.1" font-style="italic" text-anchor="start" fill="#222" dy="2.65" transform="rotate(-321.60 620.86 280.90)">HP</text><text x="625.54" y="274.68" font-size="7.1" font-style="italic" text-anchor="start" fill="#222" dy="2.65" transform="rotate(-324.36 625.54 274.68)">APOC2</text><text x="629.92" y="268.25" font-size="7.1" font-style="italic" text-anchor="start" fill="#222" dy="2.65" transform="rotate(-327.13 629.92 268.25)">SPP2</text><text x="633.99" y="261.61" font-size="7.1" font-style="italic" text-anchor="start" fill="#222" dy="2.65" transform="rotate(-329.89 633.99 261.61)">PGLYRP1</text><text x="637.73" y="254.79" font-size="7.1" font-style="italic" text-anchor="start" fill="#222" dy="2.65" transform="rotate(-332.66 637.73 254.79)">CST6</text><text x="641.14" y="247.79" font-size="7.1" font-style="italic" text-anchor="start" fill="#222" dy="2.65" transform="rotate(-335.42 641.14 247.79)">SLC3A2</text><text x="644.20" y="240.63" font-size="7.1" font-style="italic" text-anchor="start" fill="#222" dy="2.65" transform="rotate(-338.19 644.20 240.63)">SERPINA3</text><text x="646.92" y="233.34" font-size="7.1" font-style="italic" text-anchor="start" fill="#222" dy="2.65" transform="rotate(-340.95 646.92 233.34)">DKK3</text><text x="649.28" y="225.92" font-size="7.1" font-style="italic" text-anchor="start" fill="#222" dy="2.65" transform="rotate(-343.72 649.28 225.92)">PROCR</text><text x="651.28" y="218.40" font-size="7.1" font-style="italic" text-anchor="start" fill="#222" dy="2.65" transform="rotate(-346.48 651.28 218.40)">GC</text><text x="652.92" y="210.79" font-size="7.1" font-style="italic" text-anchor="start" fill="#222" dy="2.65" transform="rotate(-349.25 652.92 210.79)">RGS12</text><text x="654.19" y="203.11" font-size="7.1" font-style="italic" text-anchor="start" fill="#222" dy="2.65" transform="rotate(-352.01 654.19 203.11)">F2</text><text x="655.08" y="195.38" font-size="7.1" font-style="italic" text-anchor="start" fill="#222" dy="2.65" transform="rotate(-354.78 655.08 195.38)">MAPRE1</text><text x="655.60" y="187.62" font-size="7.1" font-style="italic" text-anchor="start" fill="#222" dy="2.65" transform="rotate(-357.54 655.60 187.62)">IGLL5</text><text x="655.75" y="179.83" font-size="7.1" font-style="italic" text-anchor="start" fill="#222" dy="2.65" transform="rotate(-0.31 655.75 179.83)">CFD</text><text x="655.52" y="172.05" font-size="7.1" font-style="italic" text-anchor="start" fill="#222" dy="2.65" transform="rotate(-3.07 655.52 172.05)">FAH</text><text x="654.91" y="164.29" font-size="7.1" font-style="italic" text-anchor="start" fill="#222" dy="2.65" transform="rotate(-5.84 654.91 164.29)">APMAP</text><path d="M570.04,170.79A76.23,76.23 0 0 0 569.40,166.78M588.37,168.39A94.72,94.72 0 0 0 587.58,163.41M569.40,166.78L587.58,163.41M551.70,173.19A57.74,57.74 0 0 0 550.25,165.83M578.49,165.09A85.48,85.48 0 0 0 577.05,158.69M550.25,165.83L577.05,158.69M625.04,163.58A131.70,131.70 0 0 0 623.90,156.43M643.37,161.17A150.19,150.19 0 0 0 642.07,153.02M623.90,156.43L642.07,153.02M606.70,165.98A113.21,113.21 0 0 0 604.29,153.27M632.99,154.72A140.95,140.95 0 0 0 631.20,146.55M604.29,153.27L631.20,146.55M563.65,162.26A71.61,71.61 0 0 0 562.82,159.38M617.75,149.91A127.08,127.08 0 0 0 615.77,142.87M562.82,159.38L615.77,142.87" fill="none" stroke="#555" stroke-width="0.5"/><polyline points="481.1,21.5 486.3,21.5 490.9,75.4 487.0,75.4" fill="none" stroke="#222" stroke-width="0.8"/><polyline points="487.6,77.1 492.9,77.1 497.5,130.7 492.2,130.7" fill="none" stroke="#222" stroke-width="0.8"/><text x="494.30" y="50.30" font-size="10.3" text-anchor="start" fill="#1a1a1a" textLength="32.20" lengthAdjust="spacingAndGlyphs">ARPBP</text><text x="497.50" y="103.50" font-size="10.3" text-anchor="start" fill="#1a1a1a" textLength="51.90" lengthAdjust="spacingAndGlyphs">non-ARPBP</text><defs><linearGradient id="cb" x1="0" y1="0" x2="0" y2="1"><stop offset="0" stop-color="#e6816b"/><stop offset="0.5" stop-color="#d1d1d1"/><stop offset="1" stop-color="#1d5343"/></linearGradient></defs><rect x="566" y="41" width="9.3" height="73.6" fill="url(#cb)"/><line x1="575.6" y1="41" x2="575.6" y2="114.6" stroke="#222" stroke-width="0.6"/><line x1="575.6" y1="41.30" x2="577.2" y2="41.30" stroke="#222" stroke-width="0.6"/><text x="577.80" y="43.50" font-size="6.2" text-anchor="start" fill="#333">1.00</text><line x1="575.6" y1="55.98" x2="577.2" y2="55.98" stroke="#222" stroke-width="0.6"/><text x="577.80" y="58.18" font-size="6.2" text-anchor="start" fill="#333">0.80</text><line x1="575.6" y1="70.66" x2="577.2" y2="70.66" stroke="#222" stroke-width="0.6"/><text x="577.80" y="72.86" font-size="6.2" text-anchor="start" fill="#333">0.60</text><line x1="575.6" y1="85.34" x2="577.2" y2="85.34" stroke="#222" stroke-width="0.6"/><text x="577.80" y="87.54" font-size="6.2" text-anchor="start" fill="#333">0.40</text><line x1="575.6" y1="100.02" x2="577.2" y2="100.02" stroke="#222" stroke-width="0.6"/><text x="577.80" y="102.22" font-size="6.2" text-anchor="start" fill="#333">0.20</text><line x1="575.6" y1="114.70" x2="577.2" y2="114.70" stroke="#222" stroke-width="0.6"/><text x="577.80" y="116.90" font-size="6.2" text-anchor="start" fill="#333">0.00</text><text x="610.60" y="45.80" font-size="7.6" text-anchor="start" fill="#1a1a1a" font-weight="bold">trend</text><rect x="611" y="47.6" width="8" height="4.7" fill="#3b7dd8"/><rect x="611" y="52.3" width="8" height="5" fill="#dc4f1c"/><text x="619.80" y="52.30" font-size="7.3" text-anchor="start" fill="#333">up</text><text x="619.80" y="57.60" font-size="7.3" text-anchor="start" fill="#333">down</text></svg></body></html>
